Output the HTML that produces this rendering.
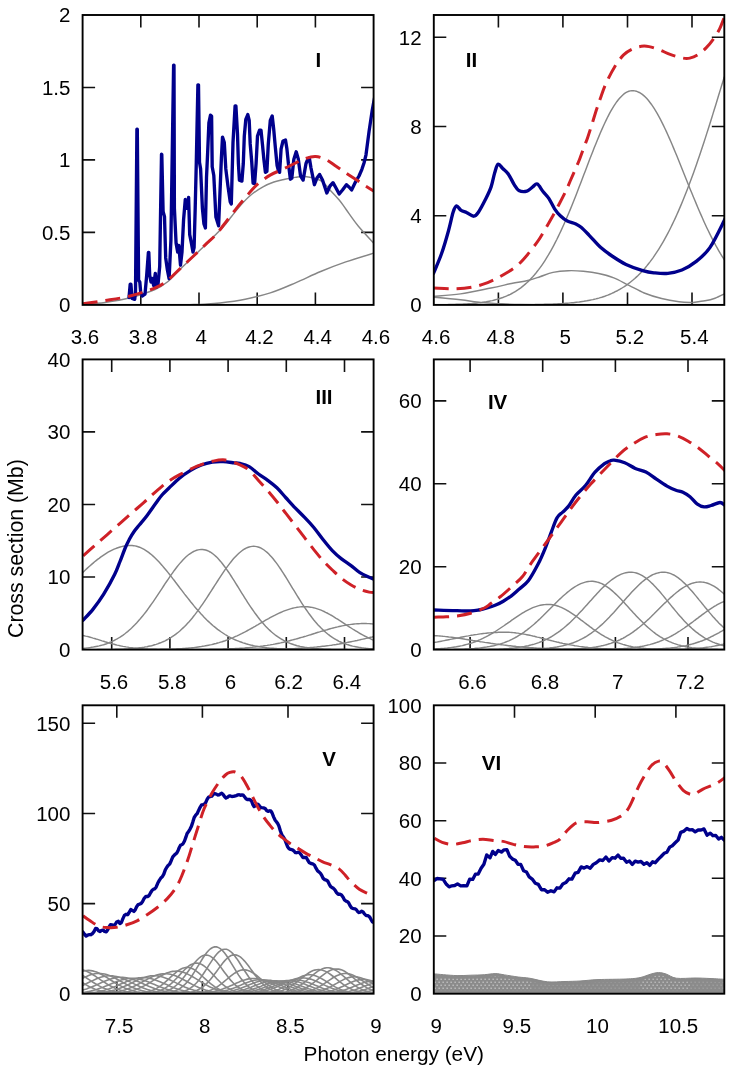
<!DOCTYPE html><html><head><meta charset="utf-8"><title>Cross sections</title><style>html,body{margin:0;padding:0;background:#fff}svg{display:block;will-change:transform}text{font-family:"Liberation Sans",sans-serif}</style></head><body>
<svg width="737" height="1073" viewBox="0 0 737 1073">
<rect width="737" height="1073" fill="#fff"/>
<path d="M140.8 15V27.5 M140.8 304.9V292.4 M199 15V27.5 M199 304.9V292.4 M257.2 15V27.5 M257.2 304.9V292.4 M315.4 15V27.5 M315.4 304.9V292.4 M82.6 232.4H95.1 M373.6 232.4H361.1 M82.6 159.9H95.1 M373.6 159.9H361.1 M82.6 87.5H95.1 M373.6 87.5H361.1" stroke="#111" stroke-width="1.6" fill="none"/>
<defs><clipPath id="cI"><rect x="82.6" y="15" width="291" height="289.9"/></clipPath></defs>
<g clip-path="url(#cI)">
<path stroke="#868686" stroke-width="1.45" fill="none" d="M82.6 304.3 C86.3 304 97.1 303.6 105 302.5 C112.9 301.4 121.7 300 130 297.8 C138.3 295.6 148.7 292.2 155 289.5 C161.3 286.8 163.7 285 168 281.5 C172.3 278 175.5 273.9 181 268.5 C186.5 263.1 194 256.1 200.9 249.3 C207.8 242.5 217.5 233 222.6 227.5 C227.7 222 228.4 220.3 231.5 216.5 C234.6 212.7 237.9 208.2 241.3 204.5 C244.7 200.8 248.5 196.9 252.1 194 C255.7 191.1 259.4 188.8 263 186.8 C266.6 184.8 270.2 183.3 273.9 182 C277.6 180.7 281.5 180 285 179.2 C288.5 178.4 291.7 177.8 295 177.4 C298.3 177 300.7 176 305 176.5 C309.3 177 316.3 178.2 320.6 180.6 C324.9 183 327.8 187.7 330.9 190.9 C334 194.1 336.7 197 339.2 200 C341.7 203 342.6 204.6 345.8 209 C349 213.4 353.5 220.3 358.4 226.2 C363.3 232.1 372.2 241.4 375 244.5"/>
<path stroke="#868686" stroke-width="1.45" fill="none" d="M190 304.6 C192.5 304.5 200 304.5 205 304.2 C210 303.9 213.3 303.8 220 303 C226.7 302.2 236.8 300.9 245.2 299.2 C253.6 297.5 261.9 295.6 270.3 292.9 C278.7 290.2 287.1 286.4 295.5 282.8 C303.9 279.2 312.3 275 320.7 271.5 C329.1 268 336.8 265 345.8 261.9 C354.9 258.8 370.1 254.3 375 252.8"/>
<path stroke="#00008c" stroke-width="3.35" fill="none" stroke-linejoin="round" stroke-linecap="round" d="M129 297.6 L130.2 284.2 L130.9 284.2 L132.1 298.4 L134.7 299.3 L135.5 292.4 L136.9 129.2 L137.3 129.2 L138.6 280.3 L139.8 282 L140.7 292.4 L142.4 295.9 L145 294.1 L146.7 275.2 L148.4 252.4 L148.8 252.4 L149.7 275.2 L151 282 L152.4 278.6 L153.6 285.5 L155.3 273.4 L156.2 287.2 L157.9 285.5 L159.7 266.6 L161.5 154.2 L161.8 154.6 L163.1 211.4 L164.5 216.6 L165.7 257.9 L167.4 270 L169.1 278.6 L170.9 240.7 L171.7 189 L173.6 65.2 L174 65.2 L174.4 208.3 L176.1 243.3 L177.7 252.1 L178.8 245.5 L180.5 265.2 L182 252.1 L183.6 219.3 L185.3 199.5 L187.1 208.3 L188.6 197.4 L189.7 234.6 L191.4 243.3 L193 252.1 L194.1 247.7 L195.2 208.3 L196.3 162.3 L197.9 84.8 L198.5 84.8 L199.5 162.3 L200.6 168.9 L202.4 208.3 L203.9 223.6 L205.4 228 L206.5 177.6 L207.6 153.6 L208.9 122.9 L210.5 115.2 L211.6 116.3 L212.2 166.7 L213.8 175.5 L215.9 217.1 L218.6 225.8 L221.4 157.9 L222.5 137.1 L224.3 142.6 L225.8 168.9 L228 186.4 L230.2 201.7 L231.3 203.9 L233 142.6 L235.1 105.9 L235.9 105.9 L237.5 134.1 L238.4 163.5 L239.4 180.1 L241.9 181.1 L243.3 163.5 L244.3 136.1 L245.8 119.5 L247.8 114.6 L249.2 120.4 L250.2 143.9 L251.7 161.5 L253.1 183.1 L254.6 183.6 L256.1 163.5 L257.5 136.1 L259.5 130.2 L261 130.2 L262.4 143.9 L263.9 159.6 L265.4 172.3 L266.9 171.3 L268.3 143.9 L270.3 120.4 L272.2 116 L273.7 129.2 L275.2 145.9 L277.1 165.5 L278.6 171.3 L279.6 172.3 L281.1 148.8 L283 141 L285.5 140 L286.9 148.8 L288.4 163.5 L290.4 179.2 L291.8 178.2 L293.8 159.6 L296.2 151.8 L298.2 158.6 L300.6 176.2 L303.1 180.1 L306 163.5 L307.5 160 L309.3 157.9 L311 168 L314.4 184.7 L317 178 L319.6 174.4 L322.5 180 L326.8 193 L330 186 L333 182.7 L336 188 L339.2 194 L342.5 190 L346.4 184.7 L349 187 L351.6 189.9 L355.7 181.6 L359 176 L361.9 169.3 L364 163 L366 154.8 L369.1 131.1 L372.2 110.5 L374.5 98"/>
<path stroke="#cf2127" stroke-width="3" fill="none" stroke-dasharray="15 8" d="M82.6 303.8 C86.3 303.3 97.1 301.9 105 300.6 C112.9 299.3 121.7 298.1 130 296 C138.3 293.9 148.7 290.6 155 287.9 C161.3 285.2 163.7 283.4 168 280 C172.3 276.6 176.8 271.6 181 267.7 C185.2 263.8 189 260.3 193 256.5 C197 252.7 201.3 248.6 205.2 244.9 C209 241.2 212.8 238.2 216.1 234.6 C219.4 231 221.7 227.4 225 223.2 C228.3 218.9 232.3 213.6 235.9 209.1 C239.5 204.6 243.1 200.2 246.7 196 C250.3 191.8 253.6 187.6 257.6 184.1 C261.6 180.6 266.5 177.3 270.6 174.9 C274.8 172.5 278.5 171.3 282.5 169.4 C286.5 167.5 290.8 165.3 294.5 163.5 C298.2 161.7 301.5 159.8 305 158.6 C308.5 157.4 312 156.2 315.5 156.4 C319 156.6 322.4 157.9 325.8 159.5 C329.2 161.1 332.7 163.9 336.1 166.2 C339.5 168.5 343 171.1 346.4 173.4 C349.8 175.7 353.4 177.9 356.7 180.1 C360 182.2 362.9 184.4 366 186.3 C369.1 188.2 373.5 190.9 375 191.8"/>
</g>
<rect x="82.6" y="15" width="291" height="289.9" stroke="#000" stroke-width="1.9" fill="none"/>
<text x="84.9" y="344.4" font-size="20.5" text-anchor="middle">3.6</text>
<text x="143.1" y="344.4" font-size="20.5" text-anchor="middle">3.8</text>
<text x="201.3" y="344.4" font-size="20.5" text-anchor="middle">4</text>
<text x="259.5" y="344.4" font-size="20.5" text-anchor="middle">4.2</text>
<text x="317.7" y="344.4" font-size="20.5" text-anchor="middle">4.4</text>
<text x="375.9" y="344.4" font-size="20.5" text-anchor="middle">4.6</text>
<text x="70.4" y="312.2" font-size="20.5" text-anchor="end">0</text>
<text x="70.4" y="239.8" font-size="20.5" text-anchor="end">0.5</text>
<text x="70.4" y="167.3" font-size="20.5" text-anchor="end">1</text>
<text x="70.4" y="94.9" font-size="20.5" text-anchor="end">1.5</text>
<text x="70.4" y="22.4" font-size="20.5" text-anchor="end">2</text>
<text x="318.3" y="66.6" font-size="20.5" font-weight="bold" text-anchor="middle">I</text>
<path d="M498.4 15V27.5 M498.4 304.9V292.4 M562.9 15V27.5 M562.9 304.9V292.4 M627.5 15V27.5 M627.5 304.9V292.4 M692 15V27.5 M692 304.9V292.4 M433.8 215.7H446.3 M724.3 215.7H711.8 M433.8 126.5H446.3 M724.3 126.5H711.8 M433.8 37.3H446.3 M724.3 37.3H711.8" stroke="#111" stroke-width="1.6" fill="none"/>
<defs><clipPath id="cII"><rect x="433.8" y="15" width="290.5" height="289.9"/></clipPath></defs>
<g clip-path="url(#cII)">
<path stroke="#868686" stroke-width="1.45" fill="none" d="M433.8 304.7 L435.3 304.7 L436.8 304.7 L438.3 304.7 L439.8 304.7 L441.3 304.7 L442.8 304.6 L444.3 304.6 L445.8 304.6 L447.3 304.6 L448.8 304.5 L450.3 304.5 L451.8 304.5 L453.3 304.4 L454.8 304.4 L456.3 304.3 L457.8 304.3 L459.3 304.2 L460.8 304.2 L462.3 304.1 L463.8 304 L465.3 304 L466.8 303.9 L468.3 303.8 L469.8 303.7 L471.3 303.6 L472.8 303.4 L474.3 303.3 L475.8 303.2 L477.3 303 L478.8 302.8 L480.3 302.7 L481.8 302.5 L483.3 302.2 L484.8 302 L486.3 301.8 L487.8 301.5 L489.3 301.2 L490.8 300.9 L492.3 300.6 L493.8 300.2 L495.3 299.8 L496.8 299.4 L498.3 299 L499.8 298.5 L501.3 298 L502.8 297.5 L504.3 296.9 L505.8 296.3 L507.3 295.7 L508.8 295 L510.3 294.3 L511.8 293.5 L513.3 292.7 L514.8 291.8 L516.3 290.9 L517.8 289.9 L519.3 288.8 L520.8 287.8 L522.3 286.6 L523.8 285.4 L525.3 284.1 L526.8 282.8 L528.3 281.4 L529.8 279.9 L531.3 278.3 L532.8 276.7 L534.3 275 L535.8 273.2 L537.3 271.3 L538.8 269.4 L540.3 267.4 L541.8 265.3 L543.3 263.1 L544.8 260.8 L546.3 258.4 L547.8 256 L549.3 253.4 L550.8 250.8 L552.3 248.1 L553.8 245.3 L555.3 242.4 L556.8 239.5 L558.3 236.4 L559.8 233.3 L561.3 230.1 L562.8 226.8 L564.3 223.5 L565.8 220 L567.3 216.5 L568.8 213 L570.3 209.4 L571.8 205.7 L573.3 202 L574.8 198.2 L576.3 194.4 L577.8 190.5 L579.3 186.6 L580.8 182.7 L582.3 178.8 L583.8 174.8 L585.3 170.9 L586.8 167 L588.3 163.1 L589.8 159.1 L591.3 155.3 L592.8 151.4 L594.3 147.6 L595.8 143.9 L597.3 140.2 L598.8 136.6 L600.3 133 L601.8 129.6 L603.3 126.2 L604.8 123 L606.3 119.9 L607.8 116.8 L609.3 113.9 L610.8 111.2 L612.3 108.6 L613.8 106.1 L615.3 103.8 L616.8 101.7 L618.3 99.7 L619.8 98 L621.3 96.4 L622.8 95 L624.3 93.7 L625.8 92.7 L627.3 91.9 L628.8 91.3 L630.3 90.9 L631.8 90.7 L633.3 90.7 L634.8 90.9 L636.3 91.2 L637.8 91.8 L639.3 92.5 L640.8 93.4 L642.3 94.4 L643.8 95.6 L645.3 97 L646.8 98.6 L648.3 100.3 L649.8 102.2 L651.3 104.2 L652.8 106.4 L654.3 108.7 L655.8 111.1 L657.3 113.7 L658.8 116.4 L660.3 119.2 L661.8 122.1 L663.3 125.1 L664.8 128.2 L666.3 131.4 L667.8 134.7 L669.3 138.1 L670.8 141.5 L672.3 145 L673.8 148.6 L675.3 152.2 L676.8 155.8 L678.3 159.5 L679.8 163.2 L681.3 166.9 L682.8 170.7 L684.3 174.4 L685.8 178.2 L687.3 181.9 L688.8 185.7 L690.3 189.4 L691.8 193.1 L693.3 196.7 L694.8 200.3 L696.3 203.9 L697.8 207.5 L699.3 211 L700.8 214.4 L702.3 217.8 L703.8 221.2 L705.3 224.5 L706.8 227.7 L708.3 230.8 L709.8 233.9 L711.3 236.9 L712.8 239.8 L714.3 242.7 L715.8 245.5 L717.3 248.2 L718.8 250.8 L720.3 253.4 L721.8 255.8 L723.3 258.2 L724.3 259.8"/>
<path stroke="#868686" stroke-width="1.45" fill="none" d="M433.8 304.8 L435.3 304.8 L436.8 304.8 L438.3 304.8 L439.8 304.8 L441.3 304.8 L442.8 304.8 L444.3 304.8 L445.8 304.8 L447.3 304.8 L448.8 304.8 L450.3 304.8 L451.8 304.8 L453.3 304.8 L454.8 304.8 L456.3 304.8 L457.8 304.8 L459.3 304.8 L460.8 304.8 L462.3 304.8 L463.8 304.8 L465.3 304.8 L466.8 304.8 L468.3 304.8 L469.8 304.8 L471.3 304.8 L472.8 304.8 L474.3 304.8 L475.8 304.8 L477.3 304.8 L478.8 304.8 L480.3 304.8 L481.8 304.8 L483.3 304.8 L484.8 304.8 L486.3 304.8 L487.8 304.8 L489.3 304.8 L490.8 304.8 L492.3 304.8 L493.8 304.8 L495.3 304.8 L496.8 304.8 L498.3 304.8 L499.8 304.8 L501.3 304.8 L502.8 304.8 L504.3 304.8 L505.8 304.8 L507.3 304.8 L508.8 304.8 L510.3 304.8 L511.8 304.8 L513.3 304.8 L514.8 304.8 L516.3 304.7 L517.8 304.7 L519.3 304.7 L520.8 304.7 L522.3 304.7 L523.8 304.7 L525.3 304.7 L526.8 304.7 L528.3 304.6 L529.8 304.6 L531.3 304.6 L532.8 304.6 L534.3 304.6 L535.8 304.5 L537.3 304.5 L538.8 304.5 L540.3 304.4 L541.8 304.4 L543.3 304.4 L544.8 304.3 L546.3 304.3 L547.8 304.2 L549.3 304.2 L550.8 304.1 L552.3 304.1 L553.8 304 L555.3 303.9 L556.8 303.9 L558.3 303.8 L559.8 303.7 L561.3 303.6 L562.8 303.5 L564.3 303.4 L565.8 303.3 L567.3 303.2 L568.8 303.1 L570.3 302.9 L571.8 302.8 L573.3 302.7 L574.8 302.5 L576.3 302.3 L577.8 302.1 L579.3 302 L580.8 301.7 L582.3 301.5 L583.8 301.3 L585.3 301 L586.8 300.8 L588.3 300.5 L589.8 300.2 L591.3 299.9 L592.8 299.6 L594.3 299.2 L595.8 298.9 L597.3 298.5 L598.8 298.1 L600.3 297.6 L601.8 297.2 L603.3 296.7 L604.8 296.2 L606.3 295.6 L607.8 295.1 L609.3 294.5 L610.8 293.8 L612.3 293.2 L613.8 292.5 L615.3 291.7 L616.8 291 L618.3 290.2 L619.8 289.3 L621.3 288.5 L622.8 287.5 L624.3 286.6 L625.8 285.6 L627.3 284.5 L628.8 283.4 L630.3 282.2 L631.8 281 L633.3 279.8 L634.8 278.5 L636.3 277.1 L637.8 275.7 L639.3 274.2 L640.8 272.7 L642.3 271.1 L643.8 269.4 L645.3 267.7 L646.8 265.9 L648.3 264 L649.8 262.1 L651.3 260.1 L652.8 258.1 L654.3 255.9 L655.8 253.7 L657.3 251.4 L658.8 249.1 L660.3 246.7 L661.8 244.2 L663.3 241.6 L664.8 238.9 L666.3 236.2 L667.8 233.4 L669.3 230.5 L670.8 227.5 L672.3 224.4 L673.8 221.3 L675.3 218.1 L676.8 214.8 L678.3 211.4 L679.8 207.9 L681.3 204.4 L682.8 200.8 L684.3 197.1 L685.8 193.3 L687.3 189.5 L688.8 185.6 L690.3 181.6 L691.8 177.5 L693.3 173.4 L694.8 169.2 L696.3 164.9 L697.8 160.6 L699.3 156.2 L700.8 151.8 L702.3 147.3 L703.8 142.7 L705.3 138.1 L706.8 133.4 L708.3 128.7 L709.8 124 L711.3 119.2 L712.8 114.4 L714.3 109.5 L715.8 104.7 L717.3 99.8 L718.8 94.8 L720.3 89.9 L721.8 85 L723.3 80.1 L724.3 76.8"/>
<path stroke="#868686" stroke-width="1.45" fill="none" d="M433.8 296.4 C438.2 296 451 295.3 460.5 293.9 C470 292.5 482.5 289.7 491 288 C499.5 286.3 505.3 284.8 511.4 283.5 C517.5 282.2 522.9 281.6 527.7 280.5 C532.5 279.4 535.8 278.1 540 276.7 C544.2 275.3 548.3 273.4 553 272.4 C557.7 271.4 563.1 270.9 568.2 270.7 C573.3 270.5 578.3 270.8 583.4 271.3 C588.5 271.8 593.5 272.4 598.6 273.5 C603.7 274.6 608.7 275.8 613.8 277.8 C618.9 279.8 623.9 282.9 629 285.4 C634.1 287.9 638.8 290.8 644.2 293 C649.6 295.2 655.8 297.1 661.6 298.5 C667.4 299.9 673.9 301 679 301.7 C684.1 302.4 690.1 302.5 692.3 302.6"/>
<path stroke="#868686" stroke-width="1.45" fill="none" d="M433.8 297.2 C438.2 297.6 452.6 298.9 460.5 299.8 C468.4 300.7 474.8 301.9 480.9 302.5 C487 303.1 490.7 303.3 497.2 303.6 C503.7 303.9 509.5 304.3 520 304.5 C530.5 304.7 553.3 304.8 560 304.9"/>
<path stroke="#868686" stroke-width="1.45" fill="none" d="M692.3 302.6 C694.4 302.3 701.2 301.5 705 300.8 C708.8 300.1 711.7 299.4 715 298.2 C718.3 297 723.3 294.4 725 293.6"/>
<path stroke="#00008c" stroke-width="3.35" fill="none" stroke-linejoin="round" stroke-linecap="round" d="M433.5 273.4 C434.8 270.1 439 260.9 441.5 253.8 C444 246.7 446.6 237.6 448.5 230.7 C450.4 223.8 451.8 216.4 453.1 212.3 C454.4 208.2 455.2 206.3 456.5 206 C457.8 205.7 459.4 209.3 461.1 210.4 C462.8 211.5 464.8 211.7 466.9 212.7 C469 213.7 471.9 216.3 473.8 216.2 C475.7 216.1 476.5 215.1 478.4 212.3 C480.3 209.5 483.3 203.8 485.4 199.6 C487.5 195.4 489.6 191.3 491.1 186.9 C492.6 182.5 493.5 176.9 494.6 173.1 C495.8 169.3 496.6 165.1 498 164.3 C499.4 163.5 501 166.8 502.7 168.5 C504.4 170.2 506.5 171.5 508.4 174.2 C510.3 176.9 512.5 181.9 514.2 184.6 C515.9 187.3 516.7 189.3 518.8 190.4 C520.9 191.5 524.6 191.7 526.9 191.1 C529.2 190.5 531 188.1 532.7 186.9 C534.4 185.7 535.6 183.3 537.3 184.1 C539 184.9 541.1 189.1 543 191.5 C544.9 193.9 546.9 195.5 548.8 198.4 C550.7 201.3 552.7 205.9 554.6 208.8 C556.5 211.7 558.2 213.7 560.3 215.7 C562.4 217.7 564.8 219.7 567.3 221 C569.8 222.3 573 222.8 575.3 223.8 C577.6 224.9 578.8 225.4 581.1 227.3 C583.4 229.2 585.9 231.9 589.2 235.3 C592.5 238.7 597 244.2 600.8 247.6 C604.6 251 607.8 253.2 612 256 C616.2 258.8 620.9 262 626 264.4 C631.1 266.8 638.1 269.2 642.7 270.6 C647.4 272 649.7 272.4 653.9 272.8 C658.1 273.2 663.2 273.8 667.9 273.3 C672.6 272.8 677.2 271.9 681.9 270 C686.6 268.1 691.2 265.3 695.9 261.6 C700.6 257.9 705 254.7 709.9 247.6 C714.8 240.5 722.5 223.8 725 219"/>
<path stroke="#cf2127" stroke-width="3" fill="none" stroke-dasharray="15 8" d="M433.5 287.9 C436.8 288 446.8 288.9 453.1 288.8 C459.4 288.7 465.7 288.2 471.5 287.2 C477.3 286.2 482.3 284.7 487.7 282.6 C493.1 280.5 498.4 277.8 503.8 274.5 C509.2 271.2 514.5 268.3 520 263 C525.5 257.7 532.6 248.3 536.8 242.6 C541 236.9 542.5 233.7 545.3 229 C548.1 224.3 551.1 218.9 553.6 214.5 C556.1 210.1 557.9 206.5 560 202.5 C562.1 198.5 564.4 194.1 566.1 190.5 C567.8 186.9 568.7 184.6 570.2 181 C571.8 177.4 573.9 172.8 575.4 169.2 C576.9 165.6 578 163.4 579.5 159.5 C581 155.6 583.2 149.3 584.6 145.6 C586 141.9 586.5 140.9 587.7 137.4 C588.9 133.9 590.3 129.5 591.8 124.8 C593.3 120.1 595.2 113.5 596.7 109 C598.2 104.5 599 102.2 600.5 98 C602 93.8 603.4 89.2 605.7 84 C608.1 78.8 611.6 71.8 614.6 67 C617.6 62.1 620.6 57.9 623.6 54.9 C626.6 51.9 629.5 50.3 632.5 48.9 C635.5 47.5 638.6 46.7 641.4 46.3 C644.2 45.9 646 46 649.1 46.6 C652.2 47.2 656.3 48.6 659.9 50 C663.5 51.4 666.9 53.4 670.8 54.7 C674.6 56.1 679.8 57.5 683 58.1 C686.2 58.7 687.3 58.7 689.8 58.1 C692.3 57.5 695.2 56.4 697.9 54.7 C700.6 53 703.6 50.4 706.1 47.9 C708.6 45.4 710.5 43 712.8 39.8 C715 36.6 717.6 32.9 719.6 28.9 C721.6 24.8 724.1 17.7 725 15.5"/>
</g>
<rect x="433.8" y="15" width="290.5" height="289.9" stroke="#000" stroke-width="1.9" fill="none"/>
<text x="436.1" y="344.4" font-size="20.5" text-anchor="middle">4.6</text>
<text x="500.7" y="344.4" font-size="20.5" text-anchor="middle">4.8</text>
<text x="565.2" y="344.4" font-size="20.5" text-anchor="middle">5</text>
<text x="629.8" y="344.4" font-size="20.5" text-anchor="middle">5.2</text>
<text x="694.3" y="344.4" font-size="20.5" text-anchor="middle">5.4</text>
<text x="421.6" y="312.2" font-size="20.5" text-anchor="end">0</text>
<text x="421.6" y="223.1" font-size="20.5" text-anchor="end">4</text>
<text x="421.6" y="133.9" font-size="20.5" text-anchor="end">8</text>
<text x="421.6" y="44.7" font-size="20.5" text-anchor="end">12</text>
<text x="471.5" y="67.1" font-size="20.5" font-weight="bold" text-anchor="middle">II</text>
<path d="M111.7 359.4V371.9 M111.7 649.6V637.1 M169.9 359.4V371.9 M169.9 649.6V637.1 M228.1 359.4V371.9 M228.1 649.6V637.1 M286.3 359.4V371.9 M286.3 649.6V637.1 M344.5 359.4V371.9 M344.5 649.6V637.1 M82.6 577H95.1 M373.6 577H361.1 M82.6 504.5H95.1 M373.6 504.5H361.1 M82.6 431.9H95.1 M373.6 431.9H361.1" stroke="#111" stroke-width="1.6" fill="none"/>
<defs><clipPath id="cIII"><rect x="82.6" y="359.4" width="291" height="290.2"/></clipPath></defs>
<g clip-path="url(#cIII)">
<path stroke="#868686" stroke-width="1.45" fill="none" d="M82.6 635.4 L84.1 635.7 L85.6 636.1 L87.1 636.4 L88.6 636.8 L90.1 637.2 L91.6 637.6 L93.1 638.1 L94.6 638.5 L96.1 639 L97.6 639.4 L99.1 639.9 L100.6 640.4 L102.1 640.9 L103.6 641.3 L105.1 641.8 L106.6 642.2 L108.1 642.7 L109.6 643.1 L111.1 643.5 L112.6 643.9 L114.1 644.3 L115.6 644.7 L117.1 645.1 L118.6 645.4 L120.1 645.8 L121.6 646.1 L123.1 646.4 L124.6 646.6 L126.1 646.9 L127.6 647.1 L129.1 647.4 L130.6 647.6 L132.1 647.8 L133.6 648 L135.1 648.1 L136.6 648.3 L138.1 648.4 L139.6 648.5 L141.1 648.7 L142.6 648.8 L144.1 648.9 L145.6 649 L147.1 649 L148.6 649.1 L150.1 649.2 L151.6 649.2 L153.1 649.3 L154.6 649.3 L156.1 649.3 L157.6 649.4 L159.1 649.4 L160.6 649.4 L162.1 649.5 L163.6 649.5 L165.1 649.5 L166.6 649.5 L168.1 649.5 L169.6 649.5 L171.1 649.5 L172.6 649.6 L174.1 649.6 L175.6 649.6 L177.1 649.6 L178.6 649.6 L180.1 649.6 L181.6 649.6 L183.1 649.6 L184.6 649.6 L186.1 649.6 L187.6 649.6 L189.1 649.6 L190.6 649.6 L192.1 649.6 L193.6 649.6 L195.1 649.6 L196.6 649.6 L198.1 649.6 L199.6 649.6 L201.1 649.6 L202.6 649.6 L204.1 649.6 L205.6 649.6 L207.1 649.6 L208.6 649.6 L210.1 649.6 L211.6 649.6 L213.1 649.6 L214.6 649.6 L216.1 649.6 L217.6 649.6 L219.1 649.6 L220.6 649.6 L222.1 649.6 L223.6 649.6 L225.1 649.6 L226.6 649.6 L228.1 649.6 L229.6 649.6 L231.1 649.6 L232.6 649.6 L234.1 649.6 L235.6 649.6 L237.1 649.6 L238.6 649.6 L240.1 649.6 L241.6 649.6 L243.1 649.6 L244.6 649.6 L246.1 649.6 L247.6 649.6 L249.1 649.6 L250.6 649.6 L252.1 649.6 L253.6 649.6 L255.1 649.6 L256.6 649.6 L258.1 649.6 L259.6 649.6 L261.1 649.6 L262.6 649.6 L264.1 649.6 L265.6 649.6 L267.1 649.6 L268.6 649.6 L270.1 649.6 L271.6 649.6 L273.1 649.6 L274.6 649.6 L276.1 649.6 L277.6 649.6 L279.1 649.6 L280.6 649.6 L282.1 649.6 L283.6 649.6 L285.1 649.6 L286.6 649.6 L288.1 649.6 L289.6 649.6 L291.1 649.6 L292.6 649.6 L294.1 649.6 L295.6 649.6 L297.1 649.6 L298.6 649.6 L300.1 649.6 L301.6 649.6 L303.1 649.6 L304.6 649.6 L306.1 649.6 L307.6 649.6 L309.1 649.6 L310.6 649.6 L312.1 649.6 L313.6 649.6 L315.1 649.6 L316.6 649.6 L318.1 649.6 L319.6 649.6 L321.1 649.6 L322.6 649.6 L324.1 649.6 L325.6 649.6 L327.1 649.6 L328.6 649.6 L330.1 649.6 L331.6 649.6 L333.1 649.6 L334.6 649.6 L336.1 649.6 L337.6 649.6 L339.1 649.6 L340.6 649.6 L342.1 649.6 L343.6 649.6 L345.1 649.6 L346.6 649.6 L348.1 649.6 L349.6 649.6 L351.1 649.6 L352.6 649.6 L354.1 649.6 L355.6 649.6 L357.1 649.6 L358.6 649.6 L360.1 649.6 L361.6 649.6 L363.1 649.6 L364.6 649.6 L366.1 649.6 L367.6 649.6 L369.1 649.6 L370.6 649.6 L372.1 649.6 L373.6 649.6"/>
<path stroke="#868686" stroke-width="1.45" fill="none" d="M82.6 572.6 L84.1 571.2 L85.6 569.8 L87.1 568.4 L88.6 567 L90.1 565.7 L91.6 564.4 L93.1 563.1 L94.6 561.8 L96.1 560.6 L97.6 559.4 L99.1 558.3 L100.6 557.1 L102.1 556.1 L103.6 555.1 L105.1 554.1 L106.6 553.1 L108.1 552.2 L109.6 551.4 L111.1 550.6 L112.6 549.9 L114.1 549.2 L115.6 548.6 L117.1 548 L118.6 547.5 L120.1 547 L121.6 546.6 L123.1 546.3 L124.6 546 L126.1 545.8 L127.6 545.6 L129.1 545.5 L130.6 545.5 L132.1 545.5 L133.6 545.7 L135.1 545.9 L136.6 546.3 L138.1 546.7 L139.6 547.2 L141.1 547.9 L142.6 548.6 L144.1 549.4 L145.6 550.3 L147.1 551.3 L148.6 552.4 L150.1 553.6 L151.6 554.8 L153.1 556.1 L154.6 557.5 L156.1 559 L157.6 560.5 L159.1 562.1 L160.6 563.7 L162.1 565.4 L163.6 567.2 L165.1 569 L166.6 570.8 L168.1 572.6 L169.6 574.5 L171.1 576.4 L172.6 578.4 L174.1 580.3 L175.6 582.3 L177.1 584.2 L178.6 586.2 L180.1 588.2 L181.6 590.1 L183.1 592.1 L184.6 594.1 L186.1 596 L187.6 597.9 L189.1 599.8 L190.6 601.7 L192.1 603.5 L193.6 605.4 L195.1 607.2 L196.6 608.9 L198.1 610.6 L199.6 612.3 L201.1 614 L202.6 615.6 L204.1 617.2 L205.6 618.7 L207.1 620.2 L208.6 621.6 L210.1 623 L211.6 624.4 L213.1 625.7 L214.6 626.9 L216.1 628.1 L217.6 629.3 L219.1 630.4 L220.6 631.5 L222.1 632.5 L223.6 633.5 L225.1 634.5 L226.6 635.4 L228.1 636.3 L229.6 637.1 L231.1 637.9 L232.6 638.6 L234.1 639.3 L235.6 640 L237.1 640.6 L238.6 641.2 L240.1 641.8 L241.6 642.3 L243.1 642.9 L244.6 643.3 L246.1 643.8 L247.6 644.2 L249.1 644.6 L250.6 645 L252.1 645.3 L253.6 645.7 L255.1 646 L256.6 646.2 L258.1 646.5 L259.6 646.8 L261.1 647 L262.6 647.2 L264.1 647.4 L265.6 647.6 L267.1 647.8 L268.6 647.9 L270.1 648.1 L271.6 648.2 L273.1 648.3 L274.6 648.4 L276.1 648.5 L277.6 648.6 L279.1 648.7 L280.6 648.8 L282.1 648.9 L283.6 648.9 L285.1 649 L286.6 649.1 L288.1 649.1 L289.6 649.2 L291.1 649.2 L292.6 649.2 L294.1 649.3 L295.6 649.3 L297.1 649.3 L298.6 649.4 L300.1 649.4 L301.6 649.4 L303.1 649.4 L304.6 649.5 L306.1 649.5 L307.6 649.5 L309.1 649.5 L310.6 649.5 L312.1 649.5 L313.6 649.5 L315.1 649.5 L316.6 649.5 L318.1 649.5 L319.6 649.6 L321.1 649.6 L322.6 649.6 L324.1 649.6 L325.6 649.6 L327.1 649.6 L328.6 649.6 L330.1 649.6 L331.6 649.6 L333.1 649.6 L334.6 649.6 L336.1 649.6 L337.6 649.6 L339.1 649.6 L340.6 649.6 L342.1 649.6 L343.6 649.6 L345.1 649.6 L346.6 649.6 L348.1 649.6 L349.6 649.6 L351.1 649.6 L352.6 649.6 L354.1 649.6 L355.6 649.6 L357.1 649.6 L358.6 649.6 L360.1 649.6 L361.6 649.6 L363.1 649.6 L364.6 649.6 L366.1 649.6 L367.6 649.6 L369.1 649.6 L370.6 649.6 L372.1 649.6 L373.6 649.6"/>
<path stroke="#868686" stroke-width="1.45" fill="none" d="M82.6 648.4 L84.1 648.3 L85.6 648.1 L87.1 647.9 L88.6 647.8 L90.1 647.6 L91.6 647.3 L93.1 647.1 L94.6 646.8 L96.1 646.5 L97.6 646.2 L99.1 645.9 L100.6 645.5 L102.1 645.1 L103.6 644.7 L105.1 644.2 L106.6 643.7 L108.1 643.1 L109.6 642.5 L111.1 641.9 L112.6 641.2 L114.1 640.5 L115.6 639.7 L117.1 638.9 L118.6 638 L120.1 637.1 L121.6 636.1 L123.1 635.1 L124.6 634 L126.1 632.8 L127.6 631.6 L129.1 630.3 L130.6 629 L132.1 627.6 L133.6 626.1 L135.1 624.6 L136.6 623 L138.1 621.3 L139.6 619.6 L141.1 617.8 L142.6 616 L144.1 614.1 L145.6 612.2 L147.1 610.2 L148.6 608.1 L150.1 606 L151.6 603.9 L153.1 601.8 L154.6 599.6 L156.1 597.3 L157.6 595.1 L159.1 592.8 L160.6 590.6 L162.1 588.3 L163.6 586 L165.1 583.7 L166.6 581.5 L168.1 579.3 L169.6 577.1 L171.1 574.9 L172.6 572.8 L174.1 570.7 L175.6 568.7 L177.1 566.7 L178.6 564.9 L180.1 563.1 L181.6 561.4 L183.1 559.8 L184.6 558.2 L186.1 556.8 L187.6 555.5 L189.1 554.3 L190.6 553.3 L192.1 552.3 L193.6 551.5 L195.1 550.9 L196.6 550.3 L198.1 549.9 L199.6 549.6 L201.1 549.5 L202.6 549.5 L204.1 549.7 L205.6 550 L207.1 550.5 L208.6 551.2 L210.1 552 L211.6 552.9 L213.1 554 L214.6 555.3 L216.1 556.6 L217.6 558.1 L219.1 559.7 L220.6 561.4 L222.1 563.3 L223.6 565.2 L225.1 567.2 L226.6 569.3 L228.1 571.5 L229.6 573.7 L231.1 576 L232.6 578.3 L234.1 580.7 L235.6 583.1 L237.1 585.5 L238.6 587.9 L240.1 590.3 L241.6 592.8 L243.1 595.2 L244.6 597.6 L246.1 599.9 L247.6 602.3 L249.1 604.6 L250.6 606.8 L252.1 609 L253.6 611.2 L255.1 613.3 L256.6 615.3 L258.1 617.3 L259.6 619.2 L261.1 621.1 L262.6 622.8 L264.1 624.5 L265.6 626.2 L267.1 627.7 L268.6 629.2 L270.1 630.6 L271.6 632 L273.1 633.3 L274.6 634.5 L276.1 635.6 L277.6 636.7 L279.1 637.7 L280.6 638.7 L282.1 639.5 L283.6 640.4 L285.1 641.2 L286.6 641.9 L288.1 642.6 L289.6 643.2 L291.1 643.8 L292.6 644.3 L294.1 644.8 L295.6 645.2 L297.1 645.7 L298.6 646 L300.1 646.4 L301.6 646.7 L303.1 647 L304.6 647.3 L306.1 647.5 L307.6 647.7 L309.1 647.9 L310.6 648.1 L312.1 648.3 L313.6 648.4 L315.1 648.6 L316.6 648.7 L318.1 648.8 L319.6 648.9 L321.1 649 L322.6 649 L324.1 649.1 L325.6 649.2 L327.1 649.2 L328.6 649.3 L330.1 649.3 L331.6 649.4 L333.1 649.4 L334.6 649.4 L336.1 649.4 L337.6 649.5 L339.1 649.5 L340.6 649.5 L342.1 649.5 L343.6 649.5 L345.1 649.5 L346.6 649.5 L348.1 649.6 L349.6 649.6 L351.1 649.6 L352.6 649.6 L354.1 649.6 L355.6 649.6 L357.1 649.6 L358.6 649.6 L360.1 649.6 L361.6 649.6 L363.1 649.6 L364.6 649.6 L366.1 649.6 L367.6 649.6 L369.1 649.6 L370.6 649.6 L372.1 649.6 L373.6 649.6"/>
<path stroke="#868686" stroke-width="1.45" fill="none" d="M82.6 649.6 L84.1 649.6 L85.6 649.6 L87.1 649.6 L88.6 649.6 L90.1 649.6 L91.6 649.6 L93.1 649.6 L94.6 649.6 L96.1 649.6 L97.6 649.5 L99.1 649.5 L100.6 649.5 L102.1 649.5 L103.6 649.5 L105.1 649.5 L106.6 649.5 L108.1 649.5 L109.6 649.4 L111.1 649.4 L112.6 649.4 L114.1 649.4 L115.6 649.3 L117.1 649.3 L118.6 649.3 L120.1 649.2 L121.6 649.2 L123.1 649.1 L124.6 649 L126.1 649 L127.6 648.9 L129.1 648.8 L130.6 648.7 L132.1 648.6 L133.6 648.5 L135.1 648.3 L136.6 648.2 L138.1 648 L139.6 647.8 L141.1 647.6 L142.6 647.4 L144.1 647.2 L145.6 646.9 L147.1 646.7 L148.6 646.3 L150.1 646 L151.6 645.7 L153.1 645.3 L154.6 644.8 L156.1 644.4 L157.6 643.9 L159.1 643.3 L160.6 642.8 L162.1 642.1 L163.6 641.5 L165.1 640.8 L166.6 640 L168.1 639.2 L169.6 638.3 L171.1 637.4 L172.6 636.4 L174.1 635.4 L175.6 634.3 L177.1 633.2 L178.6 632 L180.1 630.7 L181.6 629.3 L183.1 627.9 L184.6 626.5 L186.1 624.9 L187.6 623.3 L189.1 621.7 L190.6 620 L192.1 618.2 L193.6 616.3 L195.1 614.4 L196.6 612.4 L198.1 610.4 L199.6 608.4 L201.1 606.2 L202.6 604.1 L204.1 601.9 L205.6 599.6 L207.1 597.3 L208.6 595 L210.1 592.7 L211.6 590.4 L213.1 588 L214.6 585.7 L216.1 583.3 L217.6 581 L219.1 578.7 L220.6 576.4 L222.1 574.1 L223.6 571.9 L225.1 569.7 L226.6 567.6 L228.1 565.6 L229.6 563.6 L231.1 561.7 L232.6 559.8 L234.1 558.1 L235.6 556.5 L237.1 554.9 L238.6 553.5 L240.1 552.2 L241.6 551 L243.1 549.9 L244.6 549 L246.1 548.2 L247.6 547.5 L249.1 547 L250.6 546.6 L252.1 546.4 L253.6 546.3 L255.1 546.4 L256.6 546.6 L258.1 547 L259.6 547.5 L261.1 548.2 L262.6 549 L264.1 550 L265.6 551.2 L267.1 552.4 L268.6 553.8 L270.1 555.4 L271.6 557 L273.1 558.8 L274.6 560.7 L276.1 562.6 L277.6 564.7 L279.1 566.8 L280.6 569 L282.1 571.3 L283.6 573.6 L285.1 576 L286.6 578.4 L288.1 580.9 L289.6 583.3 L291.1 585.8 L292.6 588.3 L294.1 590.7 L295.6 593.2 L297.1 595.6 L298.6 598 L300.1 600.4 L301.6 602.8 L303.1 605.1 L304.6 607.3 L306.1 609.5 L307.6 611.7 L309.1 613.8 L310.6 615.8 L312.1 617.8 L313.6 619.7 L315.1 621.5 L316.6 623.2 L318.1 624.9 L319.6 626.5 L321.1 628.1 L322.6 629.5 L324.1 630.9 L325.6 632.3 L327.1 633.5 L328.6 634.7 L330.1 635.8 L331.6 636.9 L333.1 637.9 L334.6 638.8 L336.1 639.7 L337.6 640.5 L339.1 641.3 L340.6 642 L342.1 642.7 L343.6 643.3 L345.1 643.8 L346.6 644.4 L348.1 644.8 L349.6 645.3 L351.1 645.7 L352.6 646.1 L354.1 646.4 L355.6 646.7 L357.1 647 L358.6 647.3 L360.1 647.5 L361.6 647.8 L363.1 647.9 L364.6 648.1 L366.1 648.3 L367.6 648.4 L369.1 648.6 L370.6 648.7 L372.1 648.8 L373.6 648.9"/>
<path stroke="#868686" stroke-width="1.45" fill="none" d="M82.6 649.6 L84.1 649.6 L85.6 649.6 L87.1 649.6 L88.6 649.6 L90.1 649.6 L91.6 649.6 L93.1 649.6 L94.6 649.6 L96.1 649.6 L97.6 649.6 L99.1 649.6 L100.6 649.6 L102.1 649.6 L103.6 649.6 L105.1 649.6 L106.6 649.6 L108.1 649.6 L109.6 649.6 L111.1 649.6 L112.6 649.6 L114.1 649.6 L115.6 649.6 L117.1 649.6 L118.6 649.6 L120.1 649.6 L121.6 649.6 L123.1 649.6 L124.6 649.6 L126.1 649.6 L127.6 649.6 L129.1 649.6 L130.6 649.6 L132.1 649.6 L133.6 649.6 L135.1 649.6 L136.6 649.6 L138.1 649.6 L139.6 649.5 L141.1 649.5 L142.6 649.5 L144.1 649.5 L145.6 649.5 L147.1 649.5 L148.6 649.5 L150.1 649.5 L151.6 649.5 L153.1 649.5 L154.6 649.4 L156.1 649.4 L157.6 649.4 L159.1 649.4 L160.6 649.3 L162.1 649.3 L163.6 649.3 L165.1 649.3 L166.6 649.2 L168.1 649.2 L169.6 649.1 L171.1 649.1 L172.6 649 L174.1 649 L175.6 648.9 L177.1 648.8 L178.6 648.8 L180.1 648.7 L181.6 648.6 L183.1 648.5 L184.6 648.4 L186.1 648.3 L187.6 648.2 L189.1 648 L190.6 647.9 L192.1 647.7 L193.6 647.6 L195.1 647.4 L196.6 647.2 L198.1 647 L199.6 646.8 L201.1 646.6 L202.6 646.3 L204.1 646.1 L205.6 645.8 L207.1 645.5 L208.6 645.2 L210.1 644.9 L211.6 644.6 L213.1 644.2 L214.6 643.8 L216.1 643.5 L217.6 643 L219.1 642.6 L220.6 642.1 L222.1 641.7 L223.6 641.2 L225.1 640.7 L226.6 640.1 L228.1 639.6 L229.6 639 L231.1 638.4 L232.6 637.8 L234.1 637.1 L235.6 636.4 L237.1 635.8 L238.6 635.1 L240.1 634.3 L241.6 633.6 L243.1 632.8 L244.6 632.1 L246.1 631.3 L247.6 630.5 L249.1 629.7 L250.6 628.8 L252.1 628 L253.6 627.1 L255.1 626.3 L256.6 625.4 L258.1 624.6 L259.6 623.7 L261.1 622.8 L262.6 622 L264.1 621.1 L265.6 620.2 L267.1 619.4 L268.6 618.6 L270.1 617.7 L271.6 616.9 L273.1 616.1 L274.6 615.4 L276.1 614.6 L277.6 613.9 L279.1 613.2 L280.6 612.5 L282.1 611.8 L283.6 611.2 L285.1 610.6 L286.6 610.1 L288.1 609.6 L289.6 609.1 L291.1 608.6 L292.6 608.2 L294.1 607.9 L295.6 607.6 L297.1 607.3 L298.6 607.1 L300.1 606.9 L301.6 606.8 L303.1 606.7 L304.6 606.7 L306.1 606.7 L307.6 606.8 L309.1 607 L310.6 607.2 L312.1 607.4 L313.6 607.8 L315.1 608.1 L316.6 608.6 L318.1 609.1 L319.6 609.6 L321.1 610.2 L322.6 610.8 L324.1 611.5 L325.6 612.3 L327.1 613 L328.6 613.8 L330.1 614.7 L331.6 615.5 L333.1 616.4 L334.6 617.3 L336.1 618.3 L337.6 619.2 L339.1 620.2 L340.6 621.1 L342.1 622.1 L343.6 623.1 L345.1 624.1 L346.6 625.1 L348.1 626.1 L349.6 627.1 L351.1 628 L352.6 629 L354.1 629.9 L355.6 630.8 L357.1 631.7 L358.6 632.6 L360.1 633.5 L361.6 634.3 L363.1 635.2 L364.6 636 L366.1 636.7 L367.6 637.5 L369.1 638.2 L370.6 638.9 L372.1 639.6 L373.6 640.2"/>
<path stroke="#868686" stroke-width="1.45" fill="none" d="M82.6 649.6 L84.1 649.6 L85.6 649.6 L87.1 649.6 L88.6 649.6 L90.1 649.6 L91.6 649.6 L93.1 649.6 L94.6 649.6 L96.1 649.6 L97.6 649.6 L99.1 649.6 L100.6 649.6 L102.1 649.6 L103.6 649.6 L105.1 649.6 L106.6 649.6 L108.1 649.6 L109.6 649.6 L111.1 649.6 L112.6 649.6 L114.1 649.6 L115.6 649.6 L117.1 649.6 L118.6 649.6 L120.1 649.6 L121.6 649.6 L123.1 649.6 L124.6 649.6 L126.1 649.6 L127.6 649.6 L129.1 649.6 L130.6 649.6 L132.1 649.6 L133.6 649.6 L135.1 649.6 L136.6 649.6 L138.1 649.6 L139.6 649.6 L141.1 649.6 L142.6 649.6 L144.1 649.6 L145.6 649.6 L147.1 649.6 L148.6 649.6 L150.1 649.6 L151.6 649.6 L153.1 649.6 L154.6 649.6 L156.1 649.6 L157.6 649.6 L159.1 649.6 L160.6 649.6 L162.1 649.6 L163.6 649.6 L165.1 649.6 L166.6 649.6 L168.1 649.6 L169.6 649.6 L171.1 649.6 L172.6 649.6 L174.1 649.6 L175.6 649.6 L177.1 649.6 L178.6 649.6 L180.1 649.6 L181.6 649.6 L183.1 649.6 L184.6 649.5 L186.1 649.5 L187.6 649.5 L189.1 649.5 L190.6 649.5 L192.1 649.5 L193.6 649.5 L195.1 649.5 L196.6 649.5 L198.1 649.5 L199.6 649.5 L201.1 649.4 L202.6 649.4 L204.1 649.4 L205.6 649.4 L207.1 649.4 L208.6 649.4 L210.1 649.3 L211.6 649.3 L213.1 649.3 L214.6 649.3 L216.1 649.2 L217.6 649.2 L219.1 649.2 L220.6 649.1 L222.1 649.1 L223.6 649 L225.1 649 L226.6 648.9 L228.1 648.9 L229.6 648.8 L231.1 648.7 L232.6 648.7 L234.1 648.6 L235.6 648.5 L237.1 648.4 L238.6 648.4 L240.1 648.3 L241.6 648.2 L243.1 648.1 L244.6 648 L246.1 647.8 L247.6 647.7 L249.1 647.6 L250.6 647.4 L252.1 647.3 L253.6 647.1 L255.1 647 L256.6 646.8 L258.1 646.6 L259.6 646.5 L261.1 646.3 L262.6 646.1 L264.1 645.8 L265.6 645.6 L267.1 645.4 L268.6 645.1 L270.1 644.9 L271.6 644.6 L273.1 644.4 L274.6 644.1 L276.1 643.8 L277.6 643.5 L279.1 643.2 L280.6 642.9 L282.1 642.5 L283.6 642.2 L285.1 641.8 L286.6 641.5 L288.1 641.1 L289.6 640.7 L291.1 640.3 L292.6 639.9 L294.1 639.5 L295.6 639.1 L297.1 638.7 L298.6 638.3 L300.1 637.8 L301.6 637.4 L303.1 637 L304.6 636.5 L306.1 636.1 L307.6 635.6 L309.1 635.1 L310.6 634.7 L312.1 634.2 L313.6 633.7 L315.1 633.3 L316.6 632.8 L318.1 632.3 L319.6 631.9 L321.1 631.4 L322.6 631 L324.1 630.5 L325.6 630.1 L327.1 629.7 L328.6 629.2 L330.1 628.8 L331.6 628.4 L333.1 628 L334.6 627.6 L336.1 627.2 L337.6 626.9 L339.1 626.5 L340.6 626.2 L342.1 625.9 L343.6 625.6 L345.1 625.3 L346.6 625.1 L348.1 624.8 L349.6 624.6 L351.1 624.4 L352.6 624.2 L354.1 624 L355.6 623.9 L357.1 623.8 L358.6 623.7 L360.1 623.6 L361.6 623.5 L363.1 623.5 L364.6 623.5 L366.1 623.5 L367.6 623.6 L369.1 623.6 L370.6 623.7 L372.1 623.9 L373.6 624"/>
<path stroke="#868686" stroke-width="1.45" fill="none" d="M82.6 649.6 L84.1 649.6 L85.6 649.6 L87.1 649.6 L88.6 649.6 L90.1 649.6 L91.6 649.6 L93.1 649.6 L94.6 649.6 L96.1 649.6 L97.6 649.6 L99.1 649.6 L100.6 649.6 L102.1 649.6 L103.6 649.6 L105.1 649.6 L106.6 649.6 L108.1 649.6 L109.6 649.6 L111.1 649.6 L112.6 649.6 L114.1 649.6 L115.6 649.6 L117.1 649.6 L118.6 649.6 L120.1 649.6 L121.6 649.6 L123.1 649.6 L124.6 649.6 L126.1 649.6 L127.6 649.6 L129.1 649.6 L130.6 649.6 L132.1 649.6 L133.6 649.6 L135.1 649.6 L136.6 649.6 L138.1 649.6 L139.6 649.6 L141.1 649.6 L142.6 649.6 L144.1 649.6 L145.6 649.6 L147.1 649.6 L148.6 649.6 L150.1 649.6 L151.6 649.6 L153.1 649.6 L154.6 649.6 L156.1 649.6 L157.6 649.6 L159.1 649.6 L160.6 649.6 L162.1 649.6 L163.6 649.6 L165.1 649.6 L166.6 649.6 L168.1 649.6 L169.6 649.6 L171.1 649.6 L172.6 649.6 L174.1 649.6 L175.6 649.6 L177.1 649.6 L178.6 649.6 L180.1 649.6 L181.6 649.6 L183.1 649.6 L184.6 649.6 L186.1 649.6 L187.6 649.6 L189.1 649.6 L190.6 649.6 L192.1 649.6 L193.6 649.6 L195.1 649.6 L196.6 649.6 L198.1 649.6 L199.6 649.6 L201.1 649.6 L202.6 649.6 L204.1 649.6 L205.6 649.6 L207.1 649.6 L208.6 649.6 L210.1 649.6 L211.6 649.6 L213.1 649.6 L214.6 649.6 L216.1 649.6 L217.6 649.6 L219.1 649.6 L220.6 649.6 L222.1 649.6 L223.6 649.6 L225.1 649.6 L226.6 649.6 L228.1 649.6 L229.6 649.6 L231.1 649.6 L232.6 649.6 L234.1 649.6 L235.6 649.6 L237.1 649.6 L238.6 649.5 L240.1 649.5 L241.6 649.5 L243.1 649.5 L244.6 649.5 L246.1 649.5 L247.6 649.5 L249.1 649.5 L250.6 649.5 L252.1 649.5 L253.6 649.5 L255.1 649.5 L256.6 649.4 L258.1 649.4 L259.6 649.4 L261.1 649.4 L262.6 649.4 L264.1 649.4 L265.6 649.3 L267.1 649.3 L268.6 649.3 L270.1 649.3 L271.6 649.3 L273.1 649.2 L274.6 649.2 L276.1 649.2 L277.6 649.1 L279.1 649.1 L280.6 649.1 L282.1 649 L283.6 649 L285.1 648.9 L286.6 648.9 L288.1 648.8 L289.6 648.8 L291.1 648.7 L292.6 648.6 L294.1 648.6 L295.6 648.5 L297.1 648.4 L298.6 648.3 L300.1 648.2 L301.6 648.2 L303.1 648.1 L304.6 648 L306.1 647.9 L307.6 647.8 L309.1 647.6 L310.6 647.5 L312.1 647.4 L313.6 647.3 L315.1 647.1 L316.6 647 L318.1 646.8 L319.6 646.7 L321.1 646.5 L322.6 646.3 L324.1 646.2 L325.6 646 L327.1 645.8 L328.6 645.6 L330.1 645.4 L331.6 645.2 L333.1 644.9 L334.6 644.7 L336.1 644.5 L337.6 644.2 L339.1 644 L340.6 643.7 L342.1 643.5 L343.6 643.2 L345.1 642.9 L346.6 642.6 L348.1 642.3 L349.6 642 L351.1 641.7 L352.6 641.4 L354.1 641.1 L355.6 640.8 L357.1 640.5 L358.6 640.1 L360.1 639.8 L361.6 639.4 L363.1 639.1 L364.6 638.8 L366.1 638.4 L367.6 638 L369.1 637.7 L370.6 637.3 L372.1 637 L373.6 636.6"/>
<path stroke="#00008c" stroke-width="3.35" fill="none" stroke-linejoin="round" stroke-linecap="round" d="M83.1 620.2 C84.7 618.4 89.5 613.7 92.9 609.4 C96.3 605.1 100.1 600 103.7 594.2 C107.3 588.4 111.9 580.1 114.6 574.6 C117.3 569.1 118.2 566 120 561.5 C121.8 557 123.8 551.3 125.4 547.5 C127 543.7 128.4 541.2 129.8 538.5 C131.2 535.8 132.5 533.8 134.1 531.5 C135.7 529.2 137.3 527.5 139.5 524.8 C141.7 522.1 144.4 519 147.1 515.4 C149.8 511.8 153.3 506.7 155.8 503.3 C158.3 499.9 159.8 497.5 162 495 C164.2 492.5 165.9 491 168.8 488.2 C171.8 485.4 176.1 481 179.7 478 C183.3 475 187 472.6 190.6 470.4 C194.2 468.2 197.8 466.4 201.4 465 C205 463.6 208.7 462.7 212.3 462.1 C215.9 461.6 219.5 461.6 223.1 461.7 C226.7 461.8 231.2 462.5 234 462.8 C236.8 463.1 237.5 462.9 240 463.5 C242.5 464.1 246.1 464.9 249.2 466.6 C252.3 468.4 255.4 471.7 258.5 474 C261.6 476.3 264.6 478.1 267.7 480.4 C270.8 482.7 273.8 484.9 276.9 487.8 C280 490.7 283 494.6 286.1 498 C289.2 501.4 292.3 504.9 295.4 508.1 C298.5 511.3 301.5 514.2 304.6 517.4 C307.7 520.6 310.7 523.8 313.8 527.5 C316.9 531.2 319.9 535.6 323 539.5 C326.1 543.4 329.2 547.4 332.3 550.6 C335.4 553.8 338.4 556.5 341.5 558.9 C344.6 561.3 347.6 563 350.7 565.3 C353.8 567.6 356.8 570.7 359.9 572.7 C363 574.7 366.8 576.2 369.2 577.3 C371.6 578.4 373.6 579.1 374.5 579.5"/>
<path stroke="#cf2127" stroke-width="3" fill="none" stroke-dasharray="15 8" d="M83.1 555.8 C85.1 554 91 548.8 95 545.3 C99 541.8 102.8 538.4 107 534.8 C111.2 531.1 115.8 527.1 120 523.4 C124.2 519.7 128 516.3 132 512.8 C136 509.3 140.5 505.5 144 502.4 C147.5 499.3 150 496.8 153 494.1 C156 491.4 159.1 488.7 162 486.3 C164.9 483.9 167.6 481.9 170.5 480 C173.4 478.1 175.3 477 179.7 474.7 C184.1 472.4 191.7 468.3 197.1 466.1 C202.5 463.9 207.6 462.3 212.3 461.3 C217 460.3 220.7 459.4 225.3 460 C229.9 460.6 236 463.1 240 464.8 C244 466.5 246.1 467.7 249.2 470.3 C252.3 472.9 255.4 477 258.5 480.4 C261.6 483.8 264.6 487.1 267.7 490.6 C270.8 494.2 273.8 497.8 276.9 501.7 C280 505.6 283 509.7 286.1 513.7 C289.2 517.7 292.3 521.7 295.4 525.7 C298.5 529.7 301.5 533.7 304.6 537.7 C307.7 541.7 310.7 545.8 313.8 549.6 C316.9 553.4 319.9 557.3 323 560.7 C326.1 564.1 329.2 567.1 332.3 570 C335.4 572.9 338.4 575.8 341.5 578.3 C344.6 580.8 347.6 582.9 350.7 584.7 C353.8 586.5 356.8 588.1 359.9 589.3 C363 590.5 366.8 591.5 369.2 592.1 C371.6 592.7 373.6 592.5 374.5 592.6"/>
</g>
<rect x="82.6" y="359.4" width="291" height="290.2" stroke="#000" stroke-width="1.9" fill="none"/>
<text x="114" y="689.1" font-size="20.5" text-anchor="middle">5.6</text>
<text x="172.2" y="689.1" font-size="20.5" text-anchor="middle">5.8</text>
<text x="230.4" y="689.1" font-size="20.5" text-anchor="middle">6</text>
<text x="288.6" y="689.1" font-size="20.5" text-anchor="middle">6.2</text>
<text x="346.8" y="689.1" font-size="20.5" text-anchor="middle">6.4</text>
<text x="70.4" y="657" font-size="20.5" text-anchor="end">0</text>
<text x="70.4" y="584.4" font-size="20.5" text-anchor="end">10</text>
<text x="70.4" y="511.9" font-size="20.5" text-anchor="end">20</text>
<text x="70.4" y="439.3" font-size="20.5" text-anchor="end">30</text>
<text x="70.4" y="366.8" font-size="20.5" text-anchor="end">40</text>
<text x="324" y="403.9" font-size="20.5" font-weight="bold" text-anchor="middle">III</text>
<path d="M470.1 359.4V371.9 M470.1 649.6V637.1 M542.7 359.4V371.9 M542.7 649.6V637.1 M615.4 359.4V371.9 M615.4 649.6V637.1 M688 359.4V371.9 M688 649.6V637.1 M433.8 566.7H446.3 M724.3 566.7H711.8 M433.8 483.8H446.3 M724.3 483.8H711.8 M433.8 400.9H446.3 M724.3 400.9H711.8" stroke="#111" stroke-width="1.6" fill="none"/>
<defs><clipPath id="cIV"><rect x="433.8" y="359.4" width="290.5" height="290.2"/></clipPath></defs>
<g clip-path="url(#cIV)">
<path stroke="#868686" stroke-width="1.45" fill="none" d="M433.8 635.5 L435.3 635.7 L436.8 635.8 L438.3 635.9 L439.8 636 L441.3 636.1 L442.8 636.3 L444.3 636.4 L445.8 636.6 L447.3 636.8 L448.8 637 L450.3 637.1 L451.8 637.3 L453.3 637.5 L454.8 637.7 L456.3 637.9 L457.8 638.2 L459.3 638.4 L460.8 638.6 L462.3 638.8 L463.8 639 L465.3 639.3 L466.8 639.5 L468.3 639.7 L469.8 640 L471.3 640.2 L472.8 640.5 L474.3 640.7 L475.8 640.9 L477.3 641.2 L478.8 641.4 L480.3 641.7 L481.8 641.9 L483.3 642.1 L484.8 642.4 L486.3 642.6 L487.8 642.8 L489.3 643 L490.8 643.3 L492.3 643.5 L493.8 643.7 L495.3 643.9 L496.8 644.1 L498.3 644.3 L499.8 644.5 L501.3 644.7 L502.8 644.9 L504.3 645.1 L505.8 645.3 L507.3 645.5 L508.8 645.7 L510.3 645.8 L511.8 646 L513.3 646.2 L514.8 646.3 L516.3 646.5 L517.8 646.6 L519.3 646.8 L520.8 646.9 L522.3 647 L523.8 647.2 L525.3 647.3 L526.8 647.4 L528.3 647.5 L529.8 647.6 L531.3 647.7 L532.8 647.8 L534.3 647.9 L535.8 648 L537.3 648.1 L538.8 648.2 L540.3 648.3 L541.8 648.4 L543.3 648.4 L544.8 648.5 L546.3 648.6 L547.8 648.6 L549.3 648.7 L550.8 648.7 L552.3 648.8 L553.8 648.8 L555.3 648.9 L556.8 648.9 L558.3 649 L559.8 649 L561.3 649.1 L562.8 649.1 L564.3 649.1 L565.8 649.2 L567.3 649.2 L568.8 649.2 L570.3 649.3 L571.8 649.3 L573.3 649.3 L574.8 649.3 L576.3 649.3 L577.8 649.4 L579.3 649.4 L580.8 649.4 L582.3 649.4 L583.8 649.4 L585.3 649.4 L586.8 649.5 L588.3 649.5 L589.8 649.5 L591.3 649.5 L592.8 649.5 L594.3 649.5 L595.8 649.5 L597.3 649.5 L598.8 649.5 L600.3 649.5 L601.8 649.5 L603.3 649.5 L604.8 649.5 L606.3 649.6 L607.8 649.6 L609.3 649.6 L610.8 649.6 L612.3 649.6 L613.8 649.6 L615.3 649.6 L616.8 649.6 L618.3 649.6 L619.8 649.6 L621.3 649.6 L622.8 649.6 L624.3 649.6 L625.8 649.6 L627.3 649.6 L628.8 649.6 L630.3 649.6 L631.8 649.6 L633.3 649.6 L634.8 649.6 L636.3 649.6 L637.8 649.6 L639.3 649.6 L640.8 649.6 L642.3 649.6 L643.8 649.6 L645.3 649.6 L646.8 649.6 L648.3 649.6 L649.8 649.6 L651.3 649.6 L652.8 649.6 L654.3 649.6 L655.8 649.6 L657.3 649.6 L658.8 649.6 L660.3 649.6 L661.8 649.6 L663.3 649.6 L664.8 649.6 L666.3 649.6 L667.8 649.6 L669.3 649.6 L670.8 649.6 L672.3 649.6 L673.8 649.6 L675.3 649.6 L676.8 649.6 L678.3 649.6 L679.8 649.6 L681.3 649.6 L682.8 649.6 L684.3 649.6 L685.8 649.6 L687.3 649.6 L688.8 649.6 L690.3 649.6 L691.8 649.6 L693.3 649.6 L694.8 649.6 L696.3 649.6 L697.8 649.6 L699.3 649.6 L700.8 649.6 L702.3 649.6 L703.8 649.6 L705.3 649.6 L706.8 649.6 L708.3 649.6 L709.8 649.6 L711.3 649.6 L712.8 649.6 L714.3 649.6 L715.8 649.6 L717.3 649.6 L718.8 649.6 L720.3 649.6 L721.8 649.6 L723.3 649.6 L724.3 649.6"/>
<path stroke="#868686" stroke-width="1.45" fill="none" d="M433.8 642.6 L435.3 642.3 L436.8 642.1 L438.3 641.8 L439.8 641.5 L441.3 641.2 L442.8 640.9 L444.3 640.6 L445.8 640.3 L447.3 640 L448.8 639.7 L450.3 639.4 L451.8 639.1 L453.3 638.8 L454.8 638.5 L456.3 638.2 L457.8 637.9 L459.3 637.6 L460.8 637.3 L462.3 637 L463.8 636.7 L465.3 636.4 L466.8 636.1 L468.3 635.9 L469.8 635.6 L471.3 635.3 L472.8 635.1 L474.3 634.8 L475.8 634.6 L477.3 634.4 L478.8 634.1 L480.3 633.9 L481.8 633.7 L483.3 633.5 L484.8 633.4 L486.3 633.2 L487.8 633 L489.3 632.9 L490.8 632.8 L492.3 632.6 L493.8 632.5 L495.3 632.4 L496.8 632.4 L498.3 632.3 L499.8 632.3 L501.3 632.2 L502.8 632.2 L504.3 632.2 L505.8 632.2 L507.3 632.3 L508.8 632.3 L510.3 632.4 L511.8 632.5 L513.3 632.6 L514.8 632.8 L516.3 633 L517.8 633.1 L519.3 633.4 L520.8 633.6 L522.3 633.8 L523.8 634.1 L525.3 634.4 L526.8 634.7 L528.3 635 L529.8 635.3 L531.3 635.6 L532.8 636 L534.3 636.3 L535.8 636.7 L537.3 637.1 L538.8 637.4 L540.3 637.8 L541.8 638.2 L543.3 638.6 L544.8 639 L546.3 639.4 L547.8 639.7 L549.3 640.1 L550.8 640.5 L552.3 640.9 L553.8 641.3 L555.3 641.6 L556.8 642 L558.3 642.3 L559.8 642.7 L561.3 643 L562.8 643.4 L564.3 643.7 L565.8 644 L567.3 644.3 L568.8 644.6 L570.3 644.9 L571.8 645.1 L573.3 645.4 L574.8 645.7 L576.3 645.9 L577.8 646.1 L579.3 646.4 L580.8 646.6 L582.3 646.8 L583.8 647 L585.3 647.2 L586.8 647.3 L588.3 647.5 L589.8 647.6 L591.3 647.8 L592.8 647.9 L594.3 648.1 L595.8 648.2 L597.3 648.3 L598.8 648.4 L600.3 648.5 L601.8 648.6 L603.3 648.7 L604.8 648.7 L606.3 648.8 L607.8 648.9 L609.3 649 L610.8 649 L612.3 649.1 L613.8 649.1 L615.3 649.2 L616.8 649.2 L618.3 649.2 L619.8 649.3 L621.3 649.3 L622.8 649.3 L624.3 649.4 L625.8 649.4 L627.3 649.4 L628.8 649.4 L630.3 649.4 L631.8 649.5 L633.3 649.5 L634.8 649.5 L636.3 649.5 L637.8 649.5 L639.3 649.5 L640.8 649.5 L642.3 649.5 L643.8 649.5 L645.3 649.6 L646.8 649.6 L648.3 649.6 L649.8 649.6 L651.3 649.6 L652.8 649.6 L654.3 649.6 L655.8 649.6 L657.3 649.6 L658.8 649.6 L660.3 649.6 L661.8 649.6 L663.3 649.6 L664.8 649.6 L666.3 649.6 L667.8 649.6 L669.3 649.6 L670.8 649.6 L672.3 649.6 L673.8 649.6 L675.3 649.6 L676.8 649.6 L678.3 649.6 L679.8 649.6 L681.3 649.6 L682.8 649.6 L684.3 649.6 L685.8 649.6 L687.3 649.6 L688.8 649.6 L690.3 649.6 L691.8 649.6 L693.3 649.6 L694.8 649.6 L696.3 649.6 L697.8 649.6 L699.3 649.6 L700.8 649.6 L702.3 649.6 L703.8 649.6 L705.3 649.6 L706.8 649.6 L708.3 649.6 L709.8 649.6 L711.3 649.6 L712.8 649.6 L714.3 649.6 L715.8 649.6 L717.3 649.6 L718.8 649.6 L720.3 649.6 L721.8 649.6 L723.3 649.6 L724.3 649.6"/>
<path stroke="#868686" stroke-width="1.45" fill="none" d="M433.8 649 L435.3 648.9 L436.8 648.8 L438.3 648.7 L439.8 648.6 L441.3 648.5 L442.8 648.4 L444.3 648.3 L445.8 648.1 L447.3 648 L448.8 647.8 L450.3 647.6 L451.8 647.4 L453.3 647.2 L454.8 647 L456.3 646.8 L457.8 646.5 L459.3 646.2 L460.8 645.9 L462.3 645.6 L463.8 645.2 L465.3 644.8 L466.8 644.4 L468.3 644 L469.8 643.5 L471.3 643.1 L472.8 642.6 L474.3 642 L475.8 641.5 L477.3 640.9 L478.8 640.2 L480.3 639.6 L481.8 638.9 L483.3 638.2 L484.8 637.4 L486.3 636.7 L487.8 635.9 L489.3 635 L490.8 634.2 L492.3 633.3 L493.8 632.4 L495.3 631.5 L496.8 630.5 L498.3 629.5 L499.8 628.5 L501.3 627.5 L502.8 626.5 L504.3 625.5 L505.8 624.4 L507.3 623.4 L508.8 622.3 L510.3 621.3 L511.8 620.2 L513.3 619.2 L514.8 618.1 L516.3 617.1 L517.8 616.1 L519.3 615.1 L520.8 614.2 L522.3 613.2 L523.8 612.3 L525.3 611.4 L526.8 610.6 L528.3 609.8 L529.8 609.1 L531.3 608.4 L532.8 607.7 L534.3 607.1 L535.8 606.6 L537.3 606.1 L538.8 605.6 L540.3 605.3 L541.8 605 L543.3 604.7 L544.8 604.6 L546.3 604.4 L547.8 604.4 L549.3 604.4 L550.8 604.5 L552.3 604.7 L553.8 605 L555.3 605.3 L556.8 605.7 L558.3 606.2 L559.8 606.8 L561.3 607.4 L562.8 608.1 L564.3 608.8 L565.8 609.6 L567.3 610.5 L568.8 611.3 L570.3 612.3 L571.8 613.3 L573.3 614.3 L574.8 615.3 L576.3 616.4 L577.8 617.5 L579.3 618.6 L580.8 619.8 L582.3 620.9 L583.8 622 L585.3 623.2 L586.8 624.3 L588.3 625.4 L589.8 626.6 L591.3 627.7 L592.8 628.8 L594.3 629.8 L595.8 630.9 L597.3 631.9 L598.8 632.9 L600.3 633.9 L601.8 634.8 L603.3 635.7 L604.8 636.6 L606.3 637.4 L607.8 638.2 L609.3 639 L610.8 639.7 L612.3 640.4 L613.8 641.1 L615.3 641.7 L616.8 642.3 L618.3 642.9 L619.8 643.4 L621.3 643.9 L622.8 644.4 L624.3 644.8 L625.8 645.2 L627.3 645.6 L628.8 646 L630.3 646.3 L631.8 646.6 L633.3 646.9 L634.8 647.1 L636.3 647.4 L637.8 647.6 L639.3 647.8 L640.8 648 L642.3 648.1 L643.8 648.3 L645.3 648.4 L646.8 648.6 L648.3 648.7 L649.8 648.8 L651.3 648.9 L652.8 648.9 L654.3 649 L655.8 649.1 L657.3 649.1 L658.8 649.2 L660.3 649.3 L661.8 649.3 L663.3 649.3 L664.8 649.4 L666.3 649.4 L667.8 649.4 L669.3 649.4 L670.8 649.5 L672.3 649.5 L673.8 649.5 L675.3 649.5 L676.8 649.5 L678.3 649.5 L679.8 649.5 L681.3 649.6 L682.8 649.6 L684.3 649.6 L685.8 649.6 L687.3 649.6 L688.8 649.6 L690.3 649.6 L691.8 649.6 L693.3 649.6 L694.8 649.6 L696.3 649.6 L697.8 649.6 L699.3 649.6 L700.8 649.6 L702.3 649.6 L703.8 649.6 L705.3 649.6 L706.8 649.6 L708.3 649.6 L709.8 649.6 L711.3 649.6 L712.8 649.6 L714.3 649.6 L715.8 649.6 L717.3 649.6 L718.8 649.6 L720.3 649.6 L721.8 649.6 L723.3 649.6 L724.3 649.6"/>
<path stroke="#868686" stroke-width="1.45" fill="none" d="M433.8 649.6 L435.3 649.6 L436.8 649.5 L438.3 649.5 L439.8 649.5 L441.3 649.5 L442.8 649.5 L444.3 649.5 L445.8 649.5 L447.3 649.5 L448.8 649.4 L450.3 649.4 L451.8 649.4 L453.3 649.4 L454.8 649.3 L456.3 649.3 L457.8 649.3 L459.3 649.2 L460.8 649.2 L462.3 649.1 L463.8 649.1 L465.3 649 L466.8 648.9 L468.3 648.9 L469.8 648.8 L471.3 648.7 L472.8 648.6 L474.3 648.5 L475.8 648.3 L477.3 648.2 L478.8 648.1 L480.3 647.9 L481.8 647.7 L483.3 647.5 L484.8 647.3 L486.3 647.1 L487.8 646.8 L489.3 646.6 L490.8 646.3 L492.3 646 L493.8 645.7 L495.3 645.3 L496.8 644.9 L498.3 644.5 L499.8 644.1 L501.3 643.6 L502.8 643.1 L504.3 642.6 L505.8 642 L507.3 641.4 L508.8 640.8 L510.3 640.1 L511.8 639.4 L513.3 638.6 L514.8 637.8 L516.3 637 L517.8 636.1 L519.3 635.2 L520.8 634.3 L522.3 633.3 L523.8 632.3 L525.3 631.2 L526.8 630.1 L528.3 628.9 L529.8 627.7 L531.3 626.5 L532.8 625.3 L534.3 624 L535.8 622.6 L537.3 621.3 L538.8 619.9 L540.3 618.5 L541.8 617 L543.3 615.6 L544.8 614.1 L546.3 612.6 L547.8 611.1 L549.3 609.6 L550.8 608.1 L552.3 606.6 L553.8 605 L555.3 603.5 L556.8 602.1 L558.3 600.6 L559.8 599.1 L561.3 597.7 L562.8 596.3 L564.3 595 L565.8 593.7 L567.3 592.4 L568.8 591.2 L570.3 590 L571.8 588.9 L573.3 587.8 L574.8 586.9 L576.3 586 L577.8 585.1 L579.3 584.4 L580.8 583.7 L582.3 583.1 L583.8 582.6 L585.3 582.1 L586.8 581.8 L588.3 581.5 L589.8 581.4 L591.3 581.3 L592.8 581.3 L594.3 581.5 L595.8 581.7 L597.3 582.1 L598.8 582.5 L600.3 583.1 L601.8 583.7 L603.3 584.5 L604.8 585.3 L606.3 586.3 L607.8 587.3 L609.3 588.4 L610.8 589.6 L612.3 590.9 L613.8 592.2 L615.3 593.6 L616.8 595 L618.3 596.5 L619.8 598 L621.3 599.6 L622.8 601.2 L624.3 602.8 L625.8 604.4 L627.3 606.1 L628.8 607.7 L630.3 609.4 L631.8 611 L633.3 612.7 L634.8 614.3 L636.3 615.9 L637.8 617.5 L639.3 619.1 L640.8 620.6 L642.3 622.1 L643.8 623.6 L645.3 625 L646.8 626.4 L648.3 627.7 L649.8 629 L651.3 630.3 L652.8 631.5 L654.3 632.6 L655.8 633.8 L657.3 634.8 L658.8 635.8 L660.3 636.8 L661.8 637.7 L663.3 638.6 L664.8 639.4 L666.3 640.2 L667.8 640.9 L669.3 641.6 L670.8 642.2 L672.3 642.8 L673.8 643.4 L675.3 643.9 L676.8 644.4 L678.3 644.9 L679.8 645.3 L681.3 645.7 L682.8 646 L684.3 646.4 L685.8 646.7 L687.3 647 L688.8 647.2 L690.3 647.4 L691.8 647.7 L693.3 647.9 L694.8 648 L696.3 648.2 L697.8 648.4 L699.3 648.5 L700.8 648.6 L702.3 648.7 L703.8 648.8 L705.3 648.9 L706.8 649 L708.3 649.1 L709.8 649.1 L711.3 649.2 L712.8 649.2 L714.3 649.3 L715.8 649.3 L717.3 649.3 L718.8 649.4 L720.3 649.4 L721.8 649.4 L723.3 649.5 L724.3 649.5"/>
<path stroke="#868686" stroke-width="1.45" fill="none" d="M433.8 649.6 L435.3 649.6 L436.8 649.6 L438.3 649.6 L439.8 649.6 L441.3 649.6 L442.8 649.6 L444.3 649.6 L445.8 649.6 L447.3 649.6 L448.8 649.6 L450.3 649.6 L451.8 649.6 L453.3 649.6 L454.8 649.6 L456.3 649.6 L457.8 649.6 L459.3 649.6 L460.8 649.6 L462.3 649.6 L463.8 649.6 L465.3 649.6 L466.8 649.6 L468.3 649.6 L469.8 649.6 L471.3 649.5 L472.8 649.5 L474.3 649.5 L475.8 649.5 L477.3 649.5 L478.8 649.5 L480.3 649.5 L481.8 649.5 L483.3 649.4 L484.8 649.4 L486.3 649.4 L487.8 649.4 L489.3 649.3 L490.8 649.3 L492.3 649.3 L493.8 649.2 L495.3 649.2 L496.8 649.1 L498.3 649.1 L499.8 649 L501.3 648.9 L502.8 648.9 L504.3 648.8 L505.8 648.7 L507.3 648.6 L508.8 648.5 L510.3 648.3 L511.8 648.2 L513.3 648.1 L514.8 647.9 L516.3 647.7 L517.8 647.5 L519.3 647.3 L520.8 647.1 L522.3 646.8 L523.8 646.6 L525.3 646.3 L526.8 646 L528.3 645.7 L529.8 645.3 L531.3 644.9 L532.8 644.5 L534.3 644.1 L535.8 643.6 L537.3 643.1 L538.8 642.6 L540.3 642 L541.8 641.4 L543.3 640.8 L544.8 640.1 L546.3 639.4 L547.8 638.6 L549.3 637.8 L550.8 637 L552.3 636.1 L553.8 635.2 L555.3 634.2 L556.8 633.2 L558.3 632.2 L559.8 631.1 L561.3 629.9 L562.8 628.7 L564.3 627.5 L565.8 626.2 L567.3 624.9 L568.8 623.6 L570.3 622.2 L571.8 620.7 L573.3 619.3 L574.8 617.8 L576.3 616.2 L577.8 614.7 L579.3 613.1 L580.8 611.5 L582.3 609.9 L583.8 608.2 L585.3 606.6 L586.8 604.9 L588.3 603.2 L589.8 601.5 L591.3 599.9 L592.8 598.2 L594.3 596.5 L595.8 594.9 L597.3 593.3 L598.8 591.7 L600.3 590.1 L601.8 588.6 L603.3 587.1 L604.8 585.7 L606.3 584.3 L607.8 583 L609.3 581.7 L610.8 580.5 L612.3 579.4 L613.8 578.3 L615.3 577.3 L616.8 576.4 L618.3 575.6 L619.8 574.8 L621.3 574.2 L622.8 573.6 L624.3 573.1 L625.8 572.7 L627.3 572.5 L628.8 572.3 L630.3 572.2 L631.8 572.2 L633.3 572.4 L634.8 572.6 L636.3 573 L637.8 573.5 L639.3 574.1 L640.8 574.8 L642.3 575.7 L643.8 576.6 L645.3 577.6 L646.8 578.8 L648.3 580 L649.8 581.3 L651.3 582.7 L652.8 584.1 L654.3 585.7 L655.8 587.3 L657.3 588.9 L658.8 590.6 L660.3 592.3 L661.8 594.1 L663.3 595.9 L664.8 597.7 L666.3 599.6 L667.8 601.4 L669.3 603.3 L670.8 605.1 L672.3 607 L673.8 608.8 L675.3 610.6 L676.8 612.4 L678.3 614.2 L679.8 615.9 L681.3 617.6 L682.8 619.3 L684.3 620.9 L685.8 622.4 L687.3 624 L688.8 625.5 L690.3 626.9 L691.8 628.3 L693.3 629.6 L694.8 630.9 L696.3 632.1 L697.8 633.2 L699.3 634.4 L700.8 635.4 L702.3 636.4 L703.8 637.4 L705.3 638.3 L706.8 639.1 L708.3 639.9 L709.8 640.7 L711.3 641.4 L712.8 642.1 L714.3 642.7 L715.8 643.3 L717.3 643.8 L718.8 644.3 L720.3 644.8 L721.8 645.2 L723.3 645.6 L724.3 645.8"/>
<path stroke="#868686" stroke-width="1.45" fill="none" d="M433.8 649.6 L435.3 649.6 L436.8 649.6 L438.3 649.6 L439.8 649.6 L441.3 649.6 L442.8 649.6 L444.3 649.6 L445.8 649.6 L447.3 649.6 L448.8 649.6 L450.3 649.6 L451.8 649.6 L453.3 649.6 L454.8 649.6 L456.3 649.6 L457.8 649.6 L459.3 649.6 L460.8 649.6 L462.3 649.6 L463.8 649.6 L465.3 649.6 L466.8 649.6 L468.3 649.6 L469.8 649.6 L471.3 649.6 L472.8 649.6 L474.3 649.6 L475.8 649.6 L477.3 649.6 L478.8 649.6 L480.3 649.6 L481.8 649.6 L483.3 649.6 L484.8 649.6 L486.3 649.6 L487.8 649.6 L489.3 649.6 L490.8 649.6 L492.3 649.6 L493.8 649.6 L495.3 649.6 L496.8 649.6 L498.3 649.6 L499.8 649.6 L501.3 649.6 L502.8 649.6 L504.3 649.6 L505.8 649.6 L507.3 649.5 L508.8 649.5 L510.3 649.5 L511.8 649.5 L513.3 649.5 L514.8 649.5 L516.3 649.5 L517.8 649.5 L519.3 649.4 L520.8 649.4 L522.3 649.4 L523.8 649.4 L525.3 649.3 L526.8 649.3 L528.3 649.3 L529.8 649.2 L531.3 649.2 L532.8 649.1 L534.3 649.1 L535.8 649 L537.3 648.9 L538.8 648.8 L540.3 648.7 L541.8 648.6 L543.3 648.5 L544.8 648.4 L546.3 648.3 L547.8 648.1 L549.3 648 L550.8 647.8 L552.3 647.6 L553.8 647.4 L555.3 647.2 L556.8 647 L558.3 646.7 L559.8 646.4 L561.3 646.1 L562.8 645.8 L564.3 645.4 L565.8 645 L567.3 644.6 L568.8 644.2 L570.3 643.7 L571.8 643.2 L573.3 642.7 L574.8 642.1 L576.3 641.5 L577.8 640.8 L579.3 640.2 L580.8 639.4 L582.3 638.7 L583.8 637.8 L585.3 637 L586.8 636.1 L588.3 635.1 L589.8 634.1 L591.3 633.1 L592.8 632 L594.3 630.9 L595.8 629.7 L597.3 628.5 L598.8 627.2 L600.3 625.9 L601.8 624.6 L603.3 623.2 L604.8 621.7 L606.3 620.3 L607.8 618.7 L609.3 617.2 L610.8 615.6 L612.3 614 L613.8 612.4 L615.3 610.7 L616.8 609 L618.3 607.3 L619.8 605.6 L621.3 603.9 L622.8 602.2 L624.3 600.5 L625.8 598.8 L627.3 597.1 L628.8 595.4 L630.3 593.7 L631.8 592.1 L633.3 590.5 L634.8 588.9 L636.3 587.4 L637.8 585.9 L639.3 584.5 L640.8 583.1 L642.3 581.8 L643.8 580.6 L645.3 579.4 L646.8 578.3 L648.3 577.3 L649.8 576.3 L651.3 575.5 L652.8 574.7 L654.3 574.1 L655.8 573.5 L657.3 573.1 L658.8 572.7 L660.3 572.4 L661.8 572.3 L663.3 572.2 L664.8 572.3 L666.3 572.4 L667.8 572.7 L669.3 573.1 L670.8 573.7 L672.3 574.3 L673.8 575 L675.3 575.9 L676.8 576.9 L678.3 577.9 L679.8 579.1 L681.3 580.3 L682.8 581.7 L684.3 583.1 L685.8 584.5 L687.3 586.1 L688.8 587.7 L690.3 589.4 L691.8 591.1 L693.3 592.8 L694.8 594.6 L696.3 596.4 L697.8 598.2 L699.3 600.1 L700.8 601.9 L702.3 603.8 L703.8 605.6 L705.3 607.5 L706.8 609.3 L708.3 611.1 L709.8 612.9 L711.3 614.6 L712.8 616.4 L714.3 618 L715.8 619.7 L717.3 621.3 L718.8 622.9 L720.3 624.4 L721.8 625.8 L723.3 627.3 L724.3 628.2"/>
<path stroke="#868686" stroke-width="1.45" fill="none" d="M433.8 649.6 L435.3 649.6 L436.8 649.6 L438.3 649.6 L439.8 649.6 L441.3 649.6 L442.8 649.6 L444.3 649.6 L445.8 649.6 L447.3 649.6 L448.8 649.6 L450.3 649.6 L451.8 649.6 L453.3 649.6 L454.8 649.6 L456.3 649.6 L457.8 649.6 L459.3 649.6 L460.8 649.6 L462.3 649.6 L463.8 649.6 L465.3 649.6 L466.8 649.6 L468.3 649.6 L469.8 649.6 L471.3 649.6 L472.8 649.6 L474.3 649.6 L475.8 649.6 L477.3 649.6 L478.8 649.6 L480.3 649.6 L481.8 649.6 L483.3 649.6 L484.8 649.6 L486.3 649.6 L487.8 649.6 L489.3 649.6 L490.8 649.6 L492.3 649.6 L493.8 649.6 L495.3 649.6 L496.8 649.6 L498.3 649.6 L499.8 649.6 L501.3 649.6 L502.8 649.6 L504.3 649.6 L505.8 649.6 L507.3 649.6 L508.8 649.6 L510.3 649.6 L511.8 649.6 L513.3 649.6 L514.8 649.6 L516.3 649.6 L517.8 649.6 L519.3 649.6 L520.8 649.6 L522.3 649.6 L523.8 649.6 L525.3 649.6 L526.8 649.6 L528.3 649.6 L529.8 649.6 L531.3 649.6 L532.8 649.6 L534.3 649.6 L535.8 649.6 L537.3 649.6 L538.8 649.6 L540.3 649.6 L541.8 649.6 L543.3 649.6 L544.8 649.5 L546.3 649.5 L547.8 649.5 L549.3 649.5 L550.8 649.5 L552.3 649.5 L553.8 649.5 L555.3 649.5 L556.8 649.5 L558.3 649.4 L559.8 649.4 L561.3 649.4 L562.8 649.4 L564.3 649.3 L565.8 649.3 L567.3 649.2 L568.8 649.2 L570.3 649.2 L571.8 649.1 L573.3 649 L574.8 649 L576.3 648.9 L577.8 648.8 L579.3 648.7 L580.8 648.6 L582.3 648.5 L583.8 648.4 L585.3 648.3 L586.8 648.1 L588.3 648 L589.8 647.8 L591.3 647.6 L592.8 647.4 L594.3 647.2 L595.8 647 L597.3 646.7 L598.8 646.4 L600.3 646.1 L601.8 645.8 L603.3 645.5 L604.8 645.1 L606.3 644.7 L607.8 644.3 L609.3 643.8 L610.8 643.4 L612.3 642.8 L613.8 642.3 L615.3 641.7 L616.8 641.1 L618.3 640.5 L619.8 639.8 L621.3 639 L622.8 638.3 L624.3 637.5 L625.8 636.6 L627.3 635.7 L628.8 634.8 L630.3 633.9 L631.8 632.9 L633.3 631.8 L634.8 630.7 L636.3 629.6 L637.8 628.4 L639.3 627.3 L640.8 626 L642.3 624.7 L643.8 623.4 L645.3 622.1 L646.8 620.7 L648.3 619.4 L649.8 617.9 L651.3 616.5 L652.8 615 L654.3 613.6 L655.8 612.1 L657.3 610.6 L658.8 609.1 L660.3 607.6 L661.8 606.1 L663.3 604.6 L664.8 603.1 L666.3 601.7 L667.8 600.2 L669.3 598.8 L670.8 597.4 L672.3 596.1 L673.8 594.7 L675.3 593.5 L676.8 592.2 L678.3 591.1 L679.8 589.9 L681.3 588.9 L682.8 587.9 L684.3 587 L685.8 586.1 L687.3 585.3 L688.8 584.6 L690.3 584 L691.8 583.4 L693.3 583 L694.8 582.6 L696.3 582.3 L697.8 582.1 L699.3 582 L700.8 582 L702.3 582.1 L703.8 582.3 L705.3 582.6 L706.8 583 L708.3 583.5 L709.8 584.1 L711.3 584.8 L712.8 585.6 L714.3 586.4 L715.8 587.4 L717.3 588.4 L718.8 589.6 L720.3 590.7 L721.8 592 L723.3 593.3 L724.3 594.2"/>
<path stroke="#868686" stroke-width="1.45" fill="none" d="M433.8 649.6 L435.3 649.6 L436.8 649.6 L438.3 649.6 L439.8 649.6 L441.3 649.6 L442.8 649.6 L444.3 649.6 L445.8 649.6 L447.3 649.6 L448.8 649.6 L450.3 649.6 L451.8 649.6 L453.3 649.6 L454.8 649.6 L456.3 649.6 L457.8 649.6 L459.3 649.6 L460.8 649.6 L462.3 649.6 L463.8 649.6 L465.3 649.6 L466.8 649.6 L468.3 649.6 L469.8 649.6 L471.3 649.6 L472.8 649.6 L474.3 649.6 L475.8 649.6 L477.3 649.6 L478.8 649.6 L480.3 649.6 L481.8 649.6 L483.3 649.6 L484.8 649.6 L486.3 649.6 L487.8 649.6 L489.3 649.6 L490.8 649.6 L492.3 649.6 L493.8 649.6 L495.3 649.6 L496.8 649.6 L498.3 649.6 L499.8 649.6 L501.3 649.6 L502.8 649.6 L504.3 649.6 L505.8 649.6 L507.3 649.6 L508.8 649.6 L510.3 649.6 L511.8 649.6 L513.3 649.6 L514.8 649.6 L516.3 649.6 L517.8 649.6 L519.3 649.6 L520.8 649.6 L522.3 649.6 L523.8 649.6 L525.3 649.6 L526.8 649.6 L528.3 649.6 L529.8 649.6 L531.3 649.6 L532.8 649.6 L534.3 649.6 L535.8 649.6 L537.3 649.6 L538.8 649.6 L540.3 649.6 L541.8 649.6 L543.3 649.6 L544.8 649.6 L546.3 649.6 L547.8 649.6 L549.3 649.6 L550.8 649.6 L552.3 649.6 L553.8 649.6 L555.3 649.6 L556.8 649.6 L558.3 649.6 L559.8 649.6 L561.3 649.6 L562.8 649.6 L564.3 649.6 L565.8 649.6 L567.3 649.6 L568.8 649.6 L570.3 649.6 L571.8 649.6 L573.3 649.6 L574.8 649.6 L576.3 649.6 L577.8 649.6 L579.3 649.6 L580.8 649.6 L582.3 649.6 L583.8 649.6 L585.3 649.6 L586.8 649.5 L588.3 649.5 L589.8 649.5 L591.3 649.5 L592.8 649.5 L594.3 649.5 L595.8 649.5 L597.3 649.5 L598.8 649.4 L600.3 649.4 L601.8 649.4 L603.3 649.4 L604.8 649.3 L606.3 649.3 L607.8 649.3 L609.3 649.2 L610.8 649.2 L612.3 649.1 L613.8 649.1 L615.3 649 L616.8 649 L618.3 648.9 L619.8 648.8 L621.3 648.7 L622.8 648.6 L624.3 648.5 L625.8 648.4 L627.3 648.3 L628.8 648.1 L630.3 648 L631.8 647.8 L633.3 647.6 L634.8 647.5 L636.3 647.2 L637.8 647 L639.3 646.8 L640.8 646.5 L642.3 646.3 L643.8 646 L645.3 645.6 L646.8 645.3 L648.3 644.9 L649.8 644.6 L651.3 644.1 L652.8 643.7 L654.3 643.3 L655.8 642.8 L657.3 642.2 L658.8 641.7 L660.3 641.1 L661.8 640.5 L663.3 639.9 L664.8 639.2 L666.3 638.5 L667.8 637.8 L669.3 637.1 L670.8 636.3 L672.3 635.5 L673.8 634.6 L675.3 633.8 L676.8 632.9 L678.3 631.9 L679.8 631 L681.3 630 L682.8 629 L684.3 628 L685.8 626.9 L687.3 625.9 L688.8 624.8 L690.3 623.7 L691.8 622.6 L693.3 621.5 L694.8 620.3 L696.3 619.2 L697.8 618.1 L699.3 616.9 L700.8 615.8 L702.3 614.7 L703.8 613.6 L705.3 612.5 L706.8 611.4 L708.3 610.4 L709.8 609.3 L711.3 608.3 L712.8 607.4 L714.3 606.4 L715.8 605.6 L717.3 604.7 L718.8 603.9 L720.3 603.1 L721.8 602.4 L723.3 601.8 L724.3 601.4"/>
<path stroke="#868686" stroke-width="1.45" fill="none" d="M433.8 649.6 L435.3 649.6 L436.8 649.6 L438.3 649.6 L439.8 649.6 L441.3 649.6 L442.8 649.6 L444.3 649.6 L445.8 649.6 L447.3 649.6 L448.8 649.6 L450.3 649.6 L451.8 649.6 L453.3 649.6 L454.8 649.6 L456.3 649.6 L457.8 649.6 L459.3 649.6 L460.8 649.6 L462.3 649.6 L463.8 649.6 L465.3 649.6 L466.8 649.6 L468.3 649.6 L469.8 649.6 L471.3 649.6 L472.8 649.6 L474.3 649.6 L475.8 649.6 L477.3 649.6 L478.8 649.6 L480.3 649.6 L481.8 649.6 L483.3 649.6 L484.8 649.6 L486.3 649.6 L487.8 649.6 L489.3 649.6 L490.8 649.6 L492.3 649.6 L493.8 649.6 L495.3 649.6 L496.8 649.6 L498.3 649.6 L499.8 649.6 L501.3 649.6 L502.8 649.6 L504.3 649.6 L505.8 649.6 L507.3 649.6 L508.8 649.6 L510.3 649.6 L511.8 649.6 L513.3 649.6 L514.8 649.6 L516.3 649.6 L517.8 649.6 L519.3 649.6 L520.8 649.6 L522.3 649.6 L523.8 649.6 L525.3 649.6 L526.8 649.6 L528.3 649.6 L529.8 649.6 L531.3 649.6 L532.8 649.6 L534.3 649.6 L535.8 649.6 L537.3 649.6 L538.8 649.6 L540.3 649.6 L541.8 649.6 L543.3 649.6 L544.8 649.6 L546.3 649.6 L547.8 649.6 L549.3 649.6 L550.8 649.6 L552.3 649.6 L553.8 649.6 L555.3 649.6 L556.8 649.6 L558.3 649.6 L559.8 649.6 L561.3 649.6 L562.8 649.6 L564.3 649.6 L565.8 649.6 L567.3 649.6 L568.8 649.6 L570.3 649.6 L571.8 649.6 L573.3 649.6 L574.8 649.6 L576.3 649.6 L577.8 649.6 L579.3 649.6 L580.8 649.6 L582.3 649.6 L583.8 649.6 L585.3 649.6 L586.8 649.6 L588.3 649.6 L589.8 649.6 L591.3 649.6 L592.8 649.6 L594.3 649.6 L595.8 649.6 L597.3 649.6 L598.8 649.6 L600.3 649.6 L601.8 649.6 L603.3 649.6 L604.8 649.6 L606.3 649.6 L607.8 649.6 L609.3 649.6 L610.8 649.6 L612.3 649.6 L613.8 649.6 L615.3 649.6 L616.8 649.6 L618.3 649.6 L619.8 649.6 L621.3 649.6 L622.8 649.6 L624.3 649.5 L625.8 649.5 L627.3 649.5 L628.8 649.5 L630.3 649.5 L631.8 649.5 L633.3 649.5 L634.8 649.5 L636.3 649.5 L637.8 649.4 L639.3 649.4 L640.8 649.4 L642.3 649.4 L643.8 649.3 L645.3 649.3 L646.8 649.3 L648.3 649.2 L649.8 649.2 L651.3 649.1 L652.8 649.1 L654.3 649 L655.8 649 L657.3 648.9 L658.8 648.8 L660.3 648.7 L661.8 648.6 L663.3 648.5 L664.8 648.4 L666.3 648.3 L667.8 648.2 L669.3 648.1 L670.8 647.9 L672.3 647.7 L673.8 647.6 L675.3 647.4 L676.8 647.2 L678.3 646.9 L679.8 646.7 L681.3 646.4 L682.8 646.2 L684.3 645.9 L685.8 645.6 L687.3 645.2 L688.8 644.9 L690.3 644.5 L691.8 644.1 L693.3 643.7 L694.8 643.3 L696.3 642.8 L697.8 642.3 L699.3 641.8 L700.8 641.2 L702.3 640.7 L703.8 640.1 L705.3 639.5 L706.8 638.8 L708.3 638.2 L709.8 637.5 L711.3 636.7 L712.8 636 L714.3 635.2 L715.8 634.4 L717.3 633.6 L718.8 632.8 L720.3 631.9 L721.8 631.1 L723.3 630.2 L724.3 629.6"/>
<path stroke="#868686" stroke-width="1.45" fill="none" d="M433.8 649.6 L435.3 649.6 L436.8 649.6 L438.3 649.6 L439.8 649.6 L441.3 649.6 L442.8 649.6 L444.3 649.6 L445.8 649.6 L447.3 649.6 L448.8 649.6 L450.3 649.6 L451.8 649.6 L453.3 649.6 L454.8 649.6 L456.3 649.6 L457.8 649.6 L459.3 649.6 L460.8 649.6 L462.3 649.6 L463.8 649.6 L465.3 649.6 L466.8 649.6 L468.3 649.6 L469.8 649.6 L471.3 649.6 L472.8 649.6 L474.3 649.6 L475.8 649.6 L477.3 649.6 L478.8 649.6 L480.3 649.6 L481.8 649.6 L483.3 649.6 L484.8 649.6 L486.3 649.6 L487.8 649.6 L489.3 649.6 L490.8 649.6 L492.3 649.6 L493.8 649.6 L495.3 649.6 L496.8 649.6 L498.3 649.6 L499.8 649.6 L501.3 649.6 L502.8 649.6 L504.3 649.6 L505.8 649.6 L507.3 649.6 L508.8 649.6 L510.3 649.6 L511.8 649.6 L513.3 649.6 L514.8 649.6 L516.3 649.6 L517.8 649.6 L519.3 649.6 L520.8 649.6 L522.3 649.6 L523.8 649.6 L525.3 649.6 L526.8 649.6 L528.3 649.6 L529.8 649.6 L531.3 649.6 L532.8 649.6 L534.3 649.6 L535.8 649.6 L537.3 649.6 L538.8 649.6 L540.3 649.6 L541.8 649.6 L543.3 649.6 L544.8 649.6 L546.3 649.6 L547.8 649.6 L549.3 649.6 L550.8 649.6 L552.3 649.6 L553.8 649.6 L555.3 649.6 L556.8 649.6 L558.3 649.6 L559.8 649.6 L561.3 649.6 L562.8 649.6 L564.3 649.6 L565.8 649.6 L567.3 649.6 L568.8 649.6 L570.3 649.6 L571.8 649.6 L573.3 649.6 L574.8 649.6 L576.3 649.6 L577.8 649.6 L579.3 649.6 L580.8 649.6 L582.3 649.6 L583.8 649.6 L585.3 649.6 L586.8 649.6 L588.3 649.6 L589.8 649.6 L591.3 649.6 L592.8 649.6 L594.3 649.6 L595.8 649.6 L597.3 649.6 L598.8 649.6 L600.3 649.6 L601.8 649.6 L603.3 649.6 L604.8 649.6 L606.3 649.6 L607.8 649.6 L609.3 649.6 L610.8 649.6 L612.3 649.6 L613.8 649.6 L615.3 649.6 L616.8 649.6 L618.3 649.6 L619.8 649.6 L621.3 649.6 L622.8 649.6 L624.3 649.6 L625.8 649.6 L627.3 649.6 L628.8 649.6 L630.3 649.6 L631.8 649.6 L633.3 649.6 L634.8 649.6 L636.3 649.6 L637.8 649.6 L639.3 649.6 L640.8 649.6 L642.3 649.6 L643.8 649.6 L645.3 649.6 L646.8 649.6 L648.3 649.6 L649.8 649.6 L651.3 649.6 L652.8 649.6 L654.3 649.6 L655.8 649.5 L657.3 649.5 L658.8 649.5 L660.3 649.5 L661.8 649.5 L663.3 649.5 L664.8 649.5 L666.3 649.5 L667.8 649.5 L669.3 649.4 L670.8 649.4 L672.3 649.4 L673.8 649.4 L675.3 649.3 L676.8 649.3 L678.3 649.3 L679.8 649.2 L681.3 649.2 L682.8 649.1 L684.3 649.1 L685.8 649 L687.3 649 L688.8 648.9 L690.3 648.8 L691.8 648.7 L693.3 648.6 L694.8 648.5 L696.3 648.4 L697.8 648.3 L699.3 648.2 L700.8 648 L702.3 647.9 L703.8 647.7 L705.3 647.5 L706.8 647.3 L708.3 647.1 L709.8 646.9 L711.3 646.7 L712.8 646.4 L714.3 646.1 L715.8 645.8 L717.3 645.5 L718.8 645.2 L720.3 644.9 L721.8 644.5 L723.3 644.1 L724.3 643.8"/>
<path stroke="#00008c" stroke-width="3.35" fill="none" stroke-linejoin="round" stroke-linecap="round" d="M434.1 610 C435.7 610 439.8 610.2 443.6 610.3 C447.4 610.4 452.6 610.6 457.1 610.7 C461.6 610.8 467.1 611.1 470.7 611 C474.3 610.9 476.1 610.5 478.8 610 C481.5 609.5 484.3 608.8 487 608 C489.7 607.2 492.4 606.4 495.1 605.3 C497.8 604.2 500.6 602.8 503.3 601.2 C506 599.6 508.7 597.8 511.4 595.8 C514.1 593.8 516.4 591.5 519.3 589 C522.1 586.5 525.4 584.6 528.5 580.5 C531.6 576.4 535.1 569.8 538 564.3 C540.9 558.8 543.4 552.7 545.6 547.3 C547.8 541.9 549.4 537 551.3 532.1 C553.2 527.2 555.1 521.1 557 517.8 C558.9 514.5 560.8 514 562.7 512.1 C564.6 510.2 566.2 509.2 568.4 506.4 C570.6 503.5 573.1 498.5 576 495 C578.9 491.5 582.3 489.3 585.5 485.5 C588.7 481.7 591.8 475.8 595 472.2 C598.2 468.6 602 465.6 604.5 463.7 C607 461.8 608.4 461.6 610 461 C611.6 460.4 611.6 459.9 614.1 460.2 C616.6 460.5 621.2 461.3 624.7 462.7 C628.2 464.1 631.8 466.9 635.3 468.5 C638.8 470.1 642.4 470.2 645.9 472 C649.4 473.8 652.9 476.8 656.4 479.1 C659.9 481.5 663.8 484.2 667 486.1 C670.2 488 673.2 489.2 675.9 490.2 C678.5 491.2 680.5 491.2 682.9 492.3 C685.2 493.4 687.6 494.8 690 496.7 C692.4 498.6 694.6 502.1 697 503.8 C699.4 505.5 701.8 506.6 704.1 506.9 C706.5 507.2 708.5 506.2 711.1 505.5 C713.8 504.8 717.7 502.5 720 502.5 C722.3 502.5 724.2 505 725 505.5"/>
<path stroke="#cf2127" stroke-width="3" fill="none" stroke-dasharray="15 8" d="M434.1 617.2 C436.1 617.1 442.5 617 446.3 616.8 C450.1 616.6 453 616.5 457.1 615.9 C461.2 615.3 466.2 614.5 470.7 613.2 C475.2 611.9 480.9 609.6 484.3 608 C487.7 606.4 488.4 605.2 491.1 603.3 C493.8 601.4 497.2 599.2 500.6 596.5 C504 593.8 507.8 590.3 511.4 587 C515 583.7 519.1 580.6 522.3 576.8 C525.5 573 526.5 569.8 530.4 564.3 C534.3 558.8 540.5 550.5 545.6 543.5 C550.7 536.5 555.7 529.6 560.8 522.6 C565.9 515.6 570.9 508.2 576 501.7 C581.1 495.2 586.1 489.3 591.2 483.6 C596.3 477.9 601.4 472.7 606.4 467.5 C611.4 462.3 617 456.4 621.2 452.6 C625.4 448.8 628 447.2 631.8 444.7 C635.6 442.2 640 439.3 644.1 437.6 C648.2 435.9 652.6 435.1 656.4 434.5 C660.2 433.9 663.5 433.6 667 433.8 C670.5 434 674.1 434.7 677.6 435.9 C681.1 437.1 684.7 439.1 688.2 441.2 C691.7 443.2 695.3 445.6 698.8 448.2 C702.3 450.8 706.2 454.4 709.4 457 C712.6 459.6 715.6 461.8 718.2 464.1 C720.8 466.4 723.9 469.7 725 470.8"/>
</g>
<rect x="433.8" y="359.4" width="290.5" height="290.2" stroke="#000" stroke-width="1.9" fill="none"/>
<text x="472.4" y="689.1" font-size="20.5" text-anchor="middle">6.6</text>
<text x="545" y="689.1" font-size="20.5" text-anchor="middle">6.8</text>
<text x="617.7" y="689.1" font-size="20.5" text-anchor="middle">7</text>
<text x="690.3" y="689.1" font-size="20.5" text-anchor="middle">7.2</text>
<text x="421.6" y="657" font-size="20.5" text-anchor="end">0</text>
<text x="421.6" y="574.1" font-size="20.5" text-anchor="end">20</text>
<text x="421.6" y="491.2" font-size="20.5" text-anchor="end">40</text>
<text x="421.6" y="408.3" font-size="20.5" text-anchor="end">60</text>
<text x="497.6" y="408.8" font-size="20.5" font-weight="bold" text-anchor="middle">IV</text>
<path d="M116.8 705.3V717.8 M116.8 993.7V981.2 M202.4 705.3V717.8 M202.4 993.7V981.2 M288 705.3V717.8 M288 993.7V981.2 M82.6 903.6H95.1 M373.6 903.6H361.1 M82.6 813.5H95.1 M373.6 813.5H361.1 M82.6 723.3H95.1 M373.6 723.3H361.1" stroke="#111" stroke-width="1.6" fill="none"/>
<defs><clipPath id="cV"><rect x="82.6" y="705.3" width="291" height="288.4"/></clipPath></defs>
<g clip-path="url(#cV)">
<path stroke="#878787" stroke-width="1.6" fill="none" d="M82.6 982.8 L84.6 984 L86.6 985.1 L88.6 986.2 L90.6 987.2 L92.6 988.1 L94.6 989 L96.6 989.7 L98.6 990.3 L100.6 990.9 L102.6 991.4 L104.6 991.8 L106.6 992.2 L108.6 992.5 L110.6 992.7 L112.6 992.9 L114.6 993.1 L116.6 993.2 L118.6 993.3 L120.6 993.4 L122.6 993.5 L124.6 993.5 L126.6 993.6 L128.6 993.6 L130.6 993.6 L132.6 993.7 L134.6 993.7 L136.6 993.7 L138.6 993.7 L140.6 993.7 L142.6 993.7 L144.6 993.7 L146.6 993.7 L148.6 993.7 L150.6 993.7 L152.6 993.7 L154.6 993.7 L156.6 993.7 L158.6 993.7 L160.6 993.7 L162.6 993.7 L164.6 993.7 L166.6 993.7 L168.6 993.7 L170.6 993.7 L172.6 993.7 L174.6 993.7 L176.6 993.7 L178.6 993.7 L180.6 993.7 L182.6 993.7 L184.6 993.7 L186.6 993.7 L188.6 993.7 L190.6 993.7 L192.6 993.7 L194.6 993.7 L196.6 993.7 L198.6 993.7 L200.6 993.7 L202.6 993.7 L204.6 993.7 L206.6 993.7 L208.6 993.7 L210.6 993.7 L212.6 993.7 L214.6 993.7 L216.6 993.7 L218.6 993.7 L220.6 993.7 L222.6 993.7 L224.6 993.7 L226.6 993.7 L228.6 993.7 L230.6 993.7 L232.6 993.7 L234.6 993.7 L236.6 993.7 L238.6 993.7 L240.6 993.7 L242.6 993.7 L244.6 993.7 L246.6 993.7 L248.6 993.7 L250.6 993.7 L252.6 993.7 L254.6 993.7 L256.6 993.7 L258.6 993.7 L260.6 993.7 L262.6 993.7 L264.6 993.7 L266.6 993.7 L268.6 993.7 L270.6 993.7 L272.6 993.7 L274.6 993.7 L276.6 993.7 L278.6 993.7 L280.6 993.7 L282.6 993.7 L284.6 993.7 L286.6 993.7 L288.6 993.7 L290.6 993.7 L292.6 993.7 L294.6 993.7 L296.6 993.7 L298.6 993.7 L300.6 993.7 L302.6 993.7 L304.6 993.7 L306.6 993.7 L308.6 993.7 L310.6 993.7 L312.6 993.7 L314.6 993.7 L316.6 993.7 L318.6 993.7 L320.6 993.7 L322.6 993.7 L324.6 993.7 L326.6 993.7 L328.6 993.7 L330.6 993.7 L332.6 993.7 L334.6 993.7 L336.6 993.7 L338.6 993.7 L340.6 993.7 L342.6 993.7 L344.6 993.7 L346.6 993.7 L348.6 993.7 L350.6 993.7 L352.6 993.7 L354.6 993.7 L356.6 993.7 L358.6 993.7 L360.6 993.7 L362.6 993.7 L364.6 993.7 L366.6 993.7 L368.6 993.7 L370.6 993.7 L372.6 993.7 L373.6 993.7"/>
<path stroke="#878787" stroke-width="1.6" fill="none" d="M82.6 975.3 L84.6 976.6 L86.6 978 L88.6 979.3 L90.6 980.6 L92.6 982 L94.6 983.2 L96.6 984.4 L98.6 985.6 L100.6 986.6 L102.6 987.6 L104.6 988.5 L106.6 989.3 L108.6 990 L110.6 990.6 L112.6 991.1 L114.6 991.6 L116.6 992 L118.6 992.3 L120.6 992.6 L122.6 992.8 L124.6 993 L126.6 993.2 L128.6 993.3 L130.6 993.4 L132.6 993.5 L134.6 993.5 L136.6 993.6 L138.6 993.6 L140.6 993.6 L142.6 993.6 L144.6 993.7 L146.6 993.7 L148.6 993.7 L150.6 993.7 L152.6 993.7 L154.6 993.7 L156.6 993.7 L158.6 993.7 L160.6 993.7 L162.6 993.7 L164.6 993.7 L166.6 993.7 L168.6 993.7 L170.6 993.7 L172.6 993.7 L174.6 993.7 L176.6 993.7 L178.6 993.7 L180.6 993.7 L182.6 993.7 L184.6 993.7 L186.6 993.7 L188.6 993.7 L190.6 993.7 L192.6 993.7 L194.6 993.7 L196.6 993.7 L198.6 993.7 L200.6 993.7 L202.6 993.7 L204.6 993.7 L206.6 993.7 L208.6 993.7 L210.6 993.7 L212.6 993.7 L214.6 993.7 L216.6 993.7 L218.6 993.7 L220.6 993.7 L222.6 993.7 L224.6 993.7 L226.6 993.7 L228.6 993.7 L230.6 993.7 L232.6 993.7 L234.6 993.7 L236.6 993.7 L238.6 993.7 L240.6 993.7 L242.6 993.7 L244.6 993.7 L246.6 993.7 L248.6 993.7 L250.6 993.7 L252.6 993.7 L254.6 993.7 L256.6 993.7 L258.6 993.7 L260.6 993.7 L262.6 993.7 L264.6 993.7 L266.6 993.7 L268.6 993.7 L270.6 993.7 L272.6 993.7 L274.6 993.7 L276.6 993.7 L278.6 993.7 L280.6 993.7 L282.6 993.7 L284.6 993.7 L286.6 993.7 L288.6 993.7 L290.6 993.7 L292.6 993.7 L294.6 993.7 L296.6 993.7 L298.6 993.7 L300.6 993.7 L302.6 993.7 L304.6 993.7 L306.6 993.7 L308.6 993.7 L310.6 993.7 L312.6 993.7 L314.6 993.7 L316.6 993.7 L318.6 993.7 L320.6 993.7 L322.6 993.7 L324.6 993.7 L326.6 993.7 L328.6 993.7 L330.6 993.7 L332.6 993.7 L334.6 993.7 L336.6 993.7 L338.6 993.7 L340.6 993.7 L342.6 993.7 L344.6 993.7 L346.6 993.7 L348.6 993.7 L350.6 993.7 L352.6 993.7 L354.6 993.7 L356.6 993.7 L358.6 993.7 L360.6 993.7 L362.6 993.7 L364.6 993.7 L366.6 993.7 L368.6 993.7 L370.6 993.7 L372.6 993.7 L373.6 993.7"/>
<path stroke="#878787" stroke-width="1.6" fill="none" d="M82.6 969.8 L84.6 970.4 L86.6 971.2 L88.6 972.2 L90.6 973.3 L92.6 974.5 L94.6 975.7 L96.6 977.1 L98.6 978.4 L100.6 979.8 L102.6 981.1 L104.6 982.4 L106.6 983.7 L108.6 984.9 L110.6 986 L112.6 987 L114.6 988 L116.6 988.8 L118.6 989.6 L120.6 990.2 L122.6 990.8 L124.6 991.3 L126.6 991.8 L128.6 992.1 L130.6 992.4 L132.6 992.7 L134.6 992.9 L136.6 993.1 L138.6 993.2 L140.6 993.3 L142.6 993.4 L144.6 993.5 L146.6 993.5 L148.6 993.6 L150.6 993.6 L152.6 993.6 L154.6 993.7 L156.6 993.7 L158.6 993.7 L160.6 993.7 L162.6 993.7 L164.6 993.7 L166.6 993.7 L168.6 993.7 L170.6 993.7 L172.6 993.7 L174.6 993.7 L176.6 993.7 L178.6 993.7 L180.6 993.7 L182.6 993.7 L184.6 993.7 L186.6 993.7 L188.6 993.7 L190.6 993.7 L192.6 993.7 L194.6 993.7 L196.6 993.7 L198.6 993.7 L200.6 993.7 L202.6 993.7 L204.6 993.7 L206.6 993.7 L208.6 993.7 L210.6 993.7 L212.6 993.7 L214.6 993.7 L216.6 993.7 L218.6 993.7 L220.6 993.7 L222.6 993.7 L224.6 993.7 L226.6 993.7 L228.6 993.7 L230.6 993.7 L232.6 993.7 L234.6 993.7 L236.6 993.7 L238.6 993.7 L240.6 993.7 L242.6 993.7 L244.6 993.7 L246.6 993.7 L248.6 993.7 L250.6 993.7 L252.6 993.7 L254.6 993.7 L256.6 993.7 L258.6 993.7 L260.6 993.7 L262.6 993.7 L264.6 993.7 L266.6 993.7 L268.6 993.7 L270.6 993.7 L272.6 993.7 L274.6 993.7 L276.6 993.7 L278.6 993.7 L280.6 993.7 L282.6 993.7 L284.6 993.7 L286.6 993.7 L288.6 993.7 L290.6 993.7 L292.6 993.7 L294.6 993.7 L296.6 993.7 L298.6 993.7 L300.6 993.7 L302.6 993.7 L304.6 993.7 L306.6 993.7 L308.6 993.7 L310.6 993.7 L312.6 993.7 L314.6 993.7 L316.6 993.7 L318.6 993.7 L320.6 993.7 L322.6 993.7 L324.6 993.7 L326.6 993.7 L328.6 993.7 L330.6 993.7 L332.6 993.7 L334.6 993.7 L336.6 993.7 L338.6 993.7 L340.6 993.7 L342.6 993.7 L344.6 993.7 L346.6 993.7 L348.6 993.7 L350.6 993.7 L352.6 993.7 L354.6 993.7 L356.6 993.7 L358.6 993.7 L360.6 993.7 L362.6 993.7 L364.6 993.7 L366.6 993.7 L368.6 993.7 L370.6 993.7 L372.6 993.7 L373.6 993.7"/>
<path stroke="#878787" stroke-width="1.6" fill="none" d="M82.6 971.1 L84.6 970.7 L86.6 970.5 L88.6 970.4 L90.6 970.6 L92.6 970.9 L94.6 971.5 L96.6 972.1 L98.6 973 L100.6 974 L102.6 975 L104.6 976.2 L106.6 977.4 L108.6 978.7 L110.6 980 L112.6 981.2 L114.6 982.5 L116.6 983.7 L118.6 984.9 L120.6 985.9 L122.6 986.9 L124.6 987.9 L126.6 988.7 L128.6 989.5 L130.6 990.1 L132.6 990.7 L134.6 991.2 L136.6 991.7 L138.6 992 L140.6 992.4 L142.6 992.6 L144.6 992.8 L146.6 993 L148.6 993.2 L150.6 993.3 L152.6 993.4 L154.6 993.5 L156.6 993.5 L158.6 993.6 L160.6 993.6 L162.6 993.6 L164.6 993.6 L166.6 993.7 L168.6 993.7 L170.6 993.7 L172.6 993.7 L174.6 993.7 L176.6 993.7 L178.6 993.7 L180.6 993.7 L182.6 993.7 L184.6 993.7 L186.6 993.7 L188.6 993.7 L190.6 993.7 L192.6 993.7 L194.6 993.7 L196.6 993.7 L198.6 993.7 L200.6 993.7 L202.6 993.7 L204.6 993.7 L206.6 993.7 L208.6 993.7 L210.6 993.7 L212.6 993.7 L214.6 993.7 L216.6 993.7 L218.6 993.7 L220.6 993.7 L222.6 993.7 L224.6 993.7 L226.6 993.7 L228.6 993.7 L230.6 993.7 L232.6 993.7 L234.6 993.7 L236.6 993.7 L238.6 993.7 L240.6 993.7 L242.6 993.7 L244.6 993.7 L246.6 993.7 L248.6 993.7 L250.6 993.7 L252.6 993.7 L254.6 993.7 L256.6 993.7 L258.6 993.7 L260.6 993.7 L262.6 993.7 L264.6 993.7 L266.6 993.7 L268.6 993.7 L270.6 993.7 L272.6 993.7 L274.6 993.7 L276.6 993.7 L278.6 993.7 L280.6 993.7 L282.6 993.7 L284.6 993.7 L286.6 993.7 L288.6 993.7 L290.6 993.7 L292.6 993.7 L294.6 993.7 L296.6 993.7 L298.6 993.7 L300.6 993.7 L302.6 993.7 L304.6 993.7 L306.6 993.7 L308.6 993.7 L310.6 993.7 L312.6 993.7 L314.6 993.7 L316.6 993.7 L318.6 993.7 L320.6 993.7 L322.6 993.7 L324.6 993.7 L326.6 993.7 L328.6 993.7 L330.6 993.7 L332.6 993.7 L334.6 993.7 L336.6 993.7 L338.6 993.7 L340.6 993.7 L342.6 993.7 L344.6 993.7 L346.6 993.7 L348.6 993.7 L350.6 993.7 L352.6 993.7 L354.6 993.7 L356.6 993.7 L358.6 993.7 L360.6 993.7 L362.6 993.7 L364.6 993.7 L366.6 993.7 L368.6 993.7 L370.6 993.7 L372.6 993.7 L373.6 993.7"/>
<path stroke="#878787" stroke-width="1.6" fill="none" d="M82.6 978.3 L84.6 977.3 L86.6 976.4 L88.6 975.5 L90.6 974.8 L92.6 974.2 L94.6 973.8 L96.6 973.5 L98.6 973.4 L100.6 973.5 L102.6 973.7 L104.6 974 L106.6 974.6 L108.6 975.2 L110.6 976 L112.6 976.9 L114.6 977.9 L116.6 979 L118.6 980 L120.6 981.2 L122.6 982.3 L124.6 983.4 L126.6 984.5 L128.6 985.5 L130.6 986.5 L132.6 987.4 L134.6 988.2 L136.6 989 L138.6 989.7 L140.6 990.3 L142.6 990.9 L144.6 991.3 L146.6 991.7 L148.6 992.1 L150.6 992.4 L152.6 992.7 L154.6 992.9 L156.6 993 L158.6 993.2 L160.6 993.3 L162.6 993.4 L164.6 993.5 L166.6 993.5 L168.6 993.6 L170.6 993.6 L172.6 993.6 L174.6 993.6 L176.6 993.7 L178.6 993.7 L180.6 993.7 L182.6 993.7 L184.6 993.7 L186.6 993.7 L188.6 993.7 L190.6 993.7 L192.6 993.7 L194.6 993.7 L196.6 993.7 L198.6 993.7 L200.6 993.7 L202.6 993.7 L204.6 993.7 L206.6 993.7 L208.6 993.7 L210.6 993.7 L212.6 993.7 L214.6 993.7 L216.6 993.7 L218.6 993.7 L220.6 993.7 L222.6 993.7 L224.6 993.7 L226.6 993.7 L228.6 993.7 L230.6 993.7 L232.6 993.7 L234.6 993.7 L236.6 993.7 L238.6 993.7 L240.6 993.7 L242.6 993.7 L244.6 993.7 L246.6 993.7 L248.6 993.7 L250.6 993.7 L252.6 993.7 L254.6 993.7 L256.6 993.7 L258.6 993.7 L260.6 993.7 L262.6 993.7 L264.6 993.7 L266.6 993.7 L268.6 993.7 L270.6 993.7 L272.6 993.7 L274.6 993.7 L276.6 993.7 L278.6 993.7 L280.6 993.7 L282.6 993.7 L284.6 993.7 L286.6 993.7 L288.6 993.7 L290.6 993.7 L292.6 993.7 L294.6 993.7 L296.6 993.7 L298.6 993.7 L300.6 993.7 L302.6 993.7 L304.6 993.7 L306.6 993.7 L308.6 993.7 L310.6 993.7 L312.6 993.7 L314.6 993.7 L316.6 993.7 L318.6 993.7 L320.6 993.7 L322.6 993.7 L324.6 993.7 L326.6 993.7 L328.6 993.7 L330.6 993.7 L332.6 993.7 L334.6 993.7 L336.6 993.7 L338.6 993.7 L340.6 993.7 L342.6 993.7 L344.6 993.7 L346.6 993.7 L348.6 993.7 L350.6 993.7 L352.6 993.7 L354.6 993.7 L356.6 993.7 L358.6 993.7 L360.6 993.7 L362.6 993.7 L364.6 993.7 L366.6 993.7 L368.6 993.7 L370.6 993.7 L372.6 993.7 L373.6 993.7"/>
<path stroke="#878787" stroke-width="1.6" fill="none" d="M82.6 985.5 L84.6 984.5 L86.6 983.5 L88.6 982.5 L90.6 981.6 L92.6 980.6 L94.6 979.7 L96.6 978.8 L98.6 978 L100.6 977.3 L102.6 976.8 L104.6 976.3 L106.6 976 L108.6 975.8 L110.6 975.8 L112.6 975.9 L114.6 976.2 L116.6 976.6 L118.6 977.1 L120.6 977.7 L122.6 978.5 L124.6 979.3 L126.6 980.2 L128.6 981.2 L130.6 982.1 L132.6 983.1 L134.6 984.1 L136.6 985.1 L138.6 986 L140.6 986.9 L142.6 987.7 L144.6 988.5 L146.6 989.2 L148.6 989.9 L150.6 990.4 L152.6 991 L154.6 991.4 L156.6 991.8 L158.6 992.1 L160.6 992.4 L162.6 992.7 L164.6 992.9 L166.6 993 L168.6 993.2 L170.6 993.3 L172.6 993.4 L174.6 993.5 L176.6 993.5 L178.6 993.6 L180.6 993.6 L182.6 993.6 L184.6 993.6 L186.6 993.7 L188.6 993.7 L190.6 993.7 L192.6 993.7 L194.6 993.7 L196.6 993.7 L198.6 993.7 L200.6 993.7 L202.6 993.7 L204.6 993.7 L206.6 993.7 L208.6 993.7 L210.6 993.7 L212.6 993.7 L214.6 993.7 L216.6 993.7 L218.6 993.7 L220.6 993.7 L222.6 993.7 L224.6 993.7 L226.6 993.7 L228.6 993.7 L230.6 993.7 L232.6 993.7 L234.6 993.7 L236.6 993.7 L238.6 993.7 L240.6 993.7 L242.6 993.7 L244.6 993.7 L246.6 993.7 L248.6 993.7 L250.6 993.7 L252.6 993.7 L254.6 993.7 L256.6 993.7 L258.6 993.7 L260.6 993.7 L262.6 993.7 L264.6 993.7 L266.6 993.7 L268.6 993.7 L270.6 993.7 L272.6 993.7 L274.6 993.7 L276.6 993.7 L278.6 993.7 L280.6 993.7 L282.6 993.7 L284.6 993.7 L286.6 993.7 L288.6 993.7 L290.6 993.7 L292.6 993.7 L294.6 993.7 L296.6 993.7 L298.6 993.7 L300.6 993.7 L302.6 993.7 L304.6 993.7 L306.6 993.7 L308.6 993.7 L310.6 993.7 L312.6 993.7 L314.6 993.7 L316.6 993.7 L318.6 993.7 L320.6 993.7 L322.6 993.7 L324.6 993.7 L326.6 993.7 L328.6 993.7 L330.6 993.7 L332.6 993.7 L334.6 993.7 L336.6 993.7 L338.6 993.7 L340.6 993.7 L342.6 993.7 L344.6 993.7 L346.6 993.7 L348.6 993.7 L350.6 993.7 L352.6 993.7 L354.6 993.7 L356.6 993.7 L358.6 993.7 L360.6 993.7 L362.6 993.7 L364.6 993.7 L366.6 993.7 L368.6 993.7 L370.6 993.7 L372.6 993.7 L373.6 993.7"/>
<path stroke="#878787" stroke-width="1.6" fill="none" d="M82.6 990.1 L84.6 989.5 L86.6 988.9 L88.6 988.1 L90.6 987.4 L92.6 986.5 L94.6 985.7 L96.6 984.8 L98.6 983.9 L100.6 983 L102.6 982.1 L104.6 981.2 L106.6 980.4 L108.6 979.7 L110.6 979 L112.6 978.4 L114.6 977.9 L116.6 977.6 L118.6 977.3 L120.6 977.2 L122.6 977.3 L124.6 977.5 L126.6 977.8 L128.6 978.2 L130.6 978.7 L132.6 979.4 L134.6 980.1 L136.6 980.9 L138.6 981.7 L140.6 982.6 L142.6 983.5 L144.6 984.4 L146.6 985.3 L148.6 986.2 L150.6 987 L152.6 987.8 L154.6 988.6 L156.6 989.3 L158.6 989.9 L160.6 990.4 L162.6 990.9 L164.6 991.4 L166.6 991.8 L168.6 992.1 L170.6 992.4 L172.6 992.6 L174.6 992.9 L176.6 993 L178.6 993.2 L180.6 993.3 L182.6 993.4 L184.6 993.4 L186.6 993.5 L188.6 993.6 L190.6 993.6 L192.6 993.6 L194.6 993.6 L196.6 993.7 L198.6 993.7 L200.6 993.7 L202.6 993.7 L204.6 993.7 L206.6 993.7 L208.6 993.7 L210.6 993.7 L212.6 993.7 L214.6 993.7 L216.6 993.7 L218.6 993.7 L220.6 993.7 L222.6 993.7 L224.6 993.7 L226.6 993.7 L228.6 993.7 L230.6 993.7 L232.6 993.7 L234.6 993.7 L236.6 993.7 L238.6 993.7 L240.6 993.7 L242.6 993.7 L244.6 993.7 L246.6 993.7 L248.6 993.7 L250.6 993.7 L252.6 993.7 L254.6 993.7 L256.6 993.7 L258.6 993.7 L260.6 993.7 L262.6 993.7 L264.6 993.7 L266.6 993.7 L268.6 993.7 L270.6 993.7 L272.6 993.7 L274.6 993.7 L276.6 993.7 L278.6 993.7 L280.6 993.7 L282.6 993.7 L284.6 993.7 L286.6 993.7 L288.6 993.7 L290.6 993.7 L292.6 993.7 L294.6 993.7 L296.6 993.7 L298.6 993.7 L300.6 993.7 L302.6 993.7 L304.6 993.7 L306.6 993.7 L308.6 993.7 L310.6 993.7 L312.6 993.7 L314.6 993.7 L316.6 993.7 L318.6 993.7 L320.6 993.7 L322.6 993.7 L324.6 993.7 L326.6 993.7 L328.6 993.7 L330.6 993.7 L332.6 993.7 L334.6 993.7 L336.6 993.7 L338.6 993.7 L340.6 993.7 L342.6 993.7 L344.6 993.7 L346.6 993.7 L348.6 993.7 L350.6 993.7 L352.6 993.7 L354.6 993.7 L356.6 993.7 L358.6 993.7 L360.6 993.7 L362.6 993.7 L364.6 993.7 L366.6 993.7 L368.6 993.7 L370.6 993.7 L372.6 993.7 L373.6 993.7"/>
<path stroke="#878787" stroke-width="1.6" fill="none" d="M82.6 992.5 L84.6 992.2 L86.6 991.9 L88.6 991.5 L90.6 991.1 L92.6 990.6 L94.6 990.1 L96.6 989.5 L98.6 988.8 L100.6 988.1 L102.6 987.4 L104.6 986.6 L106.6 985.8 L108.6 984.9 L110.6 984.1 L112.6 983.2 L114.6 982.4 L116.6 981.6 L118.6 980.9 L120.6 980.2 L122.6 979.6 L124.6 979.1 L126.6 978.7 L128.6 978.5 L130.6 978.3 L132.6 978.3 L134.6 978.4 L136.6 978.6 L138.6 979 L140.6 979.4 L142.6 980 L144.6 980.6 L146.6 981.3 L148.6 982.1 L150.6 982.9 L152.6 983.8 L154.6 984.6 L156.6 985.4 L158.6 986.3 L160.6 987.1 L162.6 987.8 L164.6 988.6 L166.6 989.2 L168.6 989.8 L170.6 990.4 L172.6 990.9 L174.6 991.3 L176.6 991.7 L178.6 992.1 L180.6 992.4 L182.6 992.6 L184.6 992.8 L186.6 993 L188.6 993.1 L190.6 993.3 L192.6 993.4 L194.6 993.4 L196.6 993.5 L198.6 993.5 L200.6 993.6 L202.6 993.6 L204.6 993.6 L206.6 993.7 L208.6 993.7 L210.6 993.7 L212.6 993.7 L214.6 993.7 L216.6 993.7 L218.6 993.7 L220.6 993.7 L222.6 993.7 L224.6 993.7 L226.6 993.7 L228.6 993.7 L230.6 993.7 L232.6 993.7 L234.6 993.7 L236.6 993.7 L238.6 993.7 L240.6 993.7 L242.6 993.7 L244.6 993.7 L246.6 993.7 L248.6 993.7 L250.6 993.7 L252.6 993.7 L254.6 993.7 L256.6 993.7 L258.6 993.7 L260.6 993.7 L262.6 993.7 L264.6 993.7 L266.6 993.7 L268.6 993.7 L270.6 993.7 L272.6 993.7 L274.6 993.7 L276.6 993.7 L278.6 993.7 L280.6 993.7 L282.6 993.7 L284.6 993.7 L286.6 993.7 L288.6 993.7 L290.6 993.7 L292.6 993.7 L294.6 993.7 L296.6 993.7 L298.6 993.7 L300.6 993.7 L302.6 993.7 L304.6 993.7 L306.6 993.7 L308.6 993.7 L310.6 993.7 L312.6 993.7 L314.6 993.7 L316.6 993.7 L318.6 993.7 L320.6 993.7 L322.6 993.7 L324.6 993.7 L326.6 993.7 L328.6 993.7 L330.6 993.7 L332.6 993.7 L334.6 993.7 L336.6 993.7 L338.6 993.7 L340.6 993.7 L342.6 993.7 L344.6 993.7 L346.6 993.7 L348.6 993.7 L350.6 993.7 L352.6 993.7 L354.6 993.7 L356.6 993.7 L358.6 993.7 L360.6 993.7 L362.6 993.7 L364.6 993.7 L366.6 993.7 L368.6 993.7 L370.6 993.7 L372.6 993.7 L373.6 993.7"/>
<path stroke="#878787" stroke-width="1.6" fill="none" d="M82.6 993.3 L84.6 993.2 L86.6 993.1 L88.6 992.9 L90.6 992.8 L92.6 992.5 L94.6 992.3 L96.6 992 L98.6 991.6 L100.6 991.2 L102.6 990.7 L104.6 990.2 L106.6 989.6 L108.6 989 L110.6 988.3 L112.6 987.5 L114.6 986.7 L116.6 985.9 L118.6 985 L120.6 984.1 L122.6 983.2 L124.6 982.4 L126.6 981.5 L128.6 980.7 L130.6 980 L132.6 979.3 L134.6 978.7 L136.6 978.3 L138.6 977.9 L140.6 977.7 L142.6 977.6 L144.6 977.7 L146.6 977.8 L148.6 978.1 L150.6 978.5 L152.6 979.1 L154.6 979.7 L156.6 980.4 L158.6 981.2 L160.6 982 L162.6 982.9 L164.6 983.8 L166.6 984.6 L168.6 985.5 L170.6 986.4 L172.6 987.2 L174.6 988 L176.6 988.7 L178.6 989.4 L180.6 990 L182.6 990.5 L184.6 991 L186.6 991.4 L188.6 991.8 L190.6 992.2 L192.6 992.4 L194.6 992.7 L196.6 992.9 L198.6 993 L200.6 993.2 L202.6 993.3 L204.6 993.4 L206.6 993.5 L208.6 993.5 L210.6 993.6 L212.6 993.6 L214.6 993.6 L216.6 993.6 L218.6 993.7 L220.6 993.7 L222.6 993.7 L224.6 993.7 L226.6 993.7 L228.6 993.7 L230.6 993.7 L232.6 993.7 L234.6 993.7 L236.6 993.7 L238.6 993.7 L240.6 993.7 L242.6 993.7 L244.6 993.7 L246.6 993.7 L248.6 993.7 L250.6 993.7 L252.6 993.7 L254.6 993.7 L256.6 993.7 L258.6 993.7 L260.6 993.7 L262.6 993.7 L264.6 993.7 L266.6 993.7 L268.6 993.7 L270.6 993.7 L272.6 993.7 L274.6 993.7 L276.6 993.7 L278.6 993.7 L280.6 993.7 L282.6 993.7 L284.6 993.7 L286.6 993.7 L288.6 993.7 L290.6 993.7 L292.6 993.7 L294.6 993.7 L296.6 993.7 L298.6 993.7 L300.6 993.7 L302.6 993.7 L304.6 993.7 L306.6 993.7 L308.6 993.7 L310.6 993.7 L312.6 993.7 L314.6 993.7 L316.6 993.7 L318.6 993.7 L320.6 993.7 L322.6 993.7 L324.6 993.7 L326.6 993.7 L328.6 993.7 L330.6 993.7 L332.6 993.7 L334.6 993.7 L336.6 993.7 L338.6 993.7 L340.6 993.7 L342.6 993.7 L344.6 993.7 L346.6 993.7 L348.6 993.7 L350.6 993.7 L352.6 993.7 L354.6 993.7 L356.6 993.7 L358.6 993.7 L360.6 993.7 L362.6 993.7 L364.6 993.7 L366.6 993.7 L368.6 993.7 L370.6 993.7 L372.6 993.7 L373.6 993.7"/>
<path stroke="#878787" stroke-width="1.6" fill="none" d="M82.6 993.6 L84.6 993.6 L86.6 993.5 L88.6 993.5 L90.6 993.4 L92.6 993.3 L94.6 993.2 L96.6 993.1 L98.6 992.9 L100.6 992.8 L102.6 992.5 L104.6 992.3 L106.6 991.9 L108.6 991.6 L110.6 991.1 L112.6 990.6 L114.6 990.1 L116.6 989.5 L118.6 988.8 L120.6 988 L122.6 987.2 L124.6 986.3 L126.6 985.4 L128.6 984.5 L130.6 983.5 L132.6 982.5 L134.6 981.5 L136.6 980.5 L138.6 979.6 L140.6 978.7 L142.6 978 L144.6 977.3 L146.6 976.7 L148.6 976.2 L150.6 975.9 L152.6 975.7 L154.6 975.7 L156.6 975.8 L158.6 976.1 L160.6 976.5 L162.6 977 L164.6 977.7 L166.6 978.4 L168.6 979.3 L170.6 980.2 L172.6 981.1 L174.6 982.1 L176.6 983.1 L178.6 984.1 L180.6 985 L182.6 986 L184.6 986.9 L186.6 987.7 L188.6 988.5 L190.6 989.2 L192.6 989.8 L194.6 990.4 L196.6 990.9 L198.6 991.4 L200.6 991.8 L202.6 992.1 L204.6 992.4 L206.6 992.7 L208.6 992.9 L210.6 993 L212.6 993.2 L214.6 993.3 L216.6 993.4 L218.6 993.5 L220.6 993.5 L222.6 993.6 L224.6 993.6 L226.6 993.6 L228.6 993.6 L230.6 993.7 L232.6 993.7 L234.6 993.7 L236.6 993.7 L238.6 993.7 L240.6 993.7 L242.6 993.7 L244.6 993.7 L246.6 993.7 L248.6 993.7 L250.6 993.7 L252.6 993.7 L254.6 993.7 L256.6 993.7 L258.6 993.7 L260.6 993.7 L262.6 993.7 L264.6 993.7 L266.6 993.7 L268.6 993.7 L270.6 993.7 L272.6 993.7 L274.6 993.7 L276.6 993.7 L278.6 993.7 L280.6 993.7 L282.6 993.7 L284.6 993.7 L286.6 993.7 L288.6 993.7 L290.6 993.7 L292.6 993.7 L294.6 993.7 L296.6 993.7 L298.6 993.7 L300.6 993.7 L302.6 993.7 L304.6 993.7 L306.6 993.7 L308.6 993.7 L310.6 993.7 L312.6 993.7 L314.6 993.7 L316.6 993.7 L318.6 993.7 L320.6 993.7 L322.6 993.7 L324.6 993.7 L326.6 993.7 L328.6 993.7 L330.6 993.7 L332.6 993.7 L334.6 993.7 L336.6 993.7 L338.6 993.7 L340.6 993.7 L342.6 993.7 L344.6 993.7 L346.6 993.7 L348.6 993.7 L350.6 993.7 L352.6 993.7 L354.6 993.7 L356.6 993.7 L358.6 993.7 L360.6 993.7 L362.6 993.7 L364.6 993.7 L366.6 993.7 L368.6 993.7 L370.6 993.7 L372.6 993.7 L373.6 993.7"/>
<path stroke="#878787" stroke-width="1.6" fill="none" d="M82.6 993.7 L84.6 993.7 L86.6 993.7 L88.6 993.7 L90.6 993.6 L92.6 993.6 L94.6 993.6 L96.6 993.5 L98.6 993.5 L100.6 993.4 L102.6 993.3 L104.6 993.2 L106.6 993.1 L108.6 993 L110.6 992.8 L112.6 992.5 L114.6 992.2 L116.6 991.9 L118.6 991.5 L120.6 991.1 L122.6 990.6 L124.6 990 L126.6 989.3 L128.6 988.6 L130.6 987.8 L132.6 986.9 L134.6 986 L136.6 985 L138.6 984 L140.6 982.9 L142.6 981.8 L144.6 980.7 L146.6 979.6 L148.6 978.6 L150.6 977.6 L152.6 976.6 L154.6 975.8 L156.6 975.1 L158.6 974.5 L160.6 974.1 L162.6 973.8 L164.6 973.7 L166.6 973.8 L168.6 974 L170.6 974.3 L172.6 974.9 L174.6 975.5 L176.6 976.3 L178.6 977.2 L180.6 978.1 L182.6 979.2 L184.6 980.3 L186.6 981.3 L188.6 982.5 L190.6 983.5 L192.6 984.6 L194.6 985.6 L196.6 986.6 L198.6 987.5 L200.6 988.3 L202.6 989.1 L204.6 989.7 L206.6 990.4 L208.6 990.9 L210.6 991.4 L212.6 991.8 L214.6 992.1 L216.6 992.4 L218.6 992.7 L220.6 992.9 L222.6 993.1 L224.6 993.2 L226.6 993.3 L228.6 993.4 L230.6 993.5 L232.6 993.5 L234.6 993.6 L236.6 993.6 L238.6 993.6 L240.6 993.6 L242.6 993.7 L244.6 993.7 L246.6 993.7 L248.6 993.7 L250.6 993.7 L252.6 993.7 L254.6 993.7 L256.6 993.7 L258.6 993.7 L260.6 993.7 L262.6 993.7 L264.6 993.7 L266.6 993.7 L268.6 993.7 L270.6 993.7 L272.6 993.7 L274.6 993.7 L276.6 993.7 L278.6 993.7 L280.6 993.7 L282.6 993.7 L284.6 993.7 L286.6 993.7 L288.6 993.7 L290.6 993.7 L292.6 993.7 L294.6 993.7 L296.6 993.7 L298.6 993.7 L300.6 993.7 L302.6 993.7 L304.6 993.7 L306.6 993.7 L308.6 993.7 L310.6 993.7 L312.6 993.7 L314.6 993.7 L316.6 993.7 L318.6 993.7 L320.6 993.7 L322.6 993.7 L324.6 993.7 L326.6 993.7 L328.6 993.7 L330.6 993.7 L332.6 993.7 L334.6 993.7 L336.6 993.7 L338.6 993.7 L340.6 993.7 L342.6 993.7 L344.6 993.7 L346.6 993.7 L348.6 993.7 L350.6 993.7 L352.6 993.7 L354.6 993.7 L356.6 993.7 L358.6 993.7 L360.6 993.7 L362.6 993.7 L364.6 993.7 L366.6 993.7 L368.6 993.7 L370.6 993.7 L372.6 993.7 L373.6 993.7"/>
<path stroke="#878787" stroke-width="1.6" fill="none" d="M82.6 993.7 L84.6 993.7 L86.6 993.7 L88.6 993.7 L90.6 993.7 L92.6 993.7 L94.6 993.7 L96.6 993.7 L98.6 993.7 L100.6 993.6 L102.6 993.6 L104.6 993.6 L106.6 993.5 L108.6 993.5 L110.6 993.4 L112.6 993.3 L114.6 993.2 L116.6 993.1 L118.6 992.9 L120.6 992.8 L122.6 992.5 L124.6 992.2 L126.6 991.9 L128.6 991.5 L130.6 991 L132.6 990.5 L134.6 989.9 L136.6 989.2 L138.6 988.4 L140.6 987.5 L142.6 986.6 L144.6 985.6 L146.6 984.5 L148.6 983.3 L150.6 982.1 L152.6 980.9 L154.6 979.6 L156.6 978.4 L158.6 977.2 L160.6 976 L162.6 975 L164.6 974 L166.6 973.1 L168.6 972.4 L170.6 971.8 L172.6 971.4 L174.6 971.2 L176.6 971.1 L178.6 971.3 L180.6 971.6 L182.6 972.1 L184.6 972.8 L186.6 973.6 L188.6 974.6 L190.6 975.6 L192.6 976.7 L194.6 977.9 L196.6 979.1 L198.6 980.4 L200.6 981.6 L202.6 982.8 L204.6 984 L206.6 985.1 L208.6 986.2 L210.6 987.2 L212.6 988 L214.6 988.9 L216.6 989.6 L218.6 990.2 L220.6 990.8 L222.6 991.3 L224.6 991.7 L226.6 992.1 L228.6 992.4 L230.6 992.7 L232.6 992.9 L234.6 993.1 L236.6 993.2 L238.6 993.3 L240.6 993.4 L242.6 993.5 L244.6 993.5 L246.6 993.6 L248.6 993.6 L250.6 993.6 L252.6 993.6 L254.6 993.7 L256.6 993.7 L258.6 993.7 L260.6 993.7 L262.6 993.7 L264.6 993.7 L266.6 993.7 L268.6 993.7 L270.6 993.7 L272.6 993.7 L274.6 993.7 L276.6 993.7 L278.6 993.7 L280.6 993.7 L282.6 993.7 L284.6 993.7 L286.6 993.7 L288.6 993.7 L290.6 993.7 L292.6 993.7 L294.6 993.7 L296.6 993.7 L298.6 993.7 L300.6 993.7 L302.6 993.7 L304.6 993.7 L306.6 993.7 L308.6 993.7 L310.6 993.7 L312.6 993.7 L314.6 993.7 L316.6 993.7 L318.6 993.7 L320.6 993.7 L322.6 993.7 L324.6 993.7 L326.6 993.7 L328.6 993.7 L330.6 993.7 L332.6 993.7 L334.6 993.7 L336.6 993.7 L338.6 993.7 L340.6 993.7 L342.6 993.7 L344.6 993.7 L346.6 993.7 L348.6 993.7 L350.6 993.7 L352.6 993.7 L354.6 993.7 L356.6 993.7 L358.6 993.7 L360.6 993.7 L362.6 993.7 L364.6 993.7 L366.6 993.7 L368.6 993.7 L370.6 993.7 L372.6 993.7 L373.6 993.7"/>
<path stroke="#878787" stroke-width="1.6" fill="none" d="M82.6 993.7 L84.6 993.7 L86.6 993.7 L88.6 993.7 L90.6 993.7 L92.6 993.7 L94.6 993.7 L96.6 993.7 L98.6 993.7 L100.6 993.7 L102.6 993.7 L104.6 993.7 L106.6 993.7 L108.6 993.7 L110.6 993.7 L112.6 993.7 L114.6 993.7 L116.6 993.7 L118.6 993.7 L120.6 993.7 L122.6 993.7 L124.6 993.7 L126.6 993.7 L128.6 993.6 L130.6 993.6 L132.6 993.5 L134.6 993.5 L136.6 993.4 L138.6 993.2 L140.6 993.1 L142.6 992.8 L144.6 992.5 L146.6 992.1 L148.6 991.7 L150.6 991 L152.6 990.3 L154.6 989.4 L156.6 988.4 L158.6 987.2 L160.6 985.8 L162.6 984.3 L164.6 982.7 L166.6 980.9 L168.6 979.1 L170.6 977.2 L172.6 975.3 L174.6 973.6 L176.6 971.9 L178.6 970.4 L180.6 969.2 L182.6 968.3 L184.6 967.7 L186.6 967.4 L188.6 967.5 L190.6 968 L192.6 968.8 L194.6 969.9 L196.6 971.3 L198.6 972.9 L200.6 974.6 L202.6 976.5 L204.6 978.3 L206.6 980.2 L208.6 982 L210.6 983.7 L212.6 985.2 L214.6 986.7 L216.6 987.9 L218.6 989 L220.6 990 L222.6 990.8 L224.6 991.4 L226.6 992 L228.6 992.4 L230.6 992.7 L232.6 993 L234.6 993.2 L236.6 993.3 L238.6 993.4 L240.6 993.5 L242.6 993.6 L244.6 993.6 L246.6 993.6 L248.6 993.7 L250.6 993.7 L252.6 993.7 L254.6 993.7 L256.6 993.7 L258.6 993.7 L260.6 993.7 L262.6 993.7 L264.6 993.7 L266.6 993.7 L268.6 993.7 L270.6 993.7 L272.6 993.7 L274.6 993.7 L276.6 993.7 L278.6 993.7 L280.6 993.7 L282.6 993.7 L284.6 993.7 L286.6 993.7 L288.6 993.7 L290.6 993.7 L292.6 993.7 L294.6 993.7 L296.6 993.7 L298.6 993.7 L300.6 993.7 L302.6 993.7 L304.6 993.7 L306.6 993.7 L308.6 993.7 L310.6 993.7 L312.6 993.7 L314.6 993.7 L316.6 993.7 L318.6 993.7 L320.6 993.7 L322.6 993.7 L324.6 993.7 L326.6 993.7 L328.6 993.7 L330.6 993.7 L332.6 993.7 L334.6 993.7 L336.6 993.7 L338.6 993.7 L340.6 993.7 L342.6 993.7 L344.6 993.7 L346.6 993.7 L348.6 993.7 L350.6 993.7 L352.6 993.7 L354.6 993.7 L356.6 993.7 L358.6 993.7 L360.6 993.7 L362.6 993.7 L364.6 993.7 L366.6 993.7 L368.6 993.7 L370.6 993.7 L372.6 993.7 L373.6 993.7"/>
<path stroke="#878787" stroke-width="1.6" fill="none" d="M82.6 993.7 L84.6 993.7 L86.6 993.7 L88.6 993.7 L90.6 993.7 L92.6 993.7 L94.6 993.7 L96.6 993.7 L98.6 993.7 L100.6 993.7 L102.6 993.7 L104.6 993.7 L106.6 993.7 L108.6 993.7 L110.6 993.7 L112.6 993.7 L114.6 993.7 L116.6 993.7 L118.6 993.7 L120.6 993.7 L122.6 993.7 L124.6 993.7 L126.6 993.7 L128.6 993.7 L130.6 993.7 L132.6 993.7 L134.6 993.7 L136.6 993.6 L138.6 993.6 L140.6 993.6 L142.6 993.5 L144.6 993.4 L146.6 993.3 L148.6 993.1 L150.6 992.9 L152.6 992.6 L154.6 992.2 L156.6 991.7 L158.6 991.1 L160.6 990.4 L162.6 989.5 L164.6 988.4 L166.6 987.2 L168.6 985.7 L170.6 984.1 L172.6 982.3 L174.6 980.3 L176.6 978.3 L178.6 976.1 L180.6 973.9 L182.6 971.8 L184.6 969.7 L186.6 967.8 L188.6 966.2 L190.6 964.8 L192.6 963.9 L194.6 963.2 L196.6 963.1 L198.6 963.3 L200.6 963.9 L202.6 965 L204.6 966.3 L206.6 968 L208.6 969.9 L210.6 972 L212.6 974.1 L214.6 976.3 L216.6 978.5 L218.6 980.5 L220.6 982.5 L222.6 984.3 L224.6 985.9 L226.6 987.3 L228.6 988.5 L230.6 989.6 L232.6 990.5 L234.6 991.2 L236.6 991.8 L238.6 992.3 L240.6 992.6 L242.6 992.9 L244.6 993.1 L246.6 993.3 L248.6 993.4 L250.6 993.5 L252.6 993.6 L254.6 993.6 L256.6 993.6 L258.6 993.7 L260.6 993.7 L262.6 993.7 L264.6 993.7 L266.6 993.7 L268.6 993.7 L270.6 993.7 L272.6 993.7 L274.6 993.7 L276.6 993.7 L278.6 993.7 L280.6 993.7 L282.6 993.7 L284.6 993.7 L286.6 993.7 L288.6 993.7 L290.6 993.7 L292.6 993.7 L294.6 993.7 L296.6 993.7 L298.6 993.7 L300.6 993.7 L302.6 993.7 L304.6 993.7 L306.6 993.7 L308.6 993.7 L310.6 993.7 L312.6 993.7 L314.6 993.7 L316.6 993.7 L318.6 993.7 L320.6 993.7 L322.6 993.7 L324.6 993.7 L326.6 993.7 L328.6 993.7 L330.6 993.7 L332.6 993.7 L334.6 993.7 L336.6 993.7 L338.6 993.7 L340.6 993.7 L342.6 993.7 L344.6 993.7 L346.6 993.7 L348.6 993.7 L350.6 993.7 L352.6 993.7 L354.6 993.7 L356.6 993.7 L358.6 993.7 L360.6 993.7 L362.6 993.7 L364.6 993.7 L366.6 993.7 L368.6 993.7 L370.6 993.7 L372.6 993.7 L373.6 993.7"/>
<path stroke="#878787" stroke-width="1.6" fill="none" d="M82.6 993.7 L84.6 993.7 L86.6 993.7 L88.6 993.7 L90.6 993.7 L92.6 993.7 L94.6 993.7 L96.6 993.7 L98.6 993.7 L100.6 993.7 L102.6 993.7 L104.6 993.7 L106.6 993.7 L108.6 993.7 L110.6 993.7 L112.6 993.7 L114.6 993.7 L116.6 993.7 L118.6 993.7 L120.6 993.7 L122.6 993.7 L124.6 993.7 L126.6 993.7 L128.6 993.7 L130.6 993.7 L132.6 993.7 L134.6 993.7 L136.6 993.7 L138.6 993.7 L140.6 993.7 L142.6 993.7 L144.6 993.6 L146.6 993.6 L148.6 993.6 L150.6 993.5 L152.6 993.4 L154.6 993.3 L156.6 993.1 L158.6 992.9 L160.6 992.6 L162.6 992.2 L164.6 991.7 L166.6 991.1 L168.6 990.3 L170.6 989.3 L172.6 988.1 L174.6 986.7 L176.6 985 L178.6 983.1 L180.6 981 L182.6 978.7 L184.6 976.2 L186.6 973.5 L188.6 970.8 L190.6 968 L192.6 965.3 L194.6 962.8 L196.6 960.5 L198.6 958.5 L200.6 956.9 L202.6 955.7 L204.6 955.1 L206.6 955 L208.6 955.4 L210.6 956.4 L212.6 957.8 L214.6 959.6 L216.6 961.8 L218.6 964.3 L220.6 966.9 L222.6 969.7 L224.6 972.4 L226.6 975.1 L228.6 977.7 L230.6 980.1 L232.6 982.3 L234.6 984.3 L236.6 986 L238.6 987.5 L240.6 988.8 L242.6 989.9 L244.6 990.8 L246.6 991.5 L248.6 992 L250.6 992.5 L252.6 992.8 L254.6 993 L256.6 993.2 L258.6 993.4 L260.6 993.5 L262.6 993.5 L264.6 993.6 L266.6 993.6 L268.6 993.7 L270.6 993.7 L272.6 993.7 L274.6 993.7 L276.6 993.7 L278.6 993.7 L280.6 993.7 L282.6 993.7 L284.6 993.7 L286.6 993.7 L288.6 993.7 L290.6 993.7 L292.6 993.7 L294.6 993.7 L296.6 993.7 L298.6 993.7 L300.6 993.7 L302.6 993.7 L304.6 993.7 L306.6 993.7 L308.6 993.7 L310.6 993.7 L312.6 993.7 L314.6 993.7 L316.6 993.7 L318.6 993.7 L320.6 993.7 L322.6 993.7 L324.6 993.7 L326.6 993.7 L328.6 993.7 L330.6 993.7 L332.6 993.7 L334.6 993.7 L336.6 993.7 L338.6 993.7 L340.6 993.7 L342.6 993.7 L344.6 993.7 L346.6 993.7 L348.6 993.7 L350.6 993.7 L352.6 993.7 L354.6 993.7 L356.6 993.7 L358.6 993.7 L360.6 993.7 L362.6 993.7 L364.6 993.7 L366.6 993.7 L368.6 993.7 L370.6 993.7 L372.6 993.7 L373.6 993.7"/>
<path stroke="#878787" stroke-width="1.6" fill="none" d="M82.6 993.7 L84.6 993.7 L86.6 993.7 L88.6 993.7 L90.6 993.7 L92.6 993.7 L94.6 993.7 L96.6 993.7 L98.6 993.7 L100.6 993.7 L102.6 993.7 L104.6 993.7 L106.6 993.7 L108.6 993.7 L110.6 993.7 L112.6 993.7 L114.6 993.7 L116.6 993.7 L118.6 993.7 L120.6 993.7 L122.6 993.7 L124.6 993.7 L126.6 993.7 L128.6 993.7 L130.6 993.7 L132.6 993.7 L134.6 993.7 L136.6 993.7 L138.6 993.7 L140.6 993.7 L142.6 993.7 L144.6 993.7 L146.6 993.7 L148.6 993.7 L150.6 993.7 L152.6 993.7 L154.6 993.6 L156.6 993.6 L158.6 993.5 L160.6 993.4 L162.6 993.3 L164.6 993.2 L166.6 993 L168.6 992.7 L170.6 992.3 L172.6 991.8 L174.6 991.1 L176.6 990.3 L178.6 989.3 L180.6 988 L182.6 986.5 L184.6 984.7 L186.6 982.6 L188.6 980.3 L190.6 977.7 L192.6 974.8 L194.6 971.7 L196.6 968.4 L198.6 965.1 L200.6 961.8 L202.6 958.5 L204.6 955.5 L206.6 952.8 L208.6 950.5 L210.6 948.7 L212.6 947.5 L214.6 946.9 L216.6 946.9 L218.6 947.6 L220.6 948.9 L222.6 950.7 L224.6 953.1 L226.6 955.8 L228.6 958.8 L230.6 962.1 L232.6 965.4 L234.6 968.7 L236.6 972 L238.6 975.1 L240.6 977.9 L242.6 980.5 L244.6 982.9 L246.6 984.9 L248.6 986.7 L250.6 988.1 L252.6 989.4 L254.6 990.4 L256.6 991.2 L258.6 991.8 L260.6 992.3 L262.6 992.7 L264.6 993 L266.6 993.2 L268.6 993.3 L270.6 993.5 L272.6 993.5 L274.6 993.6 L276.6 993.6 L278.6 993.7 L280.6 993.7 L282.6 993.7 L284.6 993.7 L286.6 993.7 L288.6 993.7 L290.6 993.7 L292.6 993.7 L294.6 993.7 L296.6 993.7 L298.6 993.7 L300.6 993.7 L302.6 993.7 L304.6 993.7 L306.6 993.7 L308.6 993.7 L310.6 993.7 L312.6 993.7 L314.6 993.7 L316.6 993.7 L318.6 993.7 L320.6 993.7 L322.6 993.7 L324.6 993.7 L326.6 993.7 L328.6 993.7 L330.6 993.7 L332.6 993.7 L334.6 993.7 L336.6 993.7 L338.6 993.7 L340.6 993.7 L342.6 993.7 L344.6 993.7 L346.6 993.7 L348.6 993.7 L350.6 993.7 L352.6 993.7 L354.6 993.7 L356.6 993.7 L358.6 993.7 L360.6 993.7 L362.6 993.7 L364.6 993.7 L366.6 993.7 L368.6 993.7 L370.6 993.7 L372.6 993.7 L373.6 993.7"/>
<path stroke="#878787" stroke-width="1.6" fill="none" d="M82.6 993.7 L84.6 993.7 L86.6 993.7 L88.6 993.7 L90.6 993.7 L92.6 993.7 L94.6 993.7 L96.6 993.7 L98.6 993.7 L100.6 993.7 L102.6 993.7 L104.6 993.7 L106.6 993.7 L108.6 993.7 L110.6 993.7 L112.6 993.7 L114.6 993.7 L116.6 993.7 L118.6 993.7 L120.6 993.7 L122.6 993.7 L124.6 993.7 L126.6 993.7 L128.6 993.7 L130.6 993.7 L132.6 993.7 L134.6 993.7 L136.6 993.7 L138.6 993.7 L140.6 993.7 L142.6 993.7 L144.6 993.7 L146.6 993.7 L148.6 993.7 L150.6 993.7 L152.6 993.7 L154.6 993.7 L156.6 993.7 L158.6 993.7 L160.6 993.7 L162.6 993.6 L164.6 993.6 L166.6 993.6 L168.6 993.5 L170.6 993.4 L172.6 993.3 L174.6 993.2 L176.6 992.9 L178.6 992.6 L180.6 992.2 L182.6 991.7 L184.6 991.1 L186.6 990.2 L188.6 989.2 L190.6 987.9 L192.6 986.5 L194.6 984.7 L196.6 982.7 L198.6 980.4 L200.6 977.8 L202.6 975 L204.6 972 L206.6 968.9 L208.6 965.7 L210.6 962.6 L212.6 959.6 L214.6 956.8 L216.6 954.3 L218.6 952.2 L220.6 950.6 L222.6 949.6 L224.6 949.2 L226.6 949.3 L228.6 950.1 L230.6 951.5 L232.6 953.4 L234.6 955.7 L236.6 958.4 L238.6 961.3 L240.6 964.5 L242.6 967.6 L244.6 970.8 L246.6 973.8 L248.6 976.7 L250.6 979.4 L252.6 981.8 L254.6 983.9 L256.6 985.8 L258.6 987.4 L260.6 988.7 L262.6 989.8 L264.6 990.7 L266.6 991.5 L268.6 992 L270.6 992.5 L272.6 992.8 L274.6 993.1 L276.6 993.3 L278.6 993.4 L280.6 993.5 L282.6 993.6 L284.6 993.6 L286.6 993.6 L288.6 993.7 L290.6 993.7 L292.6 993.7 L294.6 993.7 L296.6 993.7 L298.6 993.7 L300.6 993.7 L302.6 993.7 L304.6 993.7 L306.6 993.7 L308.6 993.7 L310.6 993.7 L312.6 993.7 L314.6 993.7 L316.6 993.7 L318.6 993.7 L320.6 993.7 L322.6 993.7 L324.6 993.7 L326.6 993.7 L328.6 993.7 L330.6 993.7 L332.6 993.7 L334.6 993.7 L336.6 993.7 L338.6 993.7 L340.6 993.7 L342.6 993.7 L344.6 993.7 L346.6 993.7 L348.6 993.7 L350.6 993.7 L352.6 993.7 L354.6 993.7 L356.6 993.7 L358.6 993.7 L360.6 993.7 L362.6 993.7 L364.6 993.7 L366.6 993.7 L368.6 993.7 L370.6 993.7 L372.6 993.7 L373.6 993.7"/>
<path stroke="#878787" stroke-width="1.6" fill="none" d="M82.6 993.7 L84.6 993.7 L86.6 993.7 L88.6 993.7 L90.6 993.7 L92.6 993.7 L94.6 993.7 L96.6 993.7 L98.6 993.7 L100.6 993.7 L102.6 993.7 L104.6 993.7 L106.6 993.7 L108.6 993.7 L110.6 993.7 L112.6 993.7 L114.6 993.7 L116.6 993.7 L118.6 993.7 L120.6 993.7 L122.6 993.7 L124.6 993.7 L126.6 993.7 L128.6 993.7 L130.6 993.7 L132.6 993.7 L134.6 993.7 L136.6 993.7 L138.6 993.7 L140.6 993.7 L142.6 993.7 L144.6 993.7 L146.6 993.7 L148.6 993.7 L150.6 993.7 L152.6 993.7 L154.6 993.7 L156.6 993.7 L158.6 993.7 L160.6 993.7 L162.6 993.7 L164.6 993.7 L166.6 993.7 L168.6 993.7 L170.6 993.7 L172.6 993.6 L174.6 993.6 L176.6 993.6 L178.6 993.5 L180.6 993.4 L182.6 993.3 L184.6 993.2 L186.6 993 L188.6 992.7 L190.6 992.3 L192.6 991.8 L194.6 991.2 L196.6 990.5 L198.6 989.5 L200.6 988.4 L202.6 987 L204.6 985.4 L206.6 983.6 L208.6 981.5 L210.6 979.2 L212.6 976.7 L214.6 974.1 L216.6 971.4 L218.6 968.6 L220.6 965.9 L222.6 963.3 L224.6 960.9 L226.6 958.8 L228.6 957.1 L230.6 955.8 L232.6 955.1 L234.6 954.8 L236.6 955.1 L238.6 955.9 L240.6 957.2 L242.6 959 L244.6 961.1 L246.6 963.5 L248.6 966.1 L250.6 968.9 L252.6 971.6 L254.6 974.4 L256.6 977 L258.6 979.5 L260.6 981.7 L262.6 983.8 L264.6 985.6 L266.6 987.2 L268.6 988.5 L270.6 989.6 L272.6 990.5 L274.6 991.3 L276.6 991.9 L278.6 992.4 L280.6 992.7 L282.6 993 L284.6 993.2 L286.6 993.3 L288.6 993.5 L290.6 993.5 L292.6 993.6 L294.6 993.6 L296.6 993.7 L298.6 993.7 L300.6 993.7 L302.6 993.7 L304.6 993.7 L306.6 993.7 L308.6 993.7 L310.6 993.7 L312.6 993.7 L314.6 993.7 L316.6 993.7 L318.6 993.7 L320.6 993.7 L322.6 993.7 L324.6 993.7 L326.6 993.7 L328.6 993.7 L330.6 993.7 L332.6 993.7 L334.6 993.7 L336.6 993.7 L338.6 993.7 L340.6 993.7 L342.6 993.7 L344.6 993.7 L346.6 993.7 L348.6 993.7 L350.6 993.7 L352.6 993.7 L354.6 993.7 L356.6 993.7 L358.6 993.7 L360.6 993.7 L362.6 993.7 L364.6 993.7 L366.6 993.7 L368.6 993.7 L370.6 993.7 L372.6 993.7 L373.6 993.7"/>
<path stroke="#878787" stroke-width="1.6" fill="none" d="M82.6 993.7 L84.6 993.7 L86.6 993.7 L88.6 993.7 L90.6 993.7 L92.6 993.7 L94.6 993.7 L96.6 993.7 L98.6 993.7 L100.6 993.7 L102.6 993.7 L104.6 993.7 L106.6 993.7 L108.6 993.7 L110.6 993.7 L112.6 993.7 L114.6 993.7 L116.6 993.7 L118.6 993.7 L120.6 993.7 L122.6 993.7 L124.6 993.7 L126.6 993.7 L128.6 993.7 L130.6 993.7 L132.6 993.7 L134.6 993.7 L136.6 993.7 L138.6 993.7 L140.6 993.7 L142.6 993.7 L144.6 993.7 L146.6 993.7 L148.6 993.7 L150.6 993.7 L152.6 993.7 L154.6 993.7 L156.6 993.7 L158.6 993.7 L160.6 993.7 L162.6 993.7 L164.6 993.7 L166.6 993.7 L168.6 993.7 L170.6 993.7 L172.6 993.7 L174.6 993.7 L176.6 993.7 L178.6 993.7 L180.6 993.7 L182.6 993.7 L184.6 993.6 L186.6 993.6 L188.6 993.6 L190.6 993.5 L192.6 993.5 L194.6 993.3 L196.6 993.2 L198.6 993 L200.6 992.8 L202.6 992.5 L204.6 992.1 L206.6 991.6 L208.6 991 L210.6 990.2 L212.6 989.4 L214.6 988.3 L216.6 987.2 L218.6 985.9 L220.6 984.4 L222.6 982.9 L224.6 981.2 L226.6 979.5 L228.6 977.8 L230.6 976.2 L232.6 974.6 L234.6 973.2 L236.6 972 L238.6 971 L240.6 970.3 L242.6 969.9 L244.6 969.8 L246.6 970.1 L248.6 970.7 L250.6 971.5 L252.6 972.7 L254.6 974 L256.6 975.5 L258.6 977.2 L260.6 978.9 L262.6 980.6 L264.6 982.2 L266.6 983.8 L268.6 985.3 L270.6 986.7 L272.6 987.9 L274.6 989 L276.6 989.9 L278.6 990.7 L280.6 991.3 L282.6 991.9 L284.6 992.3 L286.6 992.7 L288.6 992.9 L290.6 993.1 L292.6 993.3 L294.6 993.4 L296.6 993.5 L298.6 993.6 L300.6 993.6 L302.6 993.6 L304.6 993.7 L306.6 993.7 L308.6 993.7 L310.6 993.7 L312.6 993.7 L314.6 993.7 L316.6 993.7 L318.6 993.7 L320.6 993.7 L322.6 993.7 L324.6 993.7 L326.6 993.7 L328.6 993.7 L330.6 993.7 L332.6 993.7 L334.6 993.7 L336.6 993.7 L338.6 993.7 L340.6 993.7 L342.6 993.7 L344.6 993.7 L346.6 993.7 L348.6 993.7 L350.6 993.7 L352.6 993.7 L354.6 993.7 L356.6 993.7 L358.6 993.7 L360.6 993.7 L362.6 993.7 L364.6 993.7 L366.6 993.7 L368.6 993.7 L370.6 993.7 L372.6 993.7 L373.6 993.7"/>
<path stroke="#878787" stroke-width="1.6" fill="none" d="M82.6 993.7 L84.6 993.7 L86.6 993.7 L88.6 993.7 L90.6 993.7 L92.6 993.7 L94.6 993.7 L96.6 993.7 L98.6 993.7 L100.6 993.7 L102.6 993.7 L104.6 993.7 L106.6 993.7 L108.6 993.7 L110.6 993.7 L112.6 993.7 L114.6 993.7 L116.6 993.7 L118.6 993.7 L120.6 993.7 L122.6 993.7 L124.6 993.7 L126.6 993.7 L128.6 993.7 L130.6 993.7 L132.6 993.7 L134.6 993.7 L136.6 993.7 L138.6 993.7 L140.6 993.7 L142.6 993.7 L144.6 993.7 L146.6 993.7 L148.6 993.7 L150.6 993.7 L152.6 993.7 L154.6 993.7 L156.6 993.7 L158.6 993.7 L160.6 993.7 L162.6 993.7 L164.6 993.7 L166.6 993.7 L168.6 993.7 L170.6 993.7 L172.6 993.7 L174.6 993.7 L176.6 993.7 L178.6 993.7 L180.6 993.7 L182.6 993.7 L184.6 993.7 L186.6 993.6 L188.6 993.6 L190.6 993.6 L192.6 993.6 L194.6 993.5 L196.6 993.4 L198.6 993.3 L200.6 993.2 L202.6 993.1 L204.6 992.9 L206.6 992.7 L208.6 992.5 L210.6 992.2 L212.6 991.8 L214.6 991.4 L216.6 990.9 L218.6 990.4 L220.6 989.8 L222.6 989.1 L224.6 988.3 L226.6 987.5 L228.6 986.7 L230.6 985.8 L232.6 984.9 L234.6 984 L236.6 983 L238.6 982.2 L240.6 981.3 L242.6 980.6 L244.6 979.9 L246.6 979.4 L248.6 978.9 L250.6 978.6 L252.6 978.5 L254.6 978.5 L256.6 978.7 L258.6 979 L260.6 979.4 L262.6 980 L264.6 980.6 L266.6 981.4 L268.6 982.3 L270.6 983.1 L272.6 984.1 L274.6 985 L276.6 985.9 L278.6 986.8 L280.6 987.6 L282.6 988.4 L284.6 989.2 L286.6 989.8 L288.6 990.4 L290.6 991 L292.6 991.4 L294.6 991.9 L296.6 992.2 L298.6 992.5 L300.6 992.7 L302.6 993 L304.6 993.1 L306.6 993.3 L308.6 993.4 L310.6 993.4 L312.6 993.5 L314.6 993.6 L316.6 993.6 L318.6 993.6 L320.6 993.6 L322.6 993.7 L324.6 993.7 L326.6 993.7 L328.6 993.7 L330.6 993.7 L332.6 993.7 L334.6 993.7 L336.6 993.7 L338.6 993.7 L340.6 993.7 L342.6 993.7 L344.6 993.7 L346.6 993.7 L348.6 993.7 L350.6 993.7 L352.6 993.7 L354.6 993.7 L356.6 993.7 L358.6 993.7 L360.6 993.7 L362.6 993.7 L364.6 993.7 L366.6 993.7 L368.6 993.7 L370.6 993.7 L372.6 993.7 L373.6 993.7"/>
<path stroke="#878787" stroke-width="1.6" fill="none" d="M82.6 993.7 L84.6 993.7 L86.6 993.7 L88.6 993.7 L90.6 993.7 L92.6 993.7 L94.6 993.7 L96.6 993.7 L98.6 993.7 L100.6 993.7 L102.6 993.7 L104.6 993.7 L106.6 993.7 L108.6 993.7 L110.6 993.7 L112.6 993.7 L114.6 993.7 L116.6 993.7 L118.6 993.7 L120.6 993.7 L122.6 993.7 L124.6 993.7 L126.6 993.7 L128.6 993.7 L130.6 993.7 L132.6 993.7 L134.6 993.7 L136.6 993.7 L138.6 993.7 L140.6 993.7 L142.6 993.7 L144.6 993.7 L146.6 993.7 L148.6 993.7 L150.6 993.7 L152.6 993.7 L154.6 993.7 L156.6 993.7 L158.6 993.7 L160.6 993.7 L162.6 993.7 L164.6 993.7 L166.6 993.7 L168.6 993.7 L170.6 993.7 L172.6 993.7 L174.6 993.7 L176.6 993.7 L178.6 993.7 L180.6 993.7 L182.6 993.7 L184.6 993.7 L186.6 993.7 L188.6 993.7 L190.6 993.7 L192.6 993.7 L194.6 993.6 L196.6 993.6 L198.6 993.6 L200.6 993.5 L202.6 993.5 L204.6 993.4 L206.6 993.3 L208.6 993.2 L210.6 993.1 L212.6 992.9 L214.6 992.7 L216.6 992.4 L218.6 992.1 L220.6 991.8 L222.6 991.4 L224.6 990.9 L226.6 990.4 L228.6 989.8 L230.6 989.1 L232.6 988.4 L234.6 987.7 L236.6 986.9 L238.6 986 L240.6 985.2 L242.6 984.3 L244.6 983.5 L246.6 982.7 L248.6 982 L250.6 981.3 L252.6 980.8 L254.6 980.3 L256.6 980 L258.6 979.8 L260.6 979.7 L262.6 979.8 L264.6 980 L266.6 980.4 L268.6 980.8 L270.6 981.4 L272.6 982.1 L274.6 982.8 L276.6 983.6 L278.6 984.4 L280.6 985.3 L282.6 986.1 L284.6 986.9 L286.6 987.7 L288.6 988.5 L290.6 989.2 L292.6 989.8 L294.6 990.4 L296.6 991 L298.6 991.4 L300.6 991.8 L302.6 992.2 L304.6 992.5 L306.6 992.7 L308.6 992.9 L310.6 993.1 L312.6 993.2 L314.6 993.3 L316.6 993.4 L318.6 993.5 L320.6 993.5 L322.6 993.6 L324.6 993.6 L326.6 993.6 L328.6 993.7 L330.6 993.7 L332.6 993.7 L334.6 993.7 L336.6 993.7 L338.6 993.7 L340.6 993.7 L342.6 993.7 L344.6 993.7 L346.6 993.7 L348.6 993.7 L350.6 993.7 L352.6 993.7 L354.6 993.7 L356.6 993.7 L358.6 993.7 L360.6 993.7 L362.6 993.7 L364.6 993.7 L366.6 993.7 L368.6 993.7 L370.6 993.7 L372.6 993.7 L373.6 993.7"/>
<path stroke="#878787" stroke-width="1.6" fill="none" d="M82.6 993.7 L84.6 993.7 L86.6 993.7 L88.6 993.7 L90.6 993.7 L92.6 993.7 L94.6 993.7 L96.6 993.7 L98.6 993.7 L100.6 993.7 L102.6 993.7 L104.6 993.7 L106.6 993.7 L108.6 993.7 L110.6 993.7 L112.6 993.7 L114.6 993.7 L116.6 993.7 L118.6 993.7 L120.6 993.7 L122.6 993.7 L124.6 993.7 L126.6 993.7 L128.6 993.7 L130.6 993.7 L132.6 993.7 L134.6 993.7 L136.6 993.7 L138.6 993.7 L140.6 993.7 L142.6 993.7 L144.6 993.7 L146.6 993.7 L148.6 993.7 L150.6 993.7 L152.6 993.7 L154.6 993.7 L156.6 993.7 L158.6 993.7 L160.6 993.7 L162.6 993.7 L164.6 993.7 L166.6 993.7 L168.6 993.7 L170.6 993.7 L172.6 993.7 L174.6 993.7 L176.6 993.7 L178.6 993.7 L180.6 993.7 L182.6 993.7 L184.6 993.7 L186.6 993.7 L188.6 993.7 L190.6 993.7 L192.6 993.7 L194.6 993.7 L196.6 993.7 L198.6 993.7 L200.6 993.7 L202.6 993.6 L204.6 993.6 L206.6 993.6 L208.6 993.5 L210.6 993.5 L212.6 993.4 L214.6 993.3 L216.6 993.2 L218.6 993 L220.6 992.8 L222.6 992.6 L224.6 992.4 L226.6 992 L228.6 991.7 L230.6 991.3 L232.6 990.8 L234.6 990.2 L236.6 989.6 L238.6 989 L240.6 988.3 L242.6 987.5 L244.6 986.7 L246.6 985.9 L248.6 985.1 L250.6 984.3 L252.6 983.5 L254.6 982.8 L256.6 982.1 L258.6 981.5 L260.6 981 L262.6 980.7 L264.6 980.4 L266.6 980.3 L268.6 980.3 L270.6 980.4 L272.6 980.7 L274.6 981.1 L276.6 981.6 L278.6 982.2 L280.6 982.9 L282.6 983.6 L284.6 984.4 L286.6 985.2 L288.6 986 L290.6 986.8 L292.6 987.6 L294.6 988.3 L296.6 989 L298.6 989.7 L300.6 990.3 L302.6 990.8 L304.6 991.3 L306.6 991.7 L308.6 992.1 L310.6 992.4 L312.6 992.6 L314.6 992.9 L316.6 993 L318.6 993.2 L320.6 993.3 L322.6 993.4 L324.6 993.5 L326.6 993.5 L328.6 993.6 L330.6 993.6 L332.6 993.6 L334.6 993.7 L336.6 993.7 L338.6 993.7 L340.6 993.7 L342.6 993.7 L344.6 993.7 L346.6 993.7 L348.6 993.7 L350.6 993.7 L352.6 993.7 L354.6 993.7 L356.6 993.7 L358.6 993.7 L360.6 993.7 L362.6 993.7 L364.6 993.7 L366.6 993.7 L368.6 993.7 L370.6 993.7 L372.6 993.7 L373.6 993.7"/>
<path stroke="#878787" stroke-width="1.6" fill="none" d="M82.6 993.7 L84.6 993.7 L86.6 993.7 L88.6 993.7 L90.6 993.7 L92.6 993.7 L94.6 993.7 L96.6 993.7 L98.6 993.7 L100.6 993.7 L102.6 993.7 L104.6 993.7 L106.6 993.7 L108.6 993.7 L110.6 993.7 L112.6 993.7 L114.6 993.7 L116.6 993.7 L118.6 993.7 L120.6 993.7 L122.6 993.7 L124.6 993.7 L126.6 993.7 L128.6 993.7 L130.6 993.7 L132.6 993.7 L134.6 993.7 L136.6 993.7 L138.6 993.7 L140.6 993.7 L142.6 993.7 L144.6 993.7 L146.6 993.7 L148.6 993.7 L150.6 993.7 L152.6 993.7 L154.6 993.7 L156.6 993.7 L158.6 993.7 L160.6 993.7 L162.6 993.7 L164.6 993.7 L166.6 993.7 L168.6 993.7 L170.6 993.7 L172.6 993.7 L174.6 993.7 L176.6 993.7 L178.6 993.7 L180.6 993.7 L182.6 993.7 L184.6 993.7 L186.6 993.7 L188.6 993.7 L190.6 993.7 L192.6 993.7 L194.6 993.7 L196.6 993.7 L198.6 993.7 L200.6 993.7 L202.6 993.7 L204.6 993.7 L206.6 993.7 L208.6 993.6 L210.6 993.6 L212.6 993.6 L214.6 993.6 L216.6 993.5 L218.6 993.4 L220.6 993.4 L222.6 993.3 L224.6 993.1 L226.6 993 L228.6 992.8 L230.6 992.5 L232.6 992.3 L234.6 991.9 L236.6 991.6 L238.6 991.1 L240.6 990.6 L242.6 990.1 L244.6 989.5 L246.6 988.8 L248.6 988.1 L250.6 987.4 L252.6 986.6 L254.6 985.8 L256.6 985 L258.6 984.3 L260.6 983.6 L262.6 982.9 L264.6 982.3 L266.6 981.8 L268.6 981.3 L270.6 981 L272.6 980.8 L274.6 980.8 L276.6 980.9 L278.6 981.1 L280.6 981.4 L282.6 981.8 L284.6 982.3 L286.6 982.9 L288.6 983.6 L290.6 984.4 L292.6 985.1 L294.6 985.9 L296.6 986.7 L298.6 987.5 L300.6 988.2 L302.6 988.9 L304.6 989.5 L306.6 990.1 L308.6 990.7 L310.6 991.2 L312.6 991.6 L314.6 992 L316.6 992.3 L318.6 992.6 L320.6 992.8 L322.6 993 L324.6 993.1 L326.6 993.3 L328.6 993.4 L330.6 993.4 L332.6 993.5 L334.6 993.6 L336.6 993.6 L338.6 993.6 L340.6 993.6 L342.6 993.7 L344.6 993.7 L346.6 993.7 L348.6 993.7 L350.6 993.7 L352.6 993.7 L354.6 993.7 L356.6 993.7 L358.6 993.7 L360.6 993.7 L362.6 993.7 L364.6 993.7 L366.6 993.7 L368.6 993.7 L370.6 993.7 L372.6 993.7 L373.6 993.7"/>
<path stroke="#878787" stroke-width="1.6" fill="none" d="M82.6 993.7 L84.6 993.7 L86.6 993.7 L88.6 993.7 L90.6 993.7 L92.6 993.7 L94.6 993.7 L96.6 993.7 L98.6 993.7 L100.6 993.7 L102.6 993.7 L104.6 993.7 L106.6 993.7 L108.6 993.7 L110.6 993.7 L112.6 993.7 L114.6 993.7 L116.6 993.7 L118.6 993.7 L120.6 993.7 L122.6 993.7 L124.6 993.7 L126.6 993.7 L128.6 993.7 L130.6 993.7 L132.6 993.7 L134.6 993.7 L136.6 993.7 L138.6 993.7 L140.6 993.7 L142.6 993.7 L144.6 993.7 L146.6 993.7 L148.6 993.7 L150.6 993.7 L152.6 993.7 L154.6 993.7 L156.6 993.7 L158.6 993.7 L160.6 993.7 L162.6 993.7 L164.6 993.7 L166.6 993.7 L168.6 993.7 L170.6 993.7 L172.6 993.7 L174.6 993.7 L176.6 993.7 L178.6 993.7 L180.6 993.7 L182.6 993.7 L184.6 993.7 L186.6 993.7 L188.6 993.7 L190.6 993.7 L192.6 993.7 L194.6 993.7 L196.6 993.7 L198.6 993.7 L200.6 993.7 L202.6 993.7 L204.6 993.7 L206.6 993.7 L208.6 993.7 L210.6 993.7 L212.6 993.7 L214.6 993.7 L216.6 993.6 L218.6 993.6 L220.6 993.6 L222.6 993.5 L224.6 993.5 L226.6 993.4 L228.6 993.3 L230.6 993.2 L232.6 993.1 L234.6 992.9 L236.6 992.7 L238.6 992.4 L240.6 992.1 L242.6 991.8 L244.6 991.4 L246.6 990.9 L248.6 990.4 L250.6 989.9 L252.6 989.3 L254.6 988.6 L256.6 987.9 L258.6 987.1 L260.6 986.4 L262.6 985.6 L264.6 984.9 L266.6 984.1 L268.6 983.4 L270.6 982.8 L272.6 982.3 L274.6 981.8 L276.6 981.4 L278.6 981.2 L280.6 981.1 L282.6 981.1 L284.6 981.2 L286.6 981.5 L288.6 981.8 L290.6 982.3 L292.6 982.9 L294.6 983.5 L296.6 984.2 L298.6 984.9 L300.6 985.7 L302.6 986.5 L304.6 987.2 L306.6 988 L308.6 988.7 L310.6 989.3 L312.6 989.9 L314.6 990.5 L316.6 991 L318.6 991.4 L320.6 991.8 L322.6 992.2 L324.6 992.5 L326.6 992.7 L328.6 992.9 L330.6 993.1 L332.6 993.2 L334.6 993.3 L336.6 993.4 L338.6 993.5 L340.6 993.5 L342.6 993.6 L344.6 993.6 L346.6 993.6 L348.6 993.7 L350.6 993.7 L352.6 993.7 L354.6 993.7 L356.6 993.7 L358.6 993.7 L360.6 993.7 L362.6 993.7 L364.6 993.7 L366.6 993.7 L368.6 993.7 L370.6 993.7 L372.6 993.7 L373.6 993.7"/>
<path stroke="#878787" stroke-width="1.6" fill="none" d="M82.6 993.7 L84.6 993.7 L86.6 993.7 L88.6 993.7 L90.6 993.7 L92.6 993.7 L94.6 993.7 L96.6 993.7 L98.6 993.7 L100.6 993.7 L102.6 993.7 L104.6 993.7 L106.6 993.7 L108.6 993.7 L110.6 993.7 L112.6 993.7 L114.6 993.7 L116.6 993.7 L118.6 993.7 L120.6 993.7 L122.6 993.7 L124.6 993.7 L126.6 993.7 L128.6 993.7 L130.6 993.7 L132.6 993.7 L134.6 993.7 L136.6 993.7 L138.6 993.7 L140.6 993.7 L142.6 993.7 L144.6 993.7 L146.6 993.7 L148.6 993.7 L150.6 993.7 L152.6 993.7 L154.6 993.7 L156.6 993.7 L158.6 993.7 L160.6 993.7 L162.6 993.7 L164.6 993.7 L166.6 993.7 L168.6 993.7 L170.6 993.7 L172.6 993.7 L174.6 993.7 L176.6 993.7 L178.6 993.7 L180.6 993.7 L182.6 993.7 L184.6 993.7 L186.6 993.7 L188.6 993.7 L190.6 993.7 L192.6 993.7 L194.6 993.7 L196.6 993.7 L198.6 993.7 L200.6 993.7 L202.6 993.7 L204.6 993.7 L206.6 993.7 L208.6 993.7 L210.6 993.7 L212.6 993.7 L214.6 993.7 L216.6 993.7 L218.6 993.7 L220.6 993.7 L222.6 993.6 L224.6 993.6 L226.6 993.6 L228.6 993.6 L230.6 993.5 L232.6 993.4 L234.6 993.4 L236.6 993.2 L238.6 993.1 L240.6 992.9 L242.6 992.8 L244.6 992.5 L246.6 992.2 L248.6 991.9 L250.6 991.5 L252.6 991.1 L254.6 990.6 L256.6 990 L258.6 989.4 L260.6 988.7 L262.6 988 L264.6 987.2 L266.6 986.4 L268.6 985.6 L270.6 984.9 L272.6 984.1 L274.6 983.3 L276.6 982.6 L278.6 982 L280.6 981.5 L282.6 981.1 L284.6 980.7 L286.6 980.6 L288.6 980.5 L290.6 980.6 L292.6 980.8 L294.6 981.1 L296.6 981.5 L298.6 982.1 L300.6 982.7 L302.6 983.4 L304.6 984.1 L306.6 984.9 L308.6 985.7 L310.6 986.5 L312.6 987.3 L314.6 988.1 L316.6 988.8 L318.6 989.4 L320.6 990.1 L322.6 990.6 L324.6 991.1 L326.6 991.5 L328.6 991.9 L330.6 992.3 L332.6 992.5 L334.6 992.8 L336.6 993 L338.6 993.1 L340.6 993.3 L342.6 993.4 L344.6 993.4 L346.6 993.5 L348.6 993.6 L350.6 993.6 L352.6 993.6 L354.6 993.6 L356.6 993.7 L358.6 993.7 L360.6 993.7 L362.6 993.7 L364.6 993.7 L366.6 993.7 L368.6 993.7 L370.6 993.7 L372.6 993.7 L373.6 993.7"/>
<path stroke="#878787" stroke-width="1.6" fill="none" d="M82.6 993.7 L84.6 993.7 L86.6 993.7 L88.6 993.7 L90.6 993.7 L92.6 993.7 L94.6 993.7 L96.6 993.7 L98.6 993.7 L100.6 993.7 L102.6 993.7 L104.6 993.7 L106.6 993.7 L108.6 993.7 L110.6 993.7 L112.6 993.7 L114.6 993.7 L116.6 993.7 L118.6 993.7 L120.6 993.7 L122.6 993.7 L124.6 993.7 L126.6 993.7 L128.6 993.7 L130.6 993.7 L132.6 993.7 L134.6 993.7 L136.6 993.7 L138.6 993.7 L140.6 993.7 L142.6 993.7 L144.6 993.7 L146.6 993.7 L148.6 993.7 L150.6 993.7 L152.6 993.7 L154.6 993.7 L156.6 993.7 L158.6 993.7 L160.6 993.7 L162.6 993.7 L164.6 993.7 L166.6 993.7 L168.6 993.7 L170.6 993.7 L172.6 993.7 L174.6 993.7 L176.6 993.7 L178.6 993.7 L180.6 993.7 L182.6 993.7 L184.6 993.7 L186.6 993.7 L188.6 993.7 L190.6 993.7 L192.6 993.7 L194.6 993.7 L196.6 993.7 L198.6 993.7 L200.6 993.7 L202.6 993.7 L204.6 993.7 L206.6 993.7 L208.6 993.7 L210.6 993.7 L212.6 993.7 L214.6 993.7 L216.6 993.7 L218.6 993.7 L220.6 993.7 L222.6 993.7 L224.6 993.7 L226.6 993.7 L228.6 993.6 L230.6 993.6 L232.6 993.6 L234.6 993.6 L236.6 993.5 L238.6 993.5 L240.6 993.4 L242.6 993.3 L244.6 993.2 L246.6 993 L248.6 992.8 L250.6 992.6 L252.6 992.3 L254.6 992 L256.6 991.6 L258.6 991.2 L260.6 990.7 L262.6 990.1 L264.6 989.5 L266.6 988.8 L268.6 988.1 L270.6 987.3 L272.6 986.5 L274.6 985.7 L276.6 984.9 L278.6 984 L280.6 983.3 L282.6 982.5 L284.6 981.8 L286.6 981.2 L288.6 980.7 L290.6 980.3 L292.6 980.1 L294.6 979.9 L296.6 979.9 L298.6 980.1 L300.6 980.3 L302.6 980.8 L304.6 981.3 L306.6 981.9 L308.6 982.6 L310.6 983.3 L312.6 984.1 L314.6 985 L316.6 985.8 L318.6 986.6 L320.6 987.4 L322.6 988.2 L324.6 988.9 L326.6 989.6 L328.6 990.2 L330.6 990.7 L332.6 991.2 L334.6 991.7 L336.6 992 L338.6 992.3 L340.6 992.6 L342.6 992.8 L344.6 993 L346.6 993.2 L348.6 993.3 L350.6 993.4 L352.6 993.5 L354.6 993.5 L356.6 993.6 L358.6 993.6 L360.6 993.6 L362.6 993.7 L364.6 993.7 L366.6 993.7 L368.6 993.7 L370.6 993.7 L372.6 993.7 L373.6 993.7"/>
<path stroke="#878787" stroke-width="1.6" fill="none" d="M82.6 993.7 L84.6 993.7 L86.6 993.7 L88.6 993.7 L90.6 993.7 L92.6 993.7 L94.6 993.7 L96.6 993.7 L98.6 993.7 L100.6 993.7 L102.6 993.7 L104.6 993.7 L106.6 993.7 L108.6 993.7 L110.6 993.7 L112.6 993.7 L114.6 993.7 L116.6 993.7 L118.6 993.7 L120.6 993.7 L122.6 993.7 L124.6 993.7 L126.6 993.7 L128.6 993.7 L130.6 993.7 L132.6 993.7 L134.6 993.7 L136.6 993.7 L138.6 993.7 L140.6 993.7 L142.6 993.7 L144.6 993.7 L146.6 993.7 L148.6 993.7 L150.6 993.7 L152.6 993.7 L154.6 993.7 L156.6 993.7 L158.6 993.7 L160.6 993.7 L162.6 993.7 L164.6 993.7 L166.6 993.7 L168.6 993.7 L170.6 993.7 L172.6 993.7 L174.6 993.7 L176.6 993.7 L178.6 993.7 L180.6 993.7 L182.6 993.7 L184.6 993.7 L186.6 993.7 L188.6 993.7 L190.6 993.7 L192.6 993.7 L194.6 993.7 L196.6 993.7 L198.6 993.7 L200.6 993.7 L202.6 993.7 L204.6 993.7 L206.6 993.7 L208.6 993.7 L210.6 993.7 L212.6 993.7 L214.6 993.7 L216.6 993.7 L218.6 993.7 L220.6 993.7 L222.6 993.7 L224.6 993.7 L226.6 993.7 L228.6 993.7 L230.6 993.7 L232.6 993.7 L234.6 993.7 L236.6 993.6 L238.6 993.6 L240.6 993.6 L242.6 993.5 L244.6 993.5 L246.6 993.4 L248.6 993.3 L250.6 993.2 L252.6 993 L254.6 992.8 L256.6 992.6 L258.6 992.3 L260.6 991.9 L262.6 991.5 L264.6 991.1 L266.6 990.5 L268.6 989.9 L270.6 989.3 L272.6 988.5 L274.6 987.7 L276.6 986.9 L278.6 986 L280.6 985 L282.6 984.1 L284.6 983.1 L286.6 982.2 L288.6 981.3 L290.6 980.5 L292.6 979.7 L294.6 979.1 L296.6 978.6 L298.6 978.2 L300.6 978 L302.6 977.9 L304.6 978 L306.6 978.2 L308.6 978.6 L310.6 979.1 L312.6 979.8 L314.6 980.5 L316.6 981.4 L318.6 982.3 L320.6 983.2 L322.6 984.2 L324.6 985.1 L326.6 986.1 L328.6 987 L330.6 987.8 L332.6 988.6 L334.6 989.3 L336.6 990 L338.6 990.6 L340.6 991.1 L342.6 991.6 L344.6 992 L346.6 992.3 L348.6 992.6 L350.6 992.8 L352.6 993 L354.6 993.2 L356.6 993.3 L358.6 993.4 L360.6 993.5 L362.6 993.5 L364.6 993.6 L366.6 993.6 L368.6 993.6 L370.6 993.7 L372.6 993.7 L373.6 993.7"/>
<path stroke="#878787" stroke-width="1.6" fill="none" d="M82.6 993.7 L84.6 993.7 L86.6 993.7 L88.6 993.7 L90.6 993.7 L92.6 993.7 L94.6 993.7 L96.6 993.7 L98.6 993.7 L100.6 993.7 L102.6 993.7 L104.6 993.7 L106.6 993.7 L108.6 993.7 L110.6 993.7 L112.6 993.7 L114.6 993.7 L116.6 993.7 L118.6 993.7 L120.6 993.7 L122.6 993.7 L124.6 993.7 L126.6 993.7 L128.6 993.7 L130.6 993.7 L132.6 993.7 L134.6 993.7 L136.6 993.7 L138.6 993.7 L140.6 993.7 L142.6 993.7 L144.6 993.7 L146.6 993.7 L148.6 993.7 L150.6 993.7 L152.6 993.7 L154.6 993.7 L156.6 993.7 L158.6 993.7 L160.6 993.7 L162.6 993.7 L164.6 993.7 L166.6 993.7 L168.6 993.7 L170.6 993.7 L172.6 993.7 L174.6 993.7 L176.6 993.7 L178.6 993.7 L180.6 993.7 L182.6 993.7 L184.6 993.7 L186.6 993.7 L188.6 993.7 L190.6 993.7 L192.6 993.7 L194.6 993.7 L196.6 993.7 L198.6 993.7 L200.6 993.7 L202.6 993.7 L204.6 993.7 L206.6 993.7 L208.6 993.7 L210.6 993.7 L212.6 993.7 L214.6 993.7 L216.6 993.7 L218.6 993.7 L220.6 993.7 L222.6 993.7 L224.6 993.7 L226.6 993.7 L228.6 993.7 L230.6 993.7 L232.6 993.7 L234.6 993.7 L236.6 993.7 L238.6 993.7 L240.6 993.7 L242.6 993.7 L244.6 993.7 L246.6 993.7 L248.6 993.6 L250.6 993.6 L252.6 993.6 L254.6 993.5 L256.6 993.4 L258.6 993.4 L260.6 993.2 L262.6 993.1 L264.6 992.9 L266.6 992.6 L268.6 992.3 L270.6 991.9 L272.6 991.4 L274.6 990.8 L276.6 990.1 L278.6 989.4 L280.6 988.5 L282.6 987.5 L284.6 986.4 L286.6 985.3 L288.6 984.1 L290.6 982.8 L292.6 981.5 L294.6 980.3 L296.6 979.1 L298.6 978 L300.6 977 L302.6 976.1 L304.6 975.5 L306.6 975 L308.6 974.8 L310.6 974.8 L312.6 975.1 L314.6 975.5 L316.6 976.2 L318.6 977.1 L320.6 978.1 L322.6 979.2 L324.6 980.4 L326.6 981.7 L328.6 982.9 L330.6 984.2 L332.6 985.4 L334.6 986.6 L336.6 987.6 L338.6 988.6 L340.6 989.5 L342.6 990.2 L344.6 990.9 L346.6 991.4 L348.6 991.9 L350.6 992.3 L352.6 992.6 L354.6 992.9 L356.6 993.1 L358.6 993.2 L360.6 993.4 L362.6 993.5 L364.6 993.5 L366.6 993.6 L368.6 993.6 L370.6 993.6 L372.6 993.7 L373.6 993.7"/>
<path stroke="#878787" stroke-width="1.6" fill="none" d="M82.6 993.7 L84.6 993.7 L86.6 993.7 L88.6 993.7 L90.6 993.7 L92.6 993.7 L94.6 993.7 L96.6 993.7 L98.6 993.7 L100.6 993.7 L102.6 993.7 L104.6 993.7 L106.6 993.7 L108.6 993.7 L110.6 993.7 L112.6 993.7 L114.6 993.7 L116.6 993.7 L118.6 993.7 L120.6 993.7 L122.6 993.7 L124.6 993.7 L126.6 993.7 L128.6 993.7 L130.6 993.7 L132.6 993.7 L134.6 993.7 L136.6 993.7 L138.6 993.7 L140.6 993.7 L142.6 993.7 L144.6 993.7 L146.6 993.7 L148.6 993.7 L150.6 993.7 L152.6 993.7 L154.6 993.7 L156.6 993.7 L158.6 993.7 L160.6 993.7 L162.6 993.7 L164.6 993.7 L166.6 993.7 L168.6 993.7 L170.6 993.7 L172.6 993.7 L174.6 993.7 L176.6 993.7 L178.6 993.7 L180.6 993.7 L182.6 993.7 L184.6 993.7 L186.6 993.7 L188.6 993.7 L190.6 993.7 L192.6 993.7 L194.6 993.7 L196.6 993.7 L198.6 993.7 L200.6 993.7 L202.6 993.7 L204.6 993.7 L206.6 993.7 L208.6 993.7 L210.6 993.7 L212.6 993.7 L214.6 993.7 L216.6 993.7 L218.6 993.7 L220.6 993.7 L222.6 993.7 L224.6 993.7 L226.6 993.7 L228.6 993.7 L230.6 993.7 L232.6 993.7 L234.6 993.7 L236.6 993.7 L238.6 993.7 L240.6 993.7 L242.6 993.7 L244.6 993.7 L246.6 993.7 L248.6 993.7 L250.6 993.7 L252.6 993.7 L254.6 993.7 L256.6 993.6 L258.6 993.6 L260.6 993.6 L262.6 993.5 L264.6 993.4 L266.6 993.3 L268.6 993.2 L270.6 993 L272.6 992.8 L274.6 992.5 L276.6 992.1 L278.6 991.6 L280.6 991.1 L282.6 990.4 L284.6 989.6 L286.6 988.7 L288.6 987.6 L290.6 986.4 L292.6 985.1 L294.6 983.7 L296.6 982.2 L298.6 980.6 L300.6 979 L302.6 977.4 L304.6 975.8 L306.6 974.3 L308.6 973 L310.6 971.8 L312.6 970.8 L314.6 970.1 L316.6 969.7 L318.6 969.6 L320.6 969.8 L322.6 970.2 L324.6 970.9 L326.6 971.9 L328.6 973.1 L330.6 974.5 L332.6 976 L334.6 977.5 L336.6 979.2 L338.6 980.8 L340.6 982.4 L342.6 983.9 L344.6 985.3 L346.6 986.6 L348.6 987.7 L350.6 988.8 L352.6 989.7 L354.6 990.5 L356.6 991.1 L358.6 991.7 L360.6 992.1 L362.6 992.5 L364.6 992.8 L366.6 993 L368.6 993.2 L370.6 993.3 L372.6 993.4 L373.6 993.5"/>
<path stroke="#878787" stroke-width="1.6" fill="none" d="M82.6 993.7 L84.6 993.7 L86.6 993.7 L88.6 993.7 L90.6 993.7 L92.6 993.7 L94.6 993.7 L96.6 993.7 L98.6 993.7 L100.6 993.7 L102.6 993.7 L104.6 993.7 L106.6 993.7 L108.6 993.7 L110.6 993.7 L112.6 993.7 L114.6 993.7 L116.6 993.7 L118.6 993.7 L120.6 993.7 L122.6 993.7 L124.6 993.7 L126.6 993.7 L128.6 993.7 L130.6 993.7 L132.6 993.7 L134.6 993.7 L136.6 993.7 L138.6 993.7 L140.6 993.7 L142.6 993.7 L144.6 993.7 L146.6 993.7 L148.6 993.7 L150.6 993.7 L152.6 993.7 L154.6 993.7 L156.6 993.7 L158.6 993.7 L160.6 993.7 L162.6 993.7 L164.6 993.7 L166.6 993.7 L168.6 993.7 L170.6 993.7 L172.6 993.7 L174.6 993.7 L176.6 993.7 L178.6 993.7 L180.6 993.7 L182.6 993.7 L184.6 993.7 L186.6 993.7 L188.6 993.7 L190.6 993.7 L192.6 993.7 L194.6 993.7 L196.6 993.7 L198.6 993.7 L200.6 993.7 L202.6 993.7 L204.6 993.7 L206.6 993.7 L208.6 993.7 L210.6 993.7 L212.6 993.7 L214.6 993.7 L216.6 993.7 L218.6 993.7 L220.6 993.7 L222.6 993.7 L224.6 993.7 L226.6 993.7 L228.6 993.7 L230.6 993.7 L232.6 993.7 L234.6 993.7 L236.6 993.7 L238.6 993.7 L240.6 993.7 L242.6 993.7 L244.6 993.7 L246.6 993.7 L248.6 993.7 L250.6 993.7 L252.6 993.7 L254.6 993.7 L256.6 993.7 L258.6 993.7 L260.6 993.7 L262.6 993.7 L264.6 993.6 L266.6 993.6 L268.6 993.6 L270.6 993.5 L272.6 993.5 L274.6 993.4 L276.6 993.2 L278.6 993.1 L280.6 992.8 L282.6 992.5 L284.6 992.2 L286.6 991.7 L288.6 991.2 L290.6 990.5 L292.6 989.7 L294.6 988.8 L296.6 987.8 L298.6 986.6 L300.6 985.2 L302.6 983.7 L304.6 982.2 L306.6 980.5 L308.6 978.8 L310.6 977 L312.6 975.3 L314.6 973.6 L316.6 972.1 L318.6 970.7 L320.6 969.6 L322.6 968.7 L324.6 968.1 L326.6 967.8 L328.6 967.8 L330.6 968.1 L332.6 968.8 L334.6 969.7 L336.6 970.9 L338.6 972.2 L340.6 973.8 L342.6 975.5 L344.6 977.2 L346.6 978.9 L348.6 980.6 L350.6 982.3 L352.6 983.9 L354.6 985.3 L356.6 986.7 L358.6 987.9 L360.6 988.9 L362.6 989.8 L364.6 990.6 L366.6 991.2 L368.6 991.8 L370.6 992.2 L372.6 992.6 L373.6 992.7"/>
<path stroke="#878787" stroke-width="1.6" fill="none" d="M82.6 993.7 L84.6 993.7 L86.6 993.7 L88.6 993.7 L90.6 993.7 L92.6 993.7 L94.6 993.7 L96.6 993.7 L98.6 993.7 L100.6 993.7 L102.6 993.7 L104.6 993.7 L106.6 993.7 L108.6 993.7 L110.6 993.7 L112.6 993.7 L114.6 993.7 L116.6 993.7 L118.6 993.7 L120.6 993.7 L122.6 993.7 L124.6 993.7 L126.6 993.7 L128.6 993.7 L130.6 993.7 L132.6 993.7 L134.6 993.7 L136.6 993.7 L138.6 993.7 L140.6 993.7 L142.6 993.7 L144.6 993.7 L146.6 993.7 L148.6 993.7 L150.6 993.7 L152.6 993.7 L154.6 993.7 L156.6 993.7 L158.6 993.7 L160.6 993.7 L162.6 993.7 L164.6 993.7 L166.6 993.7 L168.6 993.7 L170.6 993.7 L172.6 993.7 L174.6 993.7 L176.6 993.7 L178.6 993.7 L180.6 993.7 L182.6 993.7 L184.6 993.7 L186.6 993.7 L188.6 993.7 L190.6 993.7 L192.6 993.7 L194.6 993.7 L196.6 993.7 L198.6 993.7 L200.6 993.7 L202.6 993.7 L204.6 993.7 L206.6 993.7 L208.6 993.7 L210.6 993.7 L212.6 993.7 L214.6 993.7 L216.6 993.7 L218.6 993.7 L220.6 993.7 L222.6 993.7 L224.6 993.7 L226.6 993.7 L228.6 993.7 L230.6 993.7 L232.6 993.7 L234.6 993.7 L236.6 993.7 L238.6 993.7 L240.6 993.7 L242.6 993.7 L244.6 993.7 L246.6 993.7 L248.6 993.7 L250.6 993.7 L252.6 993.7 L254.6 993.7 L256.6 993.7 L258.6 993.7 L260.6 993.7 L262.6 993.7 L264.6 993.7 L266.6 993.7 L268.6 993.7 L270.6 993.7 L272.6 993.7 L274.6 993.6 L276.6 993.6 L278.6 993.6 L280.6 993.5 L282.6 993.4 L284.6 993.3 L286.6 993.2 L288.6 993 L290.6 992.7 L292.6 992.4 L294.6 992.1 L296.6 991.6 L298.6 991 L300.6 990.3 L302.6 989.5 L304.6 988.6 L306.6 987.5 L308.6 986.3 L310.6 984.9 L312.6 983.4 L314.6 981.9 L316.6 980.3 L318.6 978.6 L320.6 976.9 L322.6 975.3 L324.6 973.8 L326.6 972.4 L328.6 971.2 L330.6 970.2 L332.6 969.5 L334.6 969.1 L336.6 969 L338.6 969.1 L340.6 969.6 L342.6 970.3 L344.6 971.3 L346.6 972.6 L348.6 974 L350.6 975.5 L352.6 977.1 L354.6 978.8 L356.6 980.4 L358.6 982.1 L360.6 983.6 L362.6 985 L364.6 986.4 L366.6 987.6 L368.6 988.7 L370.6 989.6 L372.6 990.4 L373.6 990.7"/>
<path stroke="#878787" stroke-width="1.6" fill="none" d="M82.6 993.7 L84.6 993.7 L86.6 993.7 L88.6 993.7 L90.6 993.7 L92.6 993.7 L94.6 993.7 L96.6 993.7 L98.6 993.7 L100.6 993.7 L102.6 993.7 L104.6 993.7 L106.6 993.7 L108.6 993.7 L110.6 993.7 L112.6 993.7 L114.6 993.7 L116.6 993.7 L118.6 993.7 L120.6 993.7 L122.6 993.7 L124.6 993.7 L126.6 993.7 L128.6 993.7 L130.6 993.7 L132.6 993.7 L134.6 993.7 L136.6 993.7 L138.6 993.7 L140.6 993.7 L142.6 993.7 L144.6 993.7 L146.6 993.7 L148.6 993.7 L150.6 993.7 L152.6 993.7 L154.6 993.7 L156.6 993.7 L158.6 993.7 L160.6 993.7 L162.6 993.7 L164.6 993.7 L166.6 993.7 L168.6 993.7 L170.6 993.7 L172.6 993.7 L174.6 993.7 L176.6 993.7 L178.6 993.7 L180.6 993.7 L182.6 993.7 L184.6 993.7 L186.6 993.7 L188.6 993.7 L190.6 993.7 L192.6 993.7 L194.6 993.7 L196.6 993.7 L198.6 993.7 L200.6 993.7 L202.6 993.7 L204.6 993.7 L206.6 993.7 L208.6 993.7 L210.6 993.7 L212.6 993.7 L214.6 993.7 L216.6 993.7 L218.6 993.7 L220.6 993.7 L222.6 993.7 L224.6 993.7 L226.6 993.7 L228.6 993.7 L230.6 993.7 L232.6 993.7 L234.6 993.7 L236.6 993.7 L238.6 993.7 L240.6 993.7 L242.6 993.7 L244.6 993.7 L246.6 993.7 L248.6 993.7 L250.6 993.7 L252.6 993.7 L254.6 993.7 L256.6 993.7 L258.6 993.7 L260.6 993.7 L262.6 993.7 L264.6 993.7 L266.6 993.7 L268.6 993.7 L270.6 993.7 L272.6 993.7 L274.6 993.7 L276.6 993.7 L278.6 993.7 L280.6 993.7 L282.6 993.7 L284.6 993.6 L286.6 993.6 L288.6 993.6 L290.6 993.5 L292.6 993.4 L294.6 993.3 L296.6 993.2 L298.6 993 L300.6 992.8 L302.6 992.5 L304.6 992.2 L306.6 991.7 L308.6 991.2 L310.6 990.6 L312.6 989.9 L314.6 989.1 L316.6 988.1 L318.6 987.1 L320.6 985.9 L322.6 984.7 L324.6 983.4 L326.6 982 L328.6 980.7 L330.6 979.3 L332.6 978 L334.6 976.8 L336.6 975.8 L338.6 974.9 L340.6 974.2 L342.6 973.7 L344.6 973.5 L346.6 973.5 L348.6 973.7 L350.6 974.2 L352.6 975 L354.6 975.9 L356.6 977 L358.6 978.2 L360.6 979.5 L362.6 980.8 L364.6 982.2 L366.6 983.5 L368.6 984.8 L370.6 986 L372.6 987.2 L373.6 987.7"/>
<path stroke="#878787" stroke-width="1.6" fill="none" d="M82.6 993.7 L84.6 993.7 L86.6 993.7 L88.6 993.7 L90.6 993.7 L92.6 993.7 L94.6 993.7 L96.6 993.7 L98.6 993.7 L100.6 993.7 L102.6 993.7 L104.6 993.7 L106.6 993.7 L108.6 993.7 L110.6 993.7 L112.6 993.7 L114.6 993.7 L116.6 993.7 L118.6 993.7 L120.6 993.7 L122.6 993.7 L124.6 993.7 L126.6 993.7 L128.6 993.7 L130.6 993.7 L132.6 993.7 L134.6 993.7 L136.6 993.7 L138.6 993.7 L140.6 993.7 L142.6 993.7 L144.6 993.7 L146.6 993.7 L148.6 993.7 L150.6 993.7 L152.6 993.7 L154.6 993.7 L156.6 993.7 L158.6 993.7 L160.6 993.7 L162.6 993.7 L164.6 993.7 L166.6 993.7 L168.6 993.7 L170.6 993.7 L172.6 993.7 L174.6 993.7 L176.6 993.7 L178.6 993.7 L180.6 993.7 L182.6 993.7 L184.6 993.7 L186.6 993.7 L188.6 993.7 L190.6 993.7 L192.6 993.7 L194.6 993.7 L196.6 993.7 L198.6 993.7 L200.6 993.7 L202.6 993.7 L204.6 993.7 L206.6 993.7 L208.6 993.7 L210.6 993.7 L212.6 993.7 L214.6 993.7 L216.6 993.7 L218.6 993.7 L220.6 993.7 L222.6 993.7 L224.6 993.7 L226.6 993.7 L228.6 993.7 L230.6 993.7 L232.6 993.7 L234.6 993.7 L236.6 993.7 L238.6 993.7 L240.6 993.7 L242.6 993.7 L244.6 993.7 L246.6 993.7 L248.6 993.7 L250.6 993.7 L252.6 993.7 L254.6 993.7 L256.6 993.7 L258.6 993.7 L260.6 993.7 L262.6 993.7 L264.6 993.7 L266.6 993.7 L268.6 993.7 L270.6 993.7 L272.6 993.7 L274.6 993.7 L276.6 993.7 L278.6 993.7 L280.6 993.7 L282.6 993.7 L284.6 993.7 L286.6 993.7 L288.6 993.7 L290.6 993.7 L292.6 993.7 L294.6 993.6 L296.6 993.6 L298.6 993.6 L300.6 993.5 L302.6 993.4 L304.6 993.3 L306.6 993.2 L308.6 993 L310.6 992.8 L312.6 992.6 L314.6 992.2 L316.6 991.9 L318.6 991.4 L320.6 990.8 L322.6 990.2 L324.6 989.4 L326.6 988.6 L328.6 987.7 L330.6 986.7 L332.6 985.6 L334.6 984.5 L336.6 983.4 L338.6 982.2 L340.6 981.1 L342.6 980.1 L344.6 979.1 L346.6 978.3 L348.6 977.6 L350.6 977.1 L352.6 976.8 L354.6 976.7 L356.6 976.9 L358.6 977.2 L360.6 977.7 L362.6 978.4 L364.6 979.2 L366.6 980.2 L368.6 981.2 L370.6 982.3 L372.6 983.5 L373.6 984"/>
<path stroke="#878787" stroke-width="1.6" fill="none" d="M82.6 993.7 L84.6 993.7 L86.6 993.7 L88.6 993.7 L90.6 993.7 L92.6 993.7 L94.6 993.7 L96.6 993.7 L98.6 993.7 L100.6 993.7 L102.6 993.7 L104.6 993.7 L106.6 993.7 L108.6 993.7 L110.6 993.7 L112.6 993.7 L114.6 993.7 L116.6 993.7 L118.6 993.7 L120.6 993.7 L122.6 993.7 L124.6 993.7 L126.6 993.7 L128.6 993.7 L130.6 993.7 L132.6 993.7 L134.6 993.7 L136.6 993.7 L138.6 993.7 L140.6 993.7 L142.6 993.7 L144.6 993.7 L146.6 993.7 L148.6 993.7 L150.6 993.7 L152.6 993.7 L154.6 993.7 L156.6 993.7 L158.6 993.7 L160.6 993.7 L162.6 993.7 L164.6 993.7 L166.6 993.7 L168.6 993.7 L170.6 993.7 L172.6 993.7 L174.6 993.7 L176.6 993.7 L178.6 993.7 L180.6 993.7 L182.6 993.7 L184.6 993.7 L186.6 993.7 L188.6 993.7 L190.6 993.7 L192.6 993.7 L194.6 993.7 L196.6 993.7 L198.6 993.7 L200.6 993.7 L202.6 993.7 L204.6 993.7 L206.6 993.7 L208.6 993.7 L210.6 993.7 L212.6 993.7 L214.6 993.7 L216.6 993.7 L218.6 993.7 L220.6 993.7 L222.6 993.7 L224.6 993.7 L226.6 993.7 L228.6 993.7 L230.6 993.7 L232.6 993.7 L234.6 993.7 L236.6 993.7 L238.6 993.7 L240.6 993.7 L242.6 993.7 L244.6 993.7 L246.6 993.7 L248.6 993.7 L250.6 993.7 L252.6 993.7 L254.6 993.7 L256.6 993.7 L258.6 993.7 L260.6 993.7 L262.6 993.7 L264.6 993.7 L266.6 993.7 L268.6 993.7 L270.6 993.7 L272.6 993.7 L274.6 993.7 L276.6 993.7 L278.6 993.7 L280.6 993.7 L282.6 993.7 L284.6 993.7 L286.6 993.7 L288.6 993.7 L290.6 993.7 L292.6 993.7 L294.6 993.7 L296.6 993.7 L298.6 993.7 L300.6 993.7 L302.6 993.7 L304.6 993.6 L306.6 993.6 L308.6 993.6 L310.6 993.5 L312.6 993.4 L314.6 993.3 L316.6 993.2 L318.6 993.1 L320.6 992.9 L322.6 992.6 L324.6 992.3 L326.6 992 L328.6 991.5 L330.6 991 L332.6 990.4 L334.6 989.8 L336.6 989 L338.6 988.2 L340.6 987.3 L342.6 986.4 L344.6 985.5 L346.6 984.5 L348.6 983.5 L350.6 982.6 L352.6 981.8 L354.6 981 L356.6 980.4 L358.6 979.9 L360.6 979.6 L362.6 979.4 L364.6 979.4 L366.6 979.6 L368.6 980 L370.6 980.5 L372.6 981.1 L373.6 981.5"/>
<path stroke="#878787" stroke-width="1.6" fill="none" d="M82.6 993.7 L84.6 993.7 L86.6 993.7 L88.6 993.7 L90.6 993.7 L92.6 993.7 L94.6 993.7 L96.6 993.7 L98.6 993.7 L100.6 993.7 L102.6 993.7 L104.6 993.7 L106.6 993.7 L108.6 993.7 L110.6 993.7 L112.6 993.7 L114.6 993.7 L116.6 993.7 L118.6 993.7 L120.6 993.7 L122.6 993.7 L124.6 993.7 L126.6 993.7 L128.6 993.7 L130.6 993.7 L132.6 993.7 L134.6 993.7 L136.6 993.7 L138.6 993.7 L140.6 993.7 L142.6 993.7 L144.6 993.7 L146.6 993.7 L148.6 993.7 L150.6 993.7 L152.6 993.7 L154.6 993.7 L156.6 993.7 L158.6 993.7 L160.6 993.7 L162.6 993.7 L164.6 993.7 L166.6 993.7 L168.6 993.7 L170.6 993.7 L172.6 993.7 L174.6 993.7 L176.6 993.7 L178.6 993.7 L180.6 993.7 L182.6 993.7 L184.6 993.7 L186.6 993.7 L188.6 993.7 L190.6 993.7 L192.6 993.7 L194.6 993.7 L196.6 993.7 L198.6 993.7 L200.6 993.7 L202.6 993.7 L204.6 993.7 L206.6 993.7 L208.6 993.7 L210.6 993.7 L212.6 993.7 L214.6 993.7 L216.6 993.7 L218.6 993.7 L220.6 993.7 L222.6 993.7 L224.6 993.7 L226.6 993.7 L228.6 993.7 L230.6 993.7 L232.6 993.7 L234.6 993.7 L236.6 993.7 L238.6 993.7 L240.6 993.7 L242.6 993.7 L244.6 993.7 L246.6 993.7 L248.6 993.7 L250.6 993.7 L252.6 993.7 L254.6 993.7 L256.6 993.7 L258.6 993.7 L260.6 993.7 L262.6 993.7 L264.6 993.7 L266.6 993.7 L268.6 993.7 L270.6 993.7 L272.6 993.7 L274.6 993.7 L276.6 993.7 L278.6 993.7 L280.6 993.7 L282.6 993.7 L284.6 993.7 L286.6 993.7 L288.6 993.7 L290.6 993.7 L292.6 993.7 L294.6 993.7 L296.6 993.7 L298.6 993.7 L300.6 993.7 L302.6 993.7 L304.6 993.7 L306.6 993.7 L308.6 993.7 L310.6 993.7 L312.6 993.7 L314.6 993.6 L316.6 993.6 L318.6 993.6 L320.6 993.5 L322.6 993.4 L324.6 993.3 L326.6 993.2 L328.6 993.1 L330.6 992.9 L332.6 992.6 L334.6 992.3 L336.6 992 L338.6 991.6 L340.6 991.1 L342.6 990.6 L344.6 989.9 L346.6 989.3 L348.6 988.5 L350.6 987.7 L352.6 986.9 L354.6 986.1 L356.6 985.2 L358.6 984.4 L360.6 983.7 L362.6 983 L364.6 982.3 L366.6 981.9 L368.6 981.5 L370.6 981.3 L372.6 981.2 L373.6 981.2"/>
<path stroke="#878787" stroke-width="1.6" fill="none" d="M82.6 993.7 L84.6 993.7 L86.6 993.7 L88.6 993.7 L90.6 993.7 L92.6 993.7 L94.6 993.7 L96.6 993.7 L98.6 993.7 L100.6 993.7 L102.6 993.7 L104.6 993.7 L106.6 993.7 L108.6 993.7 L110.6 993.7 L112.6 993.7 L114.6 993.7 L116.6 993.7 L118.6 993.7 L120.6 993.7 L122.6 993.7 L124.6 993.7 L126.6 993.7 L128.6 993.7 L130.6 993.7 L132.6 993.7 L134.6 993.7 L136.6 993.7 L138.6 993.7 L140.6 993.7 L142.6 993.7 L144.6 993.7 L146.6 993.7 L148.6 993.7 L150.6 993.7 L152.6 993.7 L154.6 993.7 L156.6 993.7 L158.6 993.7 L160.6 993.7 L162.6 993.7 L164.6 993.7 L166.6 993.7 L168.6 993.7 L170.6 993.7 L172.6 993.7 L174.6 993.7 L176.6 993.7 L178.6 993.7 L180.6 993.7 L182.6 993.7 L184.6 993.7 L186.6 993.7 L188.6 993.7 L190.6 993.7 L192.6 993.7 L194.6 993.7 L196.6 993.7 L198.6 993.7 L200.6 993.7 L202.6 993.7 L204.6 993.7 L206.6 993.7 L208.6 993.7 L210.6 993.7 L212.6 993.7 L214.6 993.7 L216.6 993.7 L218.6 993.7 L220.6 993.7 L222.6 993.7 L224.6 993.7 L226.6 993.7 L228.6 993.7 L230.6 993.7 L232.6 993.7 L234.6 993.7 L236.6 993.7 L238.6 993.7 L240.6 993.7 L242.6 993.7 L244.6 993.7 L246.6 993.7 L248.6 993.7 L250.6 993.7 L252.6 993.7 L254.6 993.7 L256.6 993.7 L258.6 993.7 L260.6 993.7 L262.6 993.7 L264.6 993.7 L266.6 993.7 L268.6 993.7 L270.6 993.7 L272.6 993.7 L274.6 993.7 L276.6 993.7 L278.6 993.7 L280.6 993.7 L282.6 993.7 L284.6 993.7 L286.6 993.7 L288.6 993.7 L290.6 993.7 L292.6 993.7 L294.6 993.7 L296.6 993.7 L298.6 993.7 L300.6 993.7 L302.6 993.7 L304.6 993.7 L306.6 993.7 L308.6 993.7 L310.6 993.7 L312.6 993.7 L314.6 993.7 L316.6 993.7 L318.6 993.7 L320.6 993.7 L322.6 993.6 L324.6 993.6 L326.6 993.6 L328.6 993.5 L330.6 993.5 L332.6 993.4 L334.6 993.3 L336.6 993.2 L338.6 993 L340.6 992.8 L342.6 992.6 L344.6 992.3 L346.6 991.9 L348.6 991.5 L350.6 991 L352.6 990.5 L354.6 989.9 L356.6 989.2 L358.6 988.5 L360.6 987.7 L362.6 986.9 L364.6 986.1 L366.6 985.4 L368.6 984.6 L370.6 983.9 L372.6 983.3 L373.6 983"/>
<path stroke="#878787" stroke-width="1.6" fill="none" d="M82.6 993.7 L84.6 993.7 L86.6 993.7 L88.6 993.7 L90.6 993.7 L92.6 993.7 L94.6 993.7 L96.6 993.7 L98.6 993.7 L100.6 993.7 L102.6 993.7 L104.6 993.7 L106.6 993.7 L108.6 993.7 L110.6 993.7 L112.6 993.7 L114.6 993.7 L116.6 993.7 L118.6 993.7 L120.6 993.7 L122.6 993.7 L124.6 993.7 L126.6 993.7 L128.6 993.7 L130.6 993.7 L132.6 993.7 L134.6 993.7 L136.6 993.7 L138.6 993.7 L140.6 993.7 L142.6 993.7 L144.6 993.7 L146.6 993.7 L148.6 993.7 L150.6 993.7 L152.6 993.7 L154.6 993.7 L156.6 993.7 L158.6 993.7 L160.6 993.7 L162.6 993.7 L164.6 993.7 L166.6 993.7 L168.6 993.7 L170.6 993.7 L172.6 993.7 L174.6 993.7 L176.6 993.7 L178.6 993.7 L180.6 993.7 L182.6 993.7 L184.6 993.7 L186.6 993.7 L188.6 993.7 L190.6 993.7 L192.6 993.7 L194.6 993.7 L196.6 993.7 L198.6 993.7 L200.6 993.7 L202.6 993.7 L204.6 993.7 L206.6 993.7 L208.6 993.7 L210.6 993.7 L212.6 993.7 L214.6 993.7 L216.6 993.7 L218.6 993.7 L220.6 993.7 L222.6 993.7 L224.6 993.7 L226.6 993.7 L228.6 993.7 L230.6 993.7 L232.6 993.7 L234.6 993.7 L236.6 993.7 L238.6 993.7 L240.6 993.7 L242.6 993.7 L244.6 993.7 L246.6 993.7 L248.6 993.7 L250.6 993.7 L252.6 993.7 L254.6 993.7 L256.6 993.7 L258.6 993.7 L260.6 993.7 L262.6 993.7 L264.6 993.7 L266.6 993.7 L268.6 993.7 L270.6 993.7 L272.6 993.7 L274.6 993.7 L276.6 993.7 L278.6 993.7 L280.6 993.7 L282.6 993.7 L284.6 993.7 L286.6 993.7 L288.6 993.7 L290.6 993.7 L292.6 993.7 L294.6 993.7 L296.6 993.7 L298.6 993.7 L300.6 993.7 L302.6 993.7 L304.6 993.7 L306.6 993.7 L308.6 993.7 L310.6 993.7 L312.6 993.7 L314.6 993.7 L316.6 993.7 L318.6 993.7 L320.6 993.7 L322.6 993.7 L324.6 993.7 L326.6 993.7 L328.6 993.7 L330.6 993.7 L332.6 993.6 L334.6 993.6 L336.6 993.6 L338.6 993.5 L340.6 993.5 L342.6 993.4 L344.6 993.3 L346.6 993.1 L348.6 992.9 L350.6 992.7 L352.6 992.5 L354.6 992.1 L356.6 991.8 L358.6 991.3 L360.6 990.8 L362.6 990.3 L364.6 989.7 L366.6 989 L368.6 988.3 L370.6 987.5 L372.6 986.8 L373.6 986.4"/>
<path stroke="#878787" stroke-width="1.6" fill="none" d="M82.6 993.7 L84.6 993.7 L86.6 993.7 L88.6 993.7 L90.6 993.7 L92.6 993.7 L94.6 993.7 L96.6 993.7 L98.6 993.7 L100.6 993.7 L102.6 993.7 L104.6 993.7 L106.6 993.7 L108.6 993.7 L110.6 993.7 L112.6 993.7 L114.6 993.7 L116.6 993.7 L118.6 993.7 L120.6 993.7 L122.6 993.7 L124.6 993.7 L126.6 993.7 L128.6 993.7 L130.6 993.7 L132.6 993.7 L134.6 993.7 L136.6 993.7 L138.6 993.7 L140.6 993.7 L142.6 993.7 L144.6 993.7 L146.6 993.7 L148.6 993.7 L150.6 993.7 L152.6 993.7 L154.6 993.7 L156.6 993.7 L158.6 993.7 L160.6 993.7 L162.6 993.7 L164.6 993.7 L166.6 993.7 L168.6 993.7 L170.6 993.7 L172.6 993.7 L174.6 993.7 L176.6 993.7 L178.6 993.7 L180.6 993.7 L182.6 993.7 L184.6 993.7 L186.6 993.7 L188.6 993.7 L190.6 993.7 L192.6 993.7 L194.6 993.7 L196.6 993.7 L198.6 993.7 L200.6 993.7 L202.6 993.7 L204.6 993.7 L206.6 993.7 L208.6 993.7 L210.6 993.7 L212.6 993.7 L214.6 993.7 L216.6 993.7 L218.6 993.7 L220.6 993.7 L222.6 993.7 L224.6 993.7 L226.6 993.7 L228.6 993.7 L230.6 993.7 L232.6 993.7 L234.6 993.7 L236.6 993.7 L238.6 993.7 L240.6 993.7 L242.6 993.7 L244.6 993.7 L246.6 993.7 L248.6 993.7 L250.6 993.7 L252.6 993.7 L254.6 993.7 L256.6 993.7 L258.6 993.7 L260.6 993.7 L262.6 993.7 L264.6 993.7 L266.6 993.7 L268.6 993.7 L270.6 993.7 L272.6 993.7 L274.6 993.7 L276.6 993.7 L278.6 993.7 L280.6 993.7 L282.6 993.7 L284.6 993.7 L286.6 993.7 L288.6 993.7 L290.6 993.7 L292.6 993.7 L294.6 993.7 L296.6 993.7 L298.6 993.7 L300.6 993.7 L302.6 993.7 L304.6 993.7 L306.6 993.7 L308.6 993.7 L310.6 993.7 L312.6 993.7 L314.6 993.7 L316.6 993.7 L318.6 993.7 L320.6 993.7 L322.6 993.7 L324.6 993.7 L326.6 993.7 L328.6 993.7 L330.6 993.7 L332.6 993.7 L334.6 993.7 L336.6 993.7 L338.6 993.7 L340.6 993.6 L342.6 993.6 L344.6 993.6 L346.6 993.6 L348.6 993.5 L350.6 993.4 L352.6 993.3 L354.6 993.2 L356.6 993.1 L358.6 992.9 L360.6 992.6 L362.6 992.4 L364.6 992 L366.6 991.6 L368.6 991.2 L370.6 990.7 L372.6 990.1 L373.6 989.8"/>
<path stroke="#00008c" stroke-width="3.35" fill="none" stroke-linejoin="round" stroke-linecap="round" d="M83 932.1 L84.6 934.5 L86.1 936.1 L87.7 935 L89.3 934.6 L90.7 934.7 L92.2 933.8 L93.8 931.9 L95.6 928.4 L97 928.6 L98.5 930.7 L100.1 931.6 L101.6 930.3 L103.2 930.1 L104.6 931.4 L106.3 931.9 L107.6 930 L109 927.2 L110.5 924.6 L112.3 924.8 L113.8 926.3 L115.1 924.5 L116.6 922 L118.3 921.3 L119.9 923.5 L121.4 922.5 L122.9 918.6 L124.4 915.4 L126 914.3 L127.8 914.7 L129.3 912.2 L130.8 909.6 L132.3 910.4 L133.9 911.4 L135.2 909.9 L136.6 906.8 L138.2 904.6 L140 904 L141.3 903.2 L142.6 901.4 L144.2 898.3 L145.9 896.4 L147.6 896.5 L149.1 895.5 L150.7 892.5 L152.1 890.3 L153.5 889.2 L154.8 888.8 L156.1 887.2 L157.7 883.3 L159.3 880.4 L160.8 878.1 L162.3 876.8 L163.8 874.1 L165.3 869.9 L166.8 867.2 L168.2 865.4 L169.7 864 L171.2 860.7 L172.8 856.9 L174.4 855.1 L175.6 854 L176.8 852.9 L178.1 850.4 L179.3 847.5 L180.5 845.3 L181.8 844.6 L183 843.8 L184.5 841 L185.8 837.4 L187.1 833.4 L188.4 831.7 L189.8 829.6 L191.3 826.6 L192.8 822.1 L194.2 817.5 L195.7 815.2 L197.1 813.7 L198.6 810.4 L200.1 807.3 L201.6 804.9 L203.1 804.6 L204.6 804 L205.9 802.2 L207.3 798.9 L208.7 797 L210.3 796.5 L211.8 796.2 L213.1 794.4 L214.7 793.6 L216.3 794 L217.7 795 L219 794.9 L220.4 793.9 L221.7 793.2 L223.1 794.5 L224.5 796.5 L226 798 L227.6 797.3 L229.1 795.9 L230.5 796 L231.9 796.5 L233.1 796.4 L234.7 796 L236.2 795.7 L237.9 794.8 L239.2 794.7 L240.5 795.3 L241.9 794.9 L243.3 795.2 L244.7 797 L246 798.7 L247.4 799.5 L248.6 799.5 L249.8 799.5 L251.5 801 L252.9 804.6 L254.1 806.6 L256 805.2 L257.6 804.1 L258.9 805.1 L260.2 807.1 L261.6 807.6 L263.4 807.8 L265.2 808.6 L266.6 810.5 L268.1 811.4 L269.5 810.8 L270.8 810.9 L272.1 813 L273.7 817.1 L275.2 820.3 L276.4 821.8 L277.7 823.6 L278.9 826 L280.4 831 L281.8 834.7 L283.3 836.9 L284.8 839.4 L286.2 843.1 L287.6 846.7 L289.1 848.7 L290.6 849.4 L292.5 849.8 L293.8 850.8 L295.2 852.5 L296.6 852.7 L297.9 852.2 L299.3 852.5 L301.1 854.7 L302.8 857.5 L304.5 857.3 L306.3 857.5 L307.9 860.5 L309.4 862.8 L311 863.5 L312.7 863.8 L314.4 865 L316 868.2 L317.6 870.9 L319.2 872.1 L320.5 873.4 L321.9 875.7 L323.2 878.4 L324.7 879.6 L326.3 880.1 L327.8 881.2 L329.2 884.1 L330.5 886.4 L331.9 887.5 L333.4 888.3 L334.9 889.9 L336.5 892.5 L338.2 894.2 L340 894.2 L341.5 895 L343.1 897.2 L344.5 899.9 L345.9 901.1 L347.2 901.5 L348.6 902.8 L350.1 905.7 L351.7 908 L353.6 908.7 L354.9 908.8 L356.3 909.6 L357.7 911.6 L359 912.5 L360.4 912.1 L361.7 911.3 L363.1 912 L364.4 913.9 L366.2 915.6 L367.9 915.7 L369.6 916.9 L371.2 919.8 L372.6 922 L374.3 922.8"/>
<path stroke="#cf2127" stroke-width="3" fill="none" stroke-dasharray="15 8" d="M83 915.7 C84.2 916.6 87.5 919.1 90.1 920.8 C92.6 922.5 95.6 924.8 98.3 925.9 C101 927 103.4 927.3 106.4 927.5 C109.5 927.7 113.2 927.8 116.6 927.3 C120 926.8 123.4 925.9 126.8 924.8 C130.2 923.7 133.6 922.5 137 920.8 C140.4 919.1 143.7 916.9 147.1 914.7 C150.5 912.5 153.9 910.2 157.3 907.5 C160.7 904.8 164.4 901.6 167.5 898.4 C170.6 895.2 173.2 891.9 175.6 888.2 C178 884.5 179.7 880.8 181.7 876 C183.7 871.2 185.9 865.1 187.8 859.7 C189.7 854.3 191.2 848.8 192.9 843.4 C194.6 838 196.1 833 198 827.2 C199.9 821.4 201.7 814.6 204.1 808.8 C206.5 803 209.6 797.3 212.3 792.6 C215 787.9 218.1 783.4 220.4 780.4 C222.7 777.4 224.4 775.9 226 774.5 C227.6 773.1 228.6 772.8 230 772.3 C231.4 771.8 232.7 771.5 234.2 771.8 C235.7 772.1 237.7 773 239.2 774.3 C240.7 775.5 241.9 777.3 243.3 779.3 C244.7 781.3 246 784 247.4 786.5 C248.8 789 249.8 791.2 251.5 794.6 C253.2 798 255.6 803.1 257.6 806.8 C259.6 810.5 261.7 814 263.7 817 C265.7 820 267.8 822.6 269.8 825.1 C271.8 827.6 273.9 830.2 275.9 832.3 C277.9 834.3 279.6 835.5 282 837.4 C284.4 839.3 287.4 841.6 290.1 843.5 C292.8 845.4 295.6 846.9 298.3 848.6 C301 850.3 303.7 852.1 306.4 853.6 C309.1 855.1 311.9 856.3 314.6 857.7 C317.3 859.1 320 860.6 322.7 861.8 C325.4 863 328.1 863.6 330.8 864.8 C333.5 866 336.6 867.2 339 868.9 C341.4 870.6 343.1 872.8 345.1 875 C347.1 877.2 348.8 879.7 351.2 882.1 C353.6 884.5 356.6 887.4 359.3 889.3 C362 891.2 364.9 892.1 367.5 893.3 C370.1 894.5 373.8 895.9 375 896.4"/>
</g>
<rect x="82.6" y="705.3" width="291" height="288.4" stroke="#000" stroke-width="1.9" fill="none"/>
<text x="119.1" y="1033.2" font-size="20.5" text-anchor="middle">7.5</text>
<text x="204.7" y="1033.2" font-size="20.5" text-anchor="middle">8</text>
<text x="290.3" y="1033.2" font-size="20.5" text-anchor="middle">8.5</text>
<text x="375.9" y="1033.2" font-size="20.5" text-anchor="middle">9</text>
<text x="70.4" y="1001.1" font-size="20.5" text-anchor="end">0</text>
<text x="70.4" y="911" font-size="20.5" text-anchor="end">50</text>
<text x="70.4" y="820.9" font-size="20.5" text-anchor="end">100</text>
<text x="70.4" y="730.7" font-size="20.5" text-anchor="end">150</text>
<text x="329" y="766.1" font-size="20.5" font-weight="bold" text-anchor="middle">V</text>
<path d="M514.5 705.3V717.8 M514.5 993.7V981.2 M595.2 705.3V717.8 M595.2 993.7V981.2 M675.9 705.3V717.8 M675.9 993.7V981.2 M433.8 936H446.3 M724.3 936H711.8 M433.8 878.3H446.3 M724.3 878.3H711.8 M433.8 820.7H446.3 M724.3 820.7H711.8 M433.8 763H446.3 M724.3 763H711.8" stroke="#111" stroke-width="1.6" fill="none"/>
<defs><clipPath id="cVI"><rect x="433.8" y="705.3" width="290.5" height="288.4"/></clipPath></defs>
<g clip-path="url(#cVI)">
<path d="M433.8 973.8 C435.4 973.9 439.7 974.4 443.6 974.7 C447.5 975 452.6 975.5 457.1 975.6 C461.6 975.7 466.2 975.4 470.7 975.2 C475.2 975.1 480.2 975 484.3 974.7 C488.4 974.4 491.7 973.6 495.1 973.6 C498.5 973.6 500.8 974.3 504.6 974.9 C508.5 975.5 514 976.4 518.2 977 C522.4 977.6 525.1 977.5 530 978.3 C534.9 979.1 541.7 981.3 547.5 981.8 C553.3 982.3 559.6 981.6 565 981.5 C570.4 981.4 574.5 981.3 580 981 C585.5 980.7 590.3 979.9 598 979.6 C605.7 979.3 619 979.3 626 979 C633 978.7 635.8 978.4 640 977.6 C644.2 976.8 648 974.8 651.1 974 C654.2 973.2 656 972.6 658.5 972.6 C661 972.6 663 973.1 666 974 C669 974.9 671.5 977.5 676.3 978.2 C681.1 978.9 689.4 978 695 978 C700.6 978 705 978.3 710 978.5 C715 978.7 722.5 979.2 725 979.3 L725 994 L433 994 Z" fill="#8b8b8b" stroke="#878787" stroke-width="1"/>
<defs><pattern id="dots" width="4" height="6" patternUnits="userSpaceOnUse"><rect x="0.5" y="0.6" width="1.3" height="1.3" fill="#fff"/><rect x="2.5" y="3.6" width="1.3" height="1.3" fill="#fff"/></pattern><clipPath id="band"><path d="M433.8 976.8 C435.4 976.9 439.7 977.4 443.6 977.7 C447.5 978 452.6 978.5 457.1 978.6 C461.6 978.7 466.2 978.4 470.7 978.2 C475.2 978.1 480.2 978 484.3 977.7 C488.4 977.4 491.7 976.6 495.1 976.6 C498.5 976.6 500.8 977.3 504.6 977.9 C508.5 978.5 514 979.4 518.2 980 C522.4 980.6 525.1 980.5 530 981.3 C534.9 982.1 541.7 984.3 547.5 984.8 C553.3 985.3 559.6 984.6 565 984.5 C570.4 984.4 574.5 984.3 580 984 C585.5 983.7 590.3 982.9 598 982.6 C605.7 982.3 619 982.3 626 982 C633 981.7 635.8 981.4 640 980.6 C644.2 979.8 648 977.8 651.1 977 C654.2 976.2 656 975.6 658.5 975.6 C661 975.6 663 976.1 666 977 C669 977.9 671.5 980.5 676.3 981.2 C681.1 981.9 689.4 981 695 981 C700.6 981 705 981.3 710 981.5 C715 981.7 722.5 982.2 725 982.3 L725 990.2 L433 990.2 Z"/></clipPath></defs>
<g clip-path="url(#band)"><rect x="433" y="965" width="98" height="30" fill="url(#dots)" opacity="0.55"/><rect x="531" y="965" width="109" height="30" fill="url(#dots)" opacity="0.18"/><rect x="640" y="965" width="50" height="30" fill="url(#dots)" opacity="0.5"/><rect x="690" y="965" width="36" height="30" fill="url(#dots)" opacity="0.2"/></g>
<path stroke="#00008c" stroke-width="3.35" fill="none" stroke-linejoin="round" stroke-linecap="round" d="M434.4 880.4 L437.1 878.5 L440.1 878.9 L443.2 879.4 L446.4 884.3 L449.1 886.9 L451.9 885.8 L454.7 885.5 L457.5 883.9 L460.7 885.9 L463.8 885.6 L466.9 885.8 L469.7 879.1 L472.7 879.4 L475.4 874.2 L478.2 874.1 L481.1 868.2 L483.9 864.2 L486.7 854.9 L490 857.8 L492.7 851.4 L495.3 854.4 L498.2 850.5 L501.4 852.1 L504.1 849.8 L506.9 849.7 L509.7 856.3 L512.6 859.1 L515.3 860.3 L518 864.3 L520.7 864.4 L523.6 870.8 L526.5 872 L529.2 876.9 L532.2 879.1 L535.3 883.2 L538.3 884.4 L541.4 889.7 L544.6 889.7 L547.6 892.3 L550.9 890.7 L554.1 891.9 L557 887.8 L560 888.1 L562.8 884 L565.8 882.6 L569 878.8 L571.9 879.1 L575.1 873.2 L578.1 872.4 L581.2 866.9 L584.1 868.1 L587.1 866.6 L590.2 868.3 L593.3 864.4 L596.3 862.7 L599.7 859.9 L602.8 860.5 L605.9 857 L608.9 861.1 L612.2 857.6 L615.1 858.2 L618 855 L620.7 858.3 L623.4 858.1 L626.6 862.2 L629.4 861 L632.3 864.5 L635.2 861.1 L638.1 862.1 L641 861.5 L643.9 864.3 L646.9 862.6 L649.7 865.4 L652.6 861.8 L655.3 862.7 L658.4 859.1 L661.1 856.5 L664.1 853.3 L666.9 852.2 L669.7 847.1 L672.3 845.7 L675.2 842.8 L678.1 840.1 L680.7 832.4 L684 831.1 L686.9 828.4 L689.7 829.9 L692.3 829.7 L695.2 831.8 L698.1 830 L701.1 830 L704 828.9 L707.1 835.2 L710.3 833.1 L713 835.7 L715.8 835.5 L718.6 839 L721.3 837.3 L724.5 840.3"/>
<path stroke="#cf2127" stroke-width="3" fill="none" stroke-dasharray="15 8" d="M434.4 838.3 C435.7 839 439.2 841.4 442.2 842.4 C445.2 843.4 449 844.3 452.4 844.4 C455.8 844.5 459.1 843.5 462.5 842.8 C465.9 842.1 469.3 841 472.7 840.4 C476.1 839.8 479.5 839.3 482.9 839.3 C486.3 839.3 489.7 840 493.1 840.4 C496.5 840.8 499.8 840.7 503.2 841.4 C506.6 842.1 510 843.5 513.4 844.4 C516.8 845.2 520.2 846.1 523.6 846.5 C527 846.9 530.4 847 533.8 846.9 C537.2 846.8 540.5 846.9 543.9 846.1 C547.3 845.4 551.4 843.5 554.1 842.4 C556.8 841.2 557.9 841.1 560 839.2 C562.1 837.3 564.1 833.7 566.8 831 C569.5 828.3 572.9 824.4 576.3 822.9 C579.7 821.4 583.9 821.8 587.1 821.8 C590.3 821.8 593 822.5 595.3 822.6 C597.6 822.7 598 822.6 600.7 822.2 C603.4 821.8 608.2 821.2 611.6 820.2 C615 819.2 618.4 817.9 621.1 816.1 C623.8 814.3 625.8 812.2 627.8 809.3 C629.8 806.4 631.5 802.3 633.3 798.5 C635.1 794.7 636.7 790.4 638.7 786.3 C640.7 782.2 643.3 777.6 645.5 774.1 C647.7 770.6 649.5 767.4 651.7 765.2 C653.9 763 656.8 761.5 658.7 761.1 C660.6 760.7 661.5 761.2 663.3 762.8 C665 764.3 667.1 767.3 669.2 770.4 C671.4 773.5 673.9 778.2 676.2 781.5 C678.5 784.8 680.9 788.2 683.2 790.3 C685.5 792.4 688.3 793.7 690.2 794.3 C692.1 794.9 692.7 795 694.8 794.1 C696.9 793.2 699.5 790.8 703 789.1 C706.5 787.4 712.1 785.7 715.8 783.8 C719.5 781.9 723.5 778.5 725 777.5"/>
</g>
<rect x="433.8" y="705.3" width="290.5" height="288.4" stroke="#000" stroke-width="1.9" fill="none"/>
<text x="436.1" y="1033.2" font-size="20.5" text-anchor="middle">9</text>
<text x="516.8" y="1033.2" font-size="20.5" text-anchor="middle">9.5</text>
<text x="597.5" y="1033.2" font-size="20.5" text-anchor="middle">10</text>
<text x="678.2" y="1033.2" font-size="20.5" text-anchor="middle">10.5</text>
<text x="421.6" y="1001.1" font-size="20.5" text-anchor="end">0</text>
<text x="421.6" y="943.4" font-size="20.5" text-anchor="end">20</text>
<text x="421.6" y="885.7" font-size="20.5" text-anchor="end">40</text>
<text x="421.6" y="828.1" font-size="20.5" text-anchor="end">60</text>
<text x="421.6" y="770.4" font-size="20.5" text-anchor="end">80</text>
<text x="421.6" y="712.7" font-size="20.5" text-anchor="end">100</text>
<text x="491.4" y="769.7" font-size="20.5" font-weight="bold" text-anchor="middle">VI</text>
<text x="393.8" y="1061" font-size="20.8" text-anchor="middle">Photon energy (eV)</text>
<text transform="translate(23.4 548.6) rotate(-90)" font-size="21.3" text-anchor="middle">Cross section (Mb)</text>
</svg></body></html>
